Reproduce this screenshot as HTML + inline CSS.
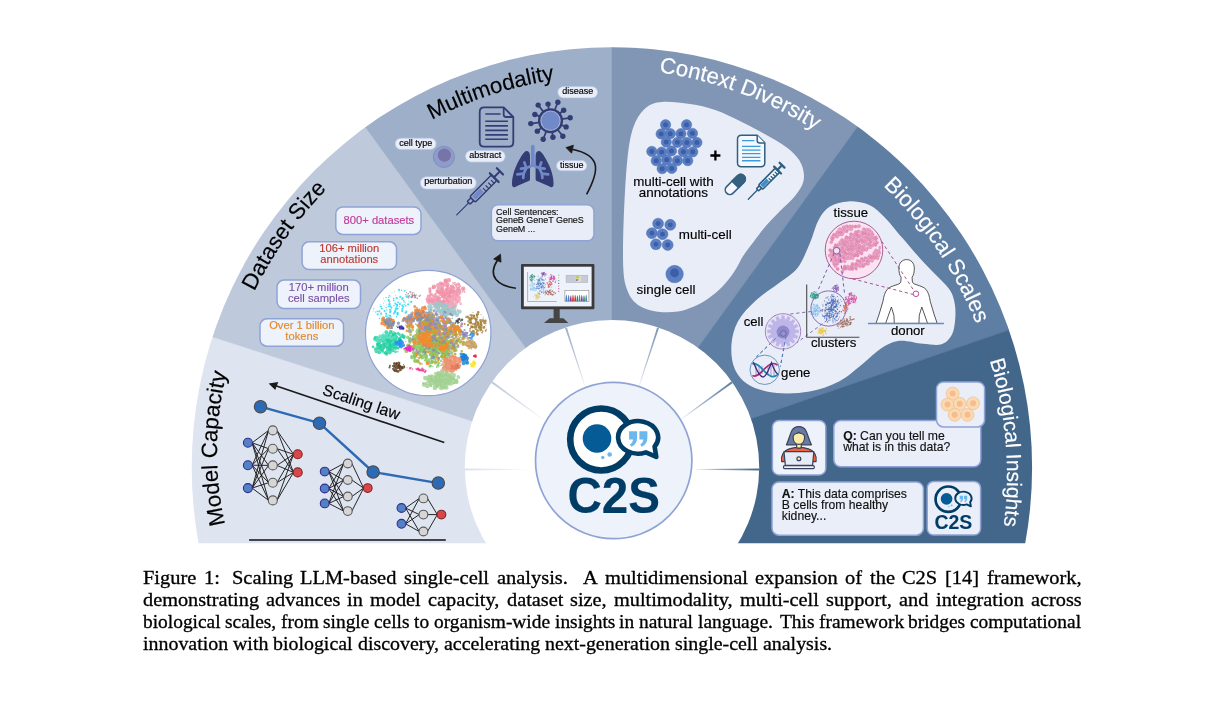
<!DOCTYPE html>
<html lang="en"><head><meta charset="utf-8"><title>Figure 1: Scaling LLM-based single-cell analysis</title>
<style>
html,body{margin:0;padding:0;background:#fff;}
body{width:1222px;height:703px;overflow:hidden;position:relative;font-family:"Liberation Sans",sans-serif;}
svg{position:absolute;left:0;top:0;display:block;will-change:transform}
svg text{font-family:"Liberation Sans",sans-serif;stroke-width:0.15px}
.cap{will-change:transform;position:absolute;left:143.4px;top:566px;width:960px;height:110px;font-family:"Liberation Serif",serif;font-size:19.85px;line-height:22px;color:#000;}
.cap div{position:absolute;left:0;width:960px;height:22px;margin-top:-17.2px}
.cap span{position:absolute;top:0;white-space:nowrap;transform-origin:0 0;-webkit-text-stroke:0.32px #000}
</style></head><body>
<svg width="1222" height="703" viewBox="0 0 1222 703">
<defs>
<clipPath id="fan"><path d="M0,0 H1222 V543.2 H0 Z"/></clipPath>
<clipPath id="disc"><circle cx="611.9" cy="467.5" r="420.2"/></clipPath>
<clipPath id="hubclip"><circle cx="612.0" cy="467.2" r="147.2"/></clipPath>
<clipPath id="umapclip"><circle cx="428.2" cy="333.0" r="60.2"/></clipPath>
<clipPath id="tisclip"><circle cx="854.0" cy="250.0" r="27.0"/></clipPath>
<linearGradient id="sp0" gradientUnits="userSpaceOnUse" x1="463" y1="469.4" x2="528" y2="469.4"><stop offset="0" stop-color="#D9E0EF"/><stop offset="0.6" stop-color="#D9E0EF" stop-opacity="0.6"/><stop offset="1" stop-color="#D9E0EF" stop-opacity="0.1"/></linearGradient>
<linearGradient id="sp1" gradientUnits="userSpaceOnUse" x1="491.46" y1="381.82" x2="544.04" y2="420.03"><stop offset="0" stop-color="#BEC9DC"/><stop offset="0.6" stop-color="#BEC9DC" stop-opacity="0.6"/><stop offset="1" stop-color="#BEC9DC" stop-opacity="0.1"/></linearGradient>
<linearGradient id="sp2" gradientUnits="userSpaceOnUse" x1="565.96" y1="327.69" x2="586.04" y2="389.51"><stop offset="0" stop-color="#9EB0C9"/><stop offset="0.6" stop-color="#9EB0C9" stop-opacity="0.6"/><stop offset="1" stop-color="#9EB0C9" stop-opacity="0.1"/></linearGradient>
<linearGradient id="sp3" gradientUnits="userSpaceOnUse" x1="658.04" y1="327.69" x2="637.96" y2="389.51"><stop offset="0" stop-color="#8196B5"/><stop offset="0.6" stop-color="#8196B5" stop-opacity="0.6"/><stop offset="1" stop-color="#8196B5" stop-opacity="0.1"/></linearGradient>
<linearGradient id="sp4" gradientUnits="userSpaceOnUse" x1="732.54" y1="381.82" x2="679.96" y2="420.03"><stop offset="0" stop-color="#5F7EA4"/><stop offset="0.6" stop-color="#5F7EA4" stop-opacity="0.6"/><stop offset="1" stop-color="#5F7EA4" stop-opacity="0.1"/></linearGradient>
<linearGradient id="sp5" gradientUnits="userSpaceOnUse" x1="761" y1="469.4" x2="696" y2="469.4"><stop offset="0" stop-color="#43678B"/><stop offset="0.6" stop-color="#43678B" stop-opacity="0.6"/><stop offset="1" stop-color="#43678B" stop-opacity="0.1"/></linearGradient>
</defs>
<g clip-path="url(#fan)"><g clip-path="url(#disc)">
<g id="wedges">
<path d="M612.0,466.6 L162,1246.02 L-243.95,188.48 Z" fill="#DEE4F0" stroke="#DEE4F0" stroke-width="0.5"/>
<path d="M612.0,466.6 L-243.95,188.48 L82.99,-261.52 Z" fill="#BEC9DC" stroke="#BEC9DC" stroke-width="0.5"/>
<path d="M612.0,466.6 L82.99,-261.52 L612,-433.4 Z" fill="#9EB0C9" stroke="#9EB0C9" stroke-width="0.5"/>
<path d="M612.0,466.6 L612,-433.4 L1139.1,-262.9 Z" fill="#8196B5" stroke="#8196B5" stroke-width="0.5"/>
<path d="M612.0,466.6 L1139.1,-262.9 L1462.97,173.59 Z" fill="#5F7EA4" stroke="#5F7EA4" stroke-width="0.5"/>
<path d="M612.0,466.6 L1462.97,173.59 L1062,1246.02 Z" fill="#43678B" stroke="#43678B" stroke-width="0.5"/>
</g>
<g id="titles">
<path id="tp0" d="M292.38,662.44 A331.7,331.7 0 0 1 296.85,236.04" fill="none"/>
<text font-size="22.2" fill="#000" stroke="#000" text-anchor="middle"><textPath href="#tp0" startOffset="50%">Model Capacity</textPath></text>
<path id="tp1" d="M214.35,501.28 A400,400 0 0 1 511.5,81.59" fill="none"/>
<text font-size="22.2" fill="#000" stroke="#000" text-anchor="middle"><textPath href="#tp1" startOffset="50%">Dataset Size</textPath></text>
<path id="tp2" d="M279.72,260.24 A393,393 0 0 1 760.22,104.12" fill="none"/>
<text font-size="22.2" fill="#000" stroke="#000" text-anchor="middle"><textPath href="#tp2" startOffset="50%">Multimodality</textPath></text>
<path id="tp3" d="M470.63,91.03 A394,394 0 0 1 945.38,267.59" fill="none"/>
<text font-size="22.2" fill="#fff" stroke="#fff" text-anchor="middle"><textPath href="#tp3" startOffset="50%">Context Diversity</textPath></text>
<path id="tp4" d="M720.77,92.65 A391,391 0 0 1 1001.86,509.37" fill="none"/>
<text font-size="22.2" fill="#fff" stroke="#fff" text-anchor="middle"><textPath href="#tp4" startOffset="50%">Biological Scales</textPath></text>
<path id="tp5" d="M893.15,199.08 A392,392 0 0 1 935.32,701.26" fill="none"/>
<text font-size="20.9" fill="#fff" stroke="#fff" text-anchor="middle"><textPath href="#tp5" startOffset="50%">Biological Insights</textPath></text>
</g>
<g id="model">
<line x1="252.1" y1="442.8" x2="268.6" y2="430.4" stroke="#1a1a1a" stroke-width="0.95"/>
<line x1="252.1" y1="442.8" x2="268.6" y2="448.7" stroke="#1a1a1a" stroke-width="0.95"/>
<line x1="252.1" y1="442.8" x2="268.6" y2="465.4" stroke="#1a1a1a" stroke-width="0.95"/>
<line x1="252.1" y1="442.8" x2="268.6" y2="482.7" stroke="#1a1a1a" stroke-width="0.95"/>
<line x1="252.1" y1="442.8" x2="268.6" y2="500.4" stroke="#1a1a1a" stroke-width="0.95"/>
<line x1="252.1" y1="465.2" x2="268.6" y2="430.4" stroke="#1a1a1a" stroke-width="0.95"/>
<line x1="252.1" y1="465.2" x2="268.6" y2="448.7" stroke="#1a1a1a" stroke-width="0.95"/>
<line x1="252.1" y1="465.2" x2="268.6" y2="465.4" stroke="#1a1a1a" stroke-width="0.95"/>
<line x1="252.1" y1="465.2" x2="268.6" y2="482.7" stroke="#1a1a1a" stroke-width="0.95"/>
<line x1="252.1" y1="465.2" x2="268.6" y2="500.4" stroke="#1a1a1a" stroke-width="0.95"/>
<line x1="252.1" y1="488.1" x2="268.6" y2="430.4" stroke="#1a1a1a" stroke-width="0.95"/>
<line x1="252.1" y1="488.1" x2="268.6" y2="448.7" stroke="#1a1a1a" stroke-width="0.95"/>
<line x1="252.1" y1="488.1" x2="268.6" y2="465.4" stroke="#1a1a1a" stroke-width="0.95"/>
<line x1="252.1" y1="488.1" x2="268.6" y2="482.7" stroke="#1a1a1a" stroke-width="0.95"/>
<line x1="252.1" y1="488.1" x2="268.6" y2="500.4" stroke="#1a1a1a" stroke-width="0.95"/>
<line x1="277" y1="430.4" x2="293.5" y2="454.3" stroke="#1a1a1a" stroke-width="0.95"/>
<line x1="277" y1="430.4" x2="293.5" y2="472.4" stroke="#1a1a1a" stroke-width="0.95"/>
<line x1="277" y1="448.7" x2="293.5" y2="454.3" stroke="#1a1a1a" stroke-width="0.95"/>
<line x1="277" y1="448.7" x2="293.5" y2="472.4" stroke="#1a1a1a" stroke-width="0.95"/>
<line x1="277" y1="465.4" x2="293.5" y2="454.3" stroke="#1a1a1a" stroke-width="0.95"/>
<line x1="277" y1="465.4" x2="293.5" y2="472.4" stroke="#1a1a1a" stroke-width="0.95"/>
<line x1="277" y1="482.7" x2="293.5" y2="454.3" stroke="#1a1a1a" stroke-width="0.95"/>
<line x1="277" y1="482.7" x2="293.5" y2="472.4" stroke="#1a1a1a" stroke-width="0.95"/>
<line x1="277" y1="500.4" x2="293.5" y2="454.3" stroke="#1a1a1a" stroke-width="0.95"/>
<line x1="277" y1="500.4" x2="293.5" y2="472.4" stroke="#1a1a1a" stroke-width="0.95"/>
<circle cx="247.9" cy="442.8" r="4.5" fill="#5480C6" stroke="#2E2E8E" stroke-width="1.1"/>
<circle cx="247.9" cy="465.2" r="4.5" fill="#5480C6" stroke="#2E2E8E" stroke-width="1.1"/>
<circle cx="247.9" cy="488.1" r="4.5" fill="#5480C6" stroke="#2E2E8E" stroke-width="1.1"/>
<circle cx="272.8" cy="430.4" r="4.5" fill="#D6D6D6" stroke="#5A5A5A" stroke-width="1.1"/>
<circle cx="272.8" cy="448.7" r="4.5" fill="#D6D6D6" stroke="#5A5A5A" stroke-width="1.1"/>
<circle cx="272.8" cy="465.4" r="4.5" fill="#D6D6D6" stroke="#5A5A5A" stroke-width="1.1"/>
<circle cx="272.8" cy="482.7" r="4.5" fill="#D6D6D6" stroke="#5A5A5A" stroke-width="1.1"/>
<circle cx="272.8" cy="500.4" r="4.5" fill="#D6D6D6" stroke="#5A5A5A" stroke-width="1.1"/>
<circle cx="297.7" cy="454.3" r="4.5" fill="#D9474B" stroke="#7E2424" stroke-width="1.1"/>
<circle cx="297.7" cy="472.4" r="4.5" fill="#D9474B" stroke="#7E2424" stroke-width="1.1"/>
<line x1="328.8" y1="471.6" x2="343.7" y2="463.5" stroke="#1a1a1a" stroke-width="0.95"/>
<line x1="328.8" y1="471.6" x2="343.7" y2="480" stroke="#1a1a1a" stroke-width="0.95"/>
<line x1="328.8" y1="471.6" x2="343.7" y2="496.5" stroke="#1a1a1a" stroke-width="0.95"/>
<line x1="328.8" y1="471.6" x2="343.7" y2="511.1" stroke="#1a1a1a" stroke-width="0.95"/>
<line x1="328.8" y1="488.5" x2="343.7" y2="463.5" stroke="#1a1a1a" stroke-width="0.95"/>
<line x1="328.8" y1="488.5" x2="343.7" y2="480" stroke="#1a1a1a" stroke-width="0.95"/>
<line x1="328.8" y1="488.5" x2="343.7" y2="496.5" stroke="#1a1a1a" stroke-width="0.95"/>
<line x1="328.8" y1="488.5" x2="343.7" y2="511.1" stroke="#1a1a1a" stroke-width="0.95"/>
<line x1="328.8" y1="503.4" x2="343.7" y2="463.5" stroke="#1a1a1a" stroke-width="0.95"/>
<line x1="328.8" y1="503.4" x2="343.7" y2="480" stroke="#1a1a1a" stroke-width="0.95"/>
<line x1="328.8" y1="503.4" x2="343.7" y2="496.5" stroke="#1a1a1a" stroke-width="0.95"/>
<line x1="328.8" y1="503.4" x2="343.7" y2="511.1" stroke="#1a1a1a" stroke-width="0.95"/>
<line x1="351.9" y1="463.5" x2="363.6" y2="488.1" stroke="#1a1a1a" stroke-width="0.95"/>
<line x1="351.9" y1="480" x2="363.6" y2="488.1" stroke="#1a1a1a" stroke-width="0.95"/>
<line x1="351.9" y1="496.5" x2="363.6" y2="488.1" stroke="#1a1a1a" stroke-width="0.95"/>
<line x1="351.9" y1="511.1" x2="363.6" y2="488.1" stroke="#1a1a1a" stroke-width="0.95"/>
<circle cx="324.7" cy="471.6" r="4.4" fill="#5480C6" stroke="#2E2E8E" stroke-width="1.1"/>
<circle cx="324.7" cy="488.5" r="4.4" fill="#5480C6" stroke="#2E2E8E" stroke-width="1.1"/>
<circle cx="324.7" cy="503.4" r="4.4" fill="#5480C6" stroke="#2E2E8E" stroke-width="1.1"/>
<circle cx="347.8" cy="463.5" r="4.4" fill="#D6D6D6" stroke="#5A5A5A" stroke-width="1.1"/>
<circle cx="347.8" cy="480" r="4.4" fill="#D6D6D6" stroke="#5A5A5A" stroke-width="1.1"/>
<circle cx="347.8" cy="496.5" r="4.4" fill="#D6D6D6" stroke="#5A5A5A" stroke-width="1.1"/>
<circle cx="347.8" cy="511.1" r="4.4" fill="#D6D6D6" stroke="#5A5A5A" stroke-width="1.1"/>
<circle cx="367.7" cy="488.1" r="4.4" fill="#D9474B" stroke="#7E2424" stroke-width="1.1"/>
<line x1="405.6" y1="508" x2="419.3" y2="498.4" stroke="#1a1a1a" stroke-width="0.95"/>
<line x1="405.6" y1="508" x2="419.3" y2="514.6" stroke="#1a1a1a" stroke-width="0.95"/>
<line x1="405.6" y1="508" x2="419.3" y2="531.5" stroke="#1a1a1a" stroke-width="0.95"/>
<line x1="405.6" y1="523.8" x2="419.3" y2="498.4" stroke="#1a1a1a" stroke-width="0.95"/>
<line x1="405.6" y1="523.8" x2="419.3" y2="514.6" stroke="#1a1a1a" stroke-width="0.95"/>
<line x1="405.6" y1="523.8" x2="419.3" y2="531.5" stroke="#1a1a1a" stroke-width="0.95"/>
<line x1="427.5" y1="498.4" x2="437.3" y2="514.6" stroke="#1a1a1a" stroke-width="0.95"/>
<line x1="427.5" y1="514.6" x2="437.3" y2="514.6" stroke="#1a1a1a" stroke-width="0.95"/>
<line x1="427.5" y1="531.5" x2="437.3" y2="514.6" stroke="#1a1a1a" stroke-width="0.95"/>
<circle cx="401.5" cy="508" r="4.4" fill="#5480C6" stroke="#2E2E8E" stroke-width="1.1"/>
<circle cx="401.5" cy="523.8" r="4.4" fill="#5480C6" stroke="#2E2E8E" stroke-width="1.1"/>
<circle cx="423.4" cy="498.4" r="4.4" fill="#D6D6D6" stroke="#5A5A5A" stroke-width="1.1"/>
<circle cx="423.4" cy="514.6" r="4.4" fill="#D6D6D6" stroke="#5A5A5A" stroke-width="1.1"/>
<circle cx="423.4" cy="531.5" r="4.4" fill="#D6D6D6" stroke="#5A5A5A" stroke-width="1.1"/>
<circle cx="441.4" cy="514.6" r="4.4" fill="#D9474B" stroke="#7E2424" stroke-width="1.1"/>
<polyline points="260.5,406.7 319.5,423.2 373.1,472.0 438.3,483.1" fill="none" stroke="#2D6AB6" stroke-width="2.4" stroke-linejoin="round"/>
<circle cx="260.5" cy="406.7" r="6.2" fill="#2D6AB6" stroke="#4a4a4a" stroke-width="1.1"/>
<circle cx="319.5" cy="423.2" r="6.2" fill="#2D6AB6" stroke="#4a4a4a" stroke-width="1.1"/>
<circle cx="373.1" cy="472.0" r="6.2" fill="#2D6AB6" stroke="#4a4a4a" stroke-width="1.1"/>
<circle cx="438.3" cy="483.1" r="6.2" fill="#2D6AB6" stroke="#4a4a4a" stroke-width="1.1"/>
<line x1="444.3" y1="442.6" x2="275" y2="385.6" stroke="#1a1a1a" stroke-width="1.6"/>
<path d="M268.6,383.4 L278.3,382.0 L276.6,386.2 L275.3,389.9 Z" fill="#1a1a1a"/>
<text transform="translate(321.6,394.3) rotate(18.6)" font-size="15.9" fill="#000" stroke="#000">Scaling law</text>
<line x1="249.1" y1="539.9" x2="445.8" y2="539.9" stroke="#111" stroke-width="1.5"/>
</g>
<g id="dataset">
<rect x="335.8" y="207" width="85.2" height="27.4" rx="7" fill="#EEF2FB" stroke="#8FA3D6" stroke-width="1.5"/>
<text x="378.9" y="223.7" font-size="11.2" fill="#C0399A" stroke="#C0399A" text-anchor="middle">800+ datasets</text>
<rect x="302.1" y="241.8" width="94.4" height="27.8" rx="7" fill="#EEF2FB" stroke="#8FA3D6" stroke-width="1.5"/>
<text font-size="11.2" fill="#BE3A32" stroke="#BE3A32" text-anchor="middle" x="349.3" y="252.1">106+ million</text>
<text font-size="11.2" fill="#BE3A32" stroke="#BE3A32" text-anchor="middle" x="349.3" y="262.9">annotations</text>
<rect x="277" y="280.1" width="83.5" height="28.4" rx="7" fill="#EEF2FB" stroke="#8FA3D6" stroke-width="1.5"/>
<text font-size="11.2" fill="#7C50A6" stroke="#7C50A6" text-anchor="middle" x="318.8" y="290.7">170+ million</text>
<text font-size="11.2" fill="#7C50A6" stroke="#7C50A6" text-anchor="middle" x="318.8" y="301.5">cell samples</text>
<rect x="260" y="318.8" width="83.5" height="27.4" rx="7" fill="#EEF2FB" stroke="#8FA3D6" stroke-width="1.5"/>
<text font-size="11.2" fill="#E2892C" stroke="#E2892C" text-anchor="middle" x="301.8" y="329.2">Over 1 billion</text>
<text font-size="11.2" fill="#E2892C" stroke="#E2892C" text-anchor="middle" x="301.8" y="339.5">tokens</text>
<circle cx="428.2" cy="333.0" r="62.7" fill="#fff" stroke="#8FA3D6" stroke-width="1.2"/>
<g clip-path="url(#umapclip)">
<path d="M391.3,310.3h0M405.5,302.9h0M399.3,306.4h0M395.8,298.3h0M383.4,303.3h0M384.5,300.9h0M392.0,292.8h0M397.4,302.5h0M408.8,300.9h0M383.4,298.7h0M409.5,302.4h0M404.5,301.1h0M399.6,306.7h0M397.7,301.6h0M384.0,305.8h0M406.4,295.1h0M403.8,291.3h0M407.1,305.9h0M391.4,308.2h0M386.6,304.9h0M381.3,312.7h0M393.6,300.3h0M399.2,292.2h0M373.2,311.3h0M394.7,291.5h0M401.2,302.5h0M401.2,299.0h0M395.7,295.6h0M404.8,291.5h0M388.1,320.8h0M397.9,306.3h0M387.8,316.3h0M393.7,299.5h0M395.1,313.0h0M390.2,306.2h0M401.3,309.8h0M373.0,309.3h0M390.2,296.3h0M380.3,304.4h0M399.1,299.9h0" stroke="#22D6F0" stroke-opacity="0.8" stroke-width="0.8" stroke-linecap="round" fill="none"/>
<path d="M388.9,304.3h0M404.1,302.1h0M381.4,306.5h0M396.9,306.7h0M388.4,306.4h0M390.9,316.6h0M397.2,314.4h0M379.6,318.5h0M389.4,295.7h0M380.4,306.4h0M393.7,298.5h0M396.4,307.3h0M404.2,304.4h0M397.9,308.4h0M403.5,300.5h0M377.3,311.3h0M401.5,290.3h0M396.5,304.7h0M398.4,302.6h0M395.3,312.0h0M397.4,305.1h0M386.2,307.4h0M394.8,312.5h0M390.8,311.5h0M398.1,313.0h0M396.5,316.7h0M396.1,309.7h0M376.7,300.1h0M388.6,297.4h0M402.2,299.3h0M404.8,290.8h0M394.0,305.7h0M395.0,311.3h0M388.1,314.9h0M386.9,310.0h0M386.1,297.5h0M405.6,306.0h0M373.7,308.6h0M375.8,312.1h0M393.9,300.8h0" stroke="#22D6F0" stroke-opacity="0.8" stroke-width="1.5" stroke-linecap="round" fill="none"/>
<path d="M381.8,308.5h0M397.1,304.8h0M395.4,303.6h0M402.2,311.1h0M399.9,304.1h0M384.6,311.1h0M388.6,300.2h0M402.5,308.8h0M396.9,298.1h0M377.7,314.3h0M383.7,317.8h0M411.2,301.9h0M393.8,313.5h0M397.4,312.9h0M386.2,316.4h0M389.8,304.1h0M386.1,313.7h0M395.9,308.7h0M402.3,305.6h0M390.1,309.8h0M390.0,312.2h0M389.8,306.1h0M406.3,311.7h0M399.1,289.9h0M391.4,307.5h0M402.5,298.2h0M396.8,308.8h0M408.2,304.4h0M405.7,312.8h0M389.4,301.6h0M407.1,297.0h0M406.5,296.5h0M397.6,314.4h0M379.3,311.4h0M411.4,296.9h0M390.0,315.7h0M395.1,311.1h0M400.3,296.9h0M381.1,313.8h0M403.1,306.8h0" stroke="#22D6F0" stroke-opacity="0.8" stroke-width="2.2" stroke-linecap="round" fill="none"/>
<path d="M415.8,295.7h0M411.0,294.3h0M408.3,295.8h0M407.7,295.2h0M415.6,296.1h0M413.7,293.1h0M410.3,293.0h0M412.5,296.8h0M415.6,295.4h0M409.7,295.8h0M411.3,292.0h0M414.1,292.3h0M409.3,297.4h0M412.7,297.0h0" stroke="#9E7386" stroke-opacity="0.8" stroke-width="0.6" stroke-linecap="round" fill="none"/>
<path d="M419.0,296.0h0M408.6,298.0h0M414.3,297.3h0M416.7,294.9h0M420.5,295.1h0M405.8,294.6h0M406.4,292.6h0M409.2,295.6h0M411.4,297.7h0M412.1,295.8h0M415.0,297.9h0M408.6,298.1h0M414.9,295.4h0" stroke="#9E7386" stroke-opacity="0.8" stroke-width="1.1" stroke-linecap="round" fill="none"/>
<path d="M417.3,298.2h0M415.6,297.3h0M412.3,294.8h0M408.2,293.7h0M412.5,296.8h0M414.0,295.6h0M408.7,296.7h0M414.8,296.0h0M412.4,293.0h0M412.6,295.8h0M414.5,294.5h0M410.1,291.9h0M419.7,296.0h0" stroke="#9E7386" stroke-opacity="0.8" stroke-width="1.6" stroke-linecap="round" fill="none"/>
<path d="M453.0,282.8h0M454.0,300.1h0M455.6,291.5h0M453.5,292.4h0M444.2,301.7h0M439.0,302.5h0M454.3,284.1h0M445.9,297.1h0M430.2,291.1h0M431.2,300.1h0M453.6,295.3h0M428.9,302.9h0M451.6,298.3h0M453.7,294.7h0M432.3,298.8h0M457.3,291.9h0M456.0,299.7h0M454.9,282.6h0M436.7,300.6h0M446.6,290.9h0M439.3,303.7h0M445.2,297.9h0M456.4,287.0h0M441.0,284.0h0M435.4,300.2h0M437.7,291.7h0M437.2,298.2h0M443.3,299.1h0M435.2,304.4h0M450.1,292.5h0M445.9,301.6h0M462.6,291.7h0M452.6,291.3h0M459.6,284.9h0M464.6,291.9h0M430.4,290.2h0M440.2,301.1h0M459.1,286.9h0M460.4,286.3h0M438.5,300.9h0M440.1,291.7h0M453.7,290.7h0M437.9,298.0h0M447.8,296.5h0M444.1,293.4h0M445.5,295.7h0M451.7,291.5h0M451.1,301.0h0M448.9,294.5h0M458.5,287.1h0M463.4,288.9h0M449.3,303.7h0M450.3,290.9h0M435.6,293.7h0M455.3,305.5h0M445.6,298.7h0M448.9,303.0h0M447.8,288.0h0M447.1,301.1h0M446.7,282.6h0M451.3,296.9h0M450.5,286.0h0M430.1,293.7h0M448.3,306.1h0M440.2,291.9h0M450.0,295.0h0M457.3,302.5h0" stroke="#F08FA8" stroke-opacity="0.8" stroke-width="1.8" stroke-linecap="round" fill="none"/>
<path d="M445.3,301.6h0M457.8,288.7h0M432.6,301.4h0M455.8,296.1h0M431.5,294.6h0M450.9,292.6h0M456.1,299.5h0M453.8,298.3h0M444.0,295.7h0M441.8,293.7h0M442.0,290.4h0M442.6,283.9h0M442.0,288.8h0M433.1,287.6h0M439.8,298.1h0M437.3,300.3h0M450.0,292.1h0M442.5,296.4h0M453.3,298.6h0M458.4,284.2h0M459.5,289.9h0M447.1,301.5h0M443.3,293.1h0M445.0,298.0h0M444.0,309.5h0M433.6,296.3h0M439.6,298.7h0M447.6,301.1h0M439.5,302.9h0M429.3,300.7h0M437.1,303.8h0M452.7,286.3h0M450.8,296.4h0M429.8,288.8h0M437.2,292.1h0M448.8,296.1h0M443.3,295.1h0M452.0,286.0h0M444.6,297.2h0M446.0,297.2h0M445.6,281.1h0M446.4,289.0h0M449.7,302.6h0M456.1,294.5h0M437.0,290.8h0M445.6,303.2h0M447.2,286.0h0M446.6,293.4h0M451.2,289.7h0M448.0,308.2h0M456.3,284.9h0M440.0,301.5h0M446.3,281.1h0M442.9,303.6h0M446.0,298.2h0M457.4,296.7h0M430.0,291.6h0M434.1,295.8h0M435.1,295.2h0M449.9,293.3h0M458.5,288.4h0M448.6,309.3h0M449.7,301.9h0M439.0,292.6h0M443.8,301.2h0M436.1,305.4h0M438.6,301.5h0" stroke="#F08FA8" stroke-opacity="0.8" stroke-width="3.2" stroke-linecap="round" fill="none"/>
<path d="M444.7,304.9h0M443.6,303.5h0M452.0,302.7h0M447.3,294.9h0M440.7,283.8h0M438.3,285.2h0M434.0,286.8h0M429.0,296.6h0M445.7,280.9h0M442.0,289.6h0M434.2,299.5h0M441.2,293.9h0M443.1,295.4h0M438.7,291.0h0M449.4,290.0h0M452.0,304.1h0M447.4,284.8h0M457.7,290.9h0M463.2,288.8h0M450.9,288.9h0M439.8,304.4h0M437.6,297.6h0M440.4,287.3h0M449.3,291.6h0M452.9,291.4h0M449.6,298.2h0M447.7,297.9h0M441.9,287.3h0M453.9,294.7h0M448.3,289.4h0M446.0,293.6h0M444.7,295.3h0M427.8,299.6h0M432.4,302.8h0M452.2,297.5h0M430.0,298.9h0M444.0,305.0h0M447.8,300.9h0M428.5,301.4h0M441.4,304.5h0M437.4,297.9h0M452.9,307.1h0M453.8,299.1h0M452.7,289.2h0M439.8,302.8h0M449.9,292.2h0M457.7,293.7h0M444.4,293.0h0M442.1,302.3h0M443.4,302.4h0M446.9,293.9h0M434.7,303.4h0M448.8,280.2h0M444.6,291.9h0M459.2,292.5h0M438.9,288.2h0M440.8,292.9h0M442.4,290.3h0M436.8,297.9h0M454.3,293.7h0M453.3,288.6h0M449.3,292.3h0M451.0,297.7h0M454.8,292.3h0M445.3,284.4h0M440.8,293.8h0" stroke="#F08FA8" stroke-opacity="0.8" stroke-width="4.6" stroke-linecap="round" fill="none"/>
<path d="M452.8,308.6h0M449.5,300.5h0M460.1,299.8h0M458.6,301.0h0M455.2,297.1h0M450.8,299.4h0M446.6,306.2h0M451.2,301.4h0M447.1,302.9h0M447.8,307.9h0M447.7,295.9h0M457.9,301.9h0M449.7,302.5h0M446.9,306.5h0M457.3,300.0h0M451.6,299.7h0M455.5,300.2h0M446.7,302.6h0M451.0,298.8h0M449.6,305.6h0" stroke="#F4A8BC" stroke-opacity="0.8" stroke-width="1.6" stroke-linecap="round" fill="none"/>
<path d="M450.9,307.9h0M449.4,305.4h0M450.2,308.8h0M454.2,303.3h0M455.5,294.8h0M451.9,299.2h0M456.2,301.9h0M452.1,299.8h0M447.8,309.5h0M459.5,297.2h0M449.3,305.5h0M458.2,300.5h0M446.1,297.3h0M454.1,299.6h0M450.4,300.3h0M455.1,304.1h0M460.7,303.9h0M453.9,295.5h0M458.4,296.5h0M451.0,301.4h0" stroke="#F4A8BC" stroke-opacity="0.8" stroke-width="2.6" stroke-linecap="round" fill="none"/>
<path d="M451.1,306.0h0M458.7,297.4h0M456.3,302.5h0M450.4,303.9h0M451.8,299.4h0M455.8,304.9h0M459.2,298.2h0M444.6,304.3h0M447.1,310.2h0M448.3,305.7h0M449.8,304.7h0M450.4,303.6h0M450.2,303.7h0M453.7,299.1h0M453.8,298.0h0M447.4,306.0h0M459.0,301.2h0M446.3,302.8h0M450.1,311.5h0M451.6,298.6h0" stroke="#F4A8BC" stroke-opacity="0.8" stroke-width="3.6" stroke-linecap="round" fill="none"/>
<path d="M433.2,304.8h0M437.3,305.8h0M452.0,311.0h0M439.1,307.3h0M453.6,314.1h0M456.3,312.0h0M457.4,309.6h0M457.7,314.1h0M446.8,314.7h0M440.7,311.7h0M444.0,305.5h0M435.5,313.1h0M447.1,305.8h0M445.0,309.2h0M449.9,308.3h0M437.3,307.0h0M440.9,310.6h0M440.1,303.2h0M445.5,310.4h0M444.5,307.1h0M440.1,314.4h0M451.8,306.8h0M435.3,312.6h0M446.5,307.9h0M428.2,307.0h0M441.3,305.0h0M439.9,302.8h0M446.9,309.0h0M452.7,308.5h0M445.0,304.5h0M447.8,313.6h0M449.0,308.6h0M443.4,312.6h0M458.0,311.0h0M443.5,305.6h0M442.0,309.7h0M437.8,305.4h0" stroke="#9EC5C8" stroke-opacity="0.8" stroke-width="1.8" stroke-linecap="round" fill="none"/>
<path d="M443.6,309.6h0M447.8,312.1h0M449.9,312.6h0M437.3,305.4h0M455.2,306.9h0M436.6,306.9h0M454.0,312.5h0M454.8,311.7h0M431.4,307.0h0M447.7,304.5h0M444.2,311.2h0M442.7,306.5h0M441.8,314.2h0M443.0,311.9h0M435.4,303.9h0M445.9,314.7h0M446.3,310.1h0M454.2,313.2h0M439.3,306.5h0M439.4,312.1h0M438.3,310.8h0M452.6,311.7h0M438.0,307.8h0M449.7,310.5h0M447.3,313.9h0M452.9,314.3h0M438.6,306.1h0M445.5,309.2h0M444.2,313.5h0M438.9,311.2h0M446.3,305.2h0M446.0,312.7h0M438.8,308.3h0M450.4,312.7h0M447.2,314.9h0M430.7,310.9h0M450.7,314.5h0" stroke="#9EC5C8" stroke-opacity="0.8" stroke-width="3.1" stroke-linecap="round" fill="none"/>
<path d="M448.6,310.7h0M442.9,308.7h0M444.9,314.4h0M443.7,311.5h0M438.0,310.1h0M438.6,305.4h0M438.2,309.9h0M448.5,309.5h0M446.3,307.8h0M444.2,305.5h0M444.0,310.5h0M435.2,306.7h0M449.9,310.0h0M444.2,306.3h0M430.5,309.3h0M445.0,310.3h0M440.3,304.0h0M448.2,311.8h0M446.9,311.0h0M450.5,311.0h0M454.1,310.3h0M429.6,309.4h0M446.5,308.7h0M454.0,311.4h0M442.2,311.6h0M456.8,314.8h0M436.4,310.2h0M445.3,312.4h0M429.7,305.8h0M437.2,303.2h0M450.2,313.4h0M446.4,311.6h0M440.8,311.0h0M459.5,311.6h0M448.3,311.8h0M440.9,305.0h0" stroke="#9EC5C8" stroke-opacity="0.8" stroke-width="4.4" stroke-linecap="round" fill="none"/>
<path d="M382.0,323.1h0M385.5,322.6h0M386.4,319.3h0M391.1,318.8h0M386.1,319.6h0M392.9,325.1h0M391.7,326.2h0M391.7,320.5h0M387.2,323.0h0M382.2,322.6h0M393.3,323.0h0M391.8,327.7h0M383.8,324.4h0M391.0,321.1h0" stroke="#F0882C" stroke-opacity="0.8" stroke-width="1.6" stroke-linecap="round" fill="none"/>
<path d="M392.4,322.3h0M390.8,318.8h0M384.9,325.3h0M386.8,320.3h0M389.4,327.1h0M390.5,327.9h0M382.6,319.3h0M388.4,327.1h0M386.7,325.1h0M385.8,323.6h0M388.0,327.9h0M391.7,319.7h0M384.9,321.9h0" stroke="#F0882C" stroke-opacity="0.8" stroke-width="2.6" stroke-linecap="round" fill="none"/>
<path d="M383.2,318.4h0M393.1,320.6h0M391.1,325.4h0M383.9,322.6h0M390.0,320.2h0M393.2,323.0h0M382.8,320.2h0M382.0,323.5h0M392.3,324.3h0M387.8,327.4h0M385.8,323.0h0M383.1,321.4h0M386.5,321.5h0" stroke="#F0882C" stroke-opacity="0.8" stroke-width="3.6" stroke-linecap="round" fill="none"/>
<path d="M393.9,322.6h0M398.0,326.1h0M385.4,323.3h0M391.0,323.1h0M390.5,328.4h0M386.7,318.7h0M388.5,321.8h0M389.0,323.1h0M387.6,324.4h0M396.8,326.3h0M391.5,319.6h0M391.5,326.7h0M394.2,322.0h0M388.8,324.9h0" stroke="#7A8FB0" stroke-opacity="0.8" stroke-width="1.4" stroke-linecap="round" fill="none"/>
<path d="M388.6,324.2h0M390.0,325.3h0M390.0,320.7h0M390.2,321.3h0M389.5,324.3h0M392.1,328.1h0M391.1,325.1h0M386.4,322.0h0M393.0,323.9h0M386.6,321.6h0M387.4,324.6h0M386.1,323.4h0M388.0,322.3h0" stroke="#7A8FB0" stroke-opacity="0.8" stroke-width="2.3" stroke-linecap="round" fill="none"/>
<path d="M388.7,323.5h0M388.8,325.9h0M398.3,323.3h0M392.9,325.1h0M398.4,323.2h0M384.9,320.3h0M389.9,323.1h0M385.8,322.3h0M388.5,319.4h0M392.4,323.5h0M384.5,320.3h0M393.7,322.3h0M388.6,318.3h0" stroke="#7A8FB0" stroke-opacity="0.8" stroke-width="3.2" stroke-linecap="round" fill="none"/>
<path d="M411.7,324.3h0M414.7,314.5h0M416.3,314.3h0M405.0,319.7h0M407.3,318.3h0M407.6,318.7h0M411.6,323.3h0M414.1,318.6h0M416.4,317.1h0M408.6,319.2h0M412.4,319.6h0M420.3,316.5h0M411.1,319.2h0M411.1,325.6h0M405.8,325.0h0M406.8,319.3h0M407.3,320.7h0" stroke="#E8853A" stroke-opacity="0.8" stroke-width="1.6" stroke-linecap="round" fill="none"/>
<path d="M403.8,319.0h0M415.8,318.1h0M404.4,318.0h0M407.3,317.1h0M411.0,318.1h0M412.6,312.9h0M411.0,323.6h0M411.8,314.7h0M416.7,316.0h0M412.3,319.7h0M409.6,317.8h0M410.6,318.5h0M418.7,315.9h0M409.9,320.6h0M419.2,320.6h0M407.1,326.6h0M410.3,324.8h0" stroke="#E8853A" stroke-opacity="0.8" stroke-width="2.7" stroke-linecap="round" fill="none"/>
<path d="M419.7,316.4h0M414.7,317.8h0M415.9,314.2h0M409.1,318.5h0M412.5,320.0h0M407.6,320.7h0M418.1,317.4h0M415.2,315.4h0M410.0,321.4h0M418.9,315.5h0M410.2,317.9h0M404.4,319.3h0M411.7,318.0h0M408.9,324.8h0M408.8,325.3h0M418.5,313.3h0" stroke="#E8853A" stroke-opacity="0.8" stroke-width="3.8" stroke-linecap="round" fill="none"/>
<path d="M406.5,318.7h0M412.2,317.0h0M411.1,312.9h0M413.4,321.4h0M407.5,320.2h0M416.0,317.8h0M405.4,321.6h0M408.1,322.5h0M412.8,316.6h0M406.3,318.7h0" stroke="#8A93B0" stroke-opacity="0.8" stroke-width="1.4" stroke-linecap="round" fill="none"/>
<path d="M407.3,323.2h0M406.4,322.3h0M409.2,319.8h0M411.3,316.5h0M411.7,322.6h0M408.9,316.6h0M411.2,319.5h0M407.2,322.1h0M414.5,318.5h0M408.8,318.9h0" stroke="#8A93B0" stroke-opacity="0.8" stroke-width="2.2" stroke-linecap="round" fill="none"/>
<path d="M409.4,316.1h0M406.6,319.1h0M403.0,320.4h0M404.3,318.6h0M409.0,315.4h0M411.5,314.8h0M413.7,320.7h0M410.5,318.8h0M409.2,316.9h0M410.9,315.0h0" stroke="#8A93B0" stroke-opacity="0.8" stroke-width="3.0" stroke-linecap="round" fill="none"/>
<path d="M382.4,341.8h0M389.6,344.6h0M392.0,341.0h0M383.8,337.8h0M390.1,348.9h0M394.4,343.2h0M396.4,345.2h0M390.3,346.3h0M396.8,347.1h0M392.8,335.2h0M385.2,335.1h0M392.9,337.0h0M381.9,344.9h0M391.6,341.0h0M391.3,336.6h0M394.4,348.5h0M397.9,351.8h0M380.0,339.4h0M392.6,333.9h0M388.4,340.7h0M397.6,337.2h0M381.8,350.7h0M401.3,348.0h0M399.4,338.8h0M395.6,340.7h0M386.7,339.0h0M387.5,340.1h0M378.4,345.0h0M397.8,348.3h0M394.2,334.9h0M400.4,343.5h0M385.8,342.9h0M404.8,337.8h0M384.0,339.6h0M379.3,343.6h0M399.5,347.2h0M384.0,342.9h0M388.5,347.8h0M376.4,340.9h0M380.5,339.4h0M381.2,350.2h0M378.7,341.9h0M395.3,336.4h0M395.0,344.8h0M382.3,352.1h0M388.7,335.2h0M389.8,342.2h0M381.5,340.0h0M381.1,349.7h0M393.4,347.3h0M396.0,338.7h0M378.8,341.5h0M384.6,337.4h0M397.3,345.2h0M377.8,348.3h0M384.8,343.3h0M394.4,346.5h0M379.5,337.8h0M386.0,353.1h0M385.6,339.5h0M380.3,341.2h0M394.3,344.3h0M389.4,336.8h0M381.3,341.1h0M389.7,344.7h0M387.2,338.5h0M386.1,346.7h0" stroke="#1FCFA0" stroke-opacity="0.8" stroke-width="1.6" stroke-linecap="round" fill="none"/>
<path d="M389.9,335.7h0M391.8,346.4h0M381.0,340.3h0M384.3,344.9h0M390.5,340.8h0M385.0,338.4h0M389.7,346.2h0M388.5,342.0h0M395.1,333.8h0M385.3,340.8h0M389.5,349.7h0M395.8,348.5h0M389.8,347.2h0M387.2,337.6h0M389.8,343.0h0M394.5,339.4h0M387.1,338.8h0M389.2,347.3h0M390.7,344.9h0M391.5,336.7h0M393.7,338.2h0M400.6,341.0h0M384.7,353.2h0M377.8,344.1h0M391.6,345.2h0M402.0,341.6h0M398.1,333.4h0M389.0,346.2h0M388.5,338.9h0M389.7,336.6h0M390.6,349.6h0M379.8,347.7h0M400.8,337.0h0M385.3,338.6h0M396.3,339.8h0M399.7,338.7h0M393.3,344.6h0M400.0,345.3h0M395.5,351.8h0M387.6,347.8h0M398.1,341.7h0M386.7,354.4h0M398.3,343.7h0M403.6,337.5h0M392.9,334.8h0M390.7,332.2h0M389.0,333.9h0M379.9,346.7h0M383.9,347.7h0M398.0,348.2h0M395.2,340.6h0M402.4,334.9h0M382.7,351.0h0M380.5,349.4h0M397.8,341.1h0M399.5,334.6h0M378.2,344.1h0M387.3,341.6h0M397.3,341.5h0M377.5,345.0h0M393.7,344.7h0M375.2,337.3h0M386.4,337.1h0M381.0,346.3h0M391.6,337.1h0M373.1,346.8h0M396.7,340.5h0" stroke="#1FCFA0" stroke-opacity="0.8" stroke-width="2.8" stroke-linecap="round" fill="none"/>
<path d="M403.7,336.4h0M392.1,343.4h0M390.3,351.3h0M390.1,344.5h0M390.9,332.1h0M375.1,339.1h0M383.8,344.2h0M387.3,338.8h0M381.5,346.0h0M390.3,344.9h0M394.2,346.4h0M385.5,339.4h0M396.2,344.8h0M391.0,342.3h0M393.7,334.8h0M384.5,342.0h0M393.1,343.5h0M377.1,338.0h0M387.1,336.3h0M387.7,343.1h0M386.1,346.3h0M379.2,347.3h0M379.2,352.2h0M387.4,342.8h0M393.5,342.6h0M378.6,340.9h0M394.1,342.9h0M385.5,345.5h0M382.7,348.5h0M390.9,348.6h0M382.6,339.2h0M394.5,342.4h0M391.0,341.3h0M383.6,340.2h0M386.3,352.5h0M389.4,350.3h0M387.9,349.7h0M394.8,334.0h0M378.3,346.8h0M392.7,350.2h0M393.1,338.3h0M391.6,344.5h0M375.9,349.2h0M395.0,346.8h0M386.3,332.2h0M393.2,340.3h0M380.1,341.3h0M387.1,337.6h0M379.3,344.6h0M385.6,342.0h0M392.2,342.4h0M378.0,343.9h0M383.0,336.5h0M399.5,339.3h0M394.1,347.1h0M396.0,337.0h0M392.2,346.2h0M376.5,351.3h0M394.8,334.3h0M389.6,352.4h0M389.0,339.6h0M390.8,342.9h0M393.7,346.7h0M377.9,348.3h0M390.9,349.2h0M390.3,346.8h0" stroke="#1FCFA0" stroke-opacity="0.8" stroke-width="4.0" stroke-linecap="round" fill="none"/>
<path d="M382.2,337.0h0M382.9,339.1h0M381.7,335.4h0M386.7,335.1h0M380.7,337.9h0M391.6,332.8h0M387.3,335.1h0M378.9,341.2h0M382.1,341.4h0M384.9,337.9h0M384.7,339.7h0M395.0,334.9h0M383.2,335.2h0M383.1,332.8h0M383.9,339.8h0M389.0,332.6h0M385.2,336.9h0M389.9,332.4h0M385.0,335.6h0M391.4,334.1h0" stroke="#5FE0C0" stroke-opacity="0.8" stroke-width="1.2" stroke-linecap="round" fill="none"/>
<path d="M378.9,337.8h0M387.7,338.3h0M391.8,338.7h0M386.2,334.9h0M382.1,338.0h0M382.4,339.1h0M377.2,338.6h0M380.0,337.1h0M392.3,337.2h0M384.0,339.0h0M394.0,331.7h0M381.6,335.4h0M388.2,333.7h0M387.1,336.4h0M390.8,335.8h0M383.7,335.0h0M389.8,331.2h0M390.1,336.1h0M382.4,334.8h0M393.8,332.6h0" stroke="#5FE0C0" stroke-opacity="0.8" stroke-width="2.0" stroke-linecap="round" fill="none"/>
<path d="M383.5,337.8h0M385.6,337.4h0M389.9,336.7h0M380.0,341.8h0M383.4,335.1h0M381.5,336.5h0M385.1,341.7h0M383.4,338.0h0M381.1,340.4h0M393.3,337.8h0M389.2,337.4h0M377.8,340.9h0M382.1,336.2h0M387.9,337.6h0M382.3,336.1h0M376.8,340.7h0M385.1,337.6h0M394.8,337.4h0M385.1,338.0h0M379.8,335.9h0" stroke="#5FE0C0" stroke-opacity="0.8" stroke-width="2.8" stroke-linecap="round" fill="none"/>
<path d="M431.6,323.9h0M424.6,314.5h0M433.3,320.8h0M419.1,314.3h0M422.1,318.5h0M426.3,322.8h0M419.5,309.1h0M427.7,320.0h0M417.9,316.9h0M434.5,322.6h0M427.5,322.2h0M433.4,318.6h0M433.7,324.2h0M425.2,324.9h0M428.2,314.5h0M416.9,307.7h0M424.8,320.1h0M424.8,317.1h0M427.8,312.9h0M417.7,316.3h0M419.1,310.4h0M433.1,320.3h0M418.1,318.4h0M427.4,318.8h0" stroke="#E8853A" stroke-opacity="0.8" stroke-width="1.8" stroke-linecap="round" fill="none"/>
<path d="M415.5,312.6h0M424.7,306.9h0M419.5,311.5h0M421.1,316.4h0M417.0,310.3h0M414.7,306.5h0M426.2,320.3h0M423.1,323.1h0M420.0,315.4h0M430.4,324.5h0M419.2,313.8h0M422.5,311.3h0M428.3,314.9h0M432.4,313.8h0M415.8,315.1h0M431.5,313.3h0M421.9,313.2h0M419.2,313.7h0M418.0,319.4h0M427.7,316.5h0M423.6,317.6h0M425.3,314.9h0M431.5,319.2h0" stroke="#E8853A" stroke-opacity="0.8" stroke-width="3.0" stroke-linecap="round" fill="none"/>
<path d="M427.2,316.8h0M419.9,319.7h0M428.4,320.7h0M424.8,308.5h0M430.0,318.0h0M424.9,323.4h0M419.6,315.5h0M420.3,314.0h0M424.3,316.3h0M432.2,320.6h0M423.0,314.8h0M422.4,317.6h0M423.9,322.8h0M420.3,316.3h0M423.0,316.7h0M416.1,310.4h0M423.6,312.5h0M423.8,315.2h0M417.3,310.5h0M419.1,317.9h0M418.0,316.9h0M422.9,308.3h0M422.1,310.8h0" stroke="#E8853A" stroke-opacity="0.8" stroke-width="4.2" stroke-linecap="round" fill="none"/>
<path d="M431.9,314.8h0M422.2,323.2h0M448.6,320.5h0M420.7,319.1h0M432.0,320.1h0M436.9,319.5h0M451.0,324.5h0M435.1,329.0h0M434.2,315.2h0M442.9,334.4h0M435.7,320.5h0M432.9,317.1h0M437.4,323.9h0M428.8,330.9h0M430.7,309.6h0M437.2,321.2h0M443.8,319.0h0M433.1,320.8h0M426.3,324.2h0M441.9,325.3h0M432.4,330.6h0M452.1,318.4h0M453.3,323.4h0M429.7,316.2h0M424.4,320.3h0M423.0,321.3h0M431.1,327.0h0M450.6,322.2h0M447.3,329.0h0M439.4,328.2h0M432.0,317.9h0M439.3,331.5h0M424.1,329.6h0M446.6,328.0h0M429.1,317.7h0M439.8,323.5h0M438.6,326.5h0M421.1,316.4h0M436.6,317.5h0M426.3,321.6h0" stroke="#8090B0" stroke-opacity="0.8" stroke-width="1.4" stroke-linecap="round" fill="none"/>
<path d="M449.4,331.4h0M425.6,317.1h0M434.9,325.4h0M435.8,331.5h0M431.5,322.9h0M454.8,327.0h0M437.7,319.4h0M451.3,327.6h0M449.9,320.2h0M422.4,328.8h0M432.0,319.6h0M438.5,330.3h0M450.1,334.3h0M430.3,323.7h0M437.7,322.7h0M432.3,315.4h0M448.8,319.3h0M439.7,329.4h0M451.2,327.1h0M432.5,316.9h0M438.9,323.3h0M426.4,312.8h0M426.3,331.1h0M424.9,317.5h0M434.9,327.4h0M427.3,317.9h0M435.8,313.9h0M441.7,326.3h0M444.2,321.6h0M434.6,317.6h0M432.3,320.0h0M449.5,319.3h0M430.1,315.4h0M451.0,329.4h0M433.8,322.3h0M423.3,312.0h0M437.1,320.0h0M420.4,315.0h0M433.8,310.7h0M436.7,323.5h0" stroke="#8090B0" stroke-opacity="0.8" stroke-width="2.4" stroke-linecap="round" fill="none"/>
<path d="M423.3,325.8h0M440.7,326.8h0M427.2,319.3h0M445.2,330.5h0M418.9,314.6h0M429.5,323.6h0M437.0,320.6h0M436.6,328.5h0M447.9,319.4h0M442.8,329.1h0M416.4,313.6h0M445.9,317.6h0M439.7,331.7h0M447.7,319.7h0M431.2,324.7h0M428.8,321.3h0M444.4,327.7h0M420.2,320.2h0M434.3,323.4h0M431.7,329.5h0M418.1,313.4h0M428.5,324.9h0M436.9,314.7h0M445.1,327.4h0M431.3,324.4h0M437.3,325.2h0M446.3,323.0h0M420.8,327.9h0M435.3,323.9h0M428.7,323.4h0M431.5,324.6h0M443.5,322.4h0M432.6,316.1h0M427.1,327.2h0M450.3,322.5h0M432.6,324.4h0M442.3,317.7h0M428.2,316.9h0M438.9,317.6h0M418.4,319.4h0" stroke="#8090B0" stroke-opacity="0.8" stroke-width="3.4" stroke-linecap="round" fill="none"/>
<path d="M436.1,328.2h0M442.6,343.1h0M448.5,336.7h0M435.9,331.2h0M439.5,326.5h0M453.7,348.6h0M432.4,357.1h0M438.3,360.1h0M447.1,360.4h0M440.7,334.8h0M442.0,346.8h0M436.6,367.2h0M426.7,344.6h0M444.7,361.6h0M421.9,355.2h0M432.3,350.7h0M416.0,351.8h0M413.5,336.8h0M421.3,351.0h0M433.1,361.6h0M449.9,320.7h0M421.0,327.3h0M436.0,362.0h0M411.1,338.5h0M437.6,361.4h0M435.4,349.6h0M438.5,331.9h0M437.3,335.0h0M440.4,325.2h0M404.2,345.3h0" stroke="#A9B040" stroke-opacity="0.8" stroke-width="1.6" stroke-linecap="round" fill="none"/>
<path d="M445.7,341.1h0M452.0,348.1h0M439.9,349.0h0M453.2,339.9h0M454.9,356.5h0M455.8,334.9h0M435.1,351.4h0M442.7,333.4h0M418.8,332.6h0M432.7,344.8h0M430.8,336.0h0M432.0,338.0h0M447.8,353.2h0M450.1,360.7h0M447.2,335.2h0M433.2,347.2h0M432.2,343.4h0M452.4,325.4h0M425.9,346.1h0M424.9,349.2h0M438.2,339.3h0M461.3,341.9h0M433.1,327.7h0M427.3,330.3h0M407.5,345.6h0M452.1,334.0h0M410.7,346.9h0M441.0,350.8h0M426.9,343.6h0M434.3,333.6h0" stroke="#A9B040" stroke-opacity="0.8" stroke-width="2.7" stroke-linecap="round" fill="none"/>
<path d="M434.1,335.5h0M423.8,338.7h0M435.9,344.7h0M423.7,331.8h0M455.7,350.1h0M435.8,352.6h0M435.1,321.1h0M430.7,354.5h0M415.2,361.1h0M449.6,360.9h0M438.0,341.3h0M421.7,341.5h0M445.3,353.3h0M425.6,341.7h0M453.8,326.1h0M452.9,346.4h0M424.6,322.3h0M422.0,349.2h0M435.5,341.8h0M436.4,348.6h0M428.7,329.8h0M445.8,328.0h0M429.8,327.7h0M419.4,328.7h0M415.0,339.5h0M413.6,339.1h0M437.1,338.6h0M446.3,349.9h0M427.6,326.9h0M427.0,329.3h0" stroke="#A9B040" stroke-opacity="0.8" stroke-width="3.8" stroke-linecap="round" fill="none"/>
<path d="M420.4,337.4h0M437.9,355.9h0M426.5,348.0h0M437.4,320.2h0M428.7,327.4h0M416.4,350.8h0M415.7,353.5h0M413.8,336.1h0M414.9,342.3h0M419.5,318.7h0M434.9,315.1h0M432.2,320.8h0M454.2,345.9h0M422.2,353.2h0M444.3,325.0h0M450.5,320.2h0M417.1,335.7h0M435.0,329.9h0M416.1,335.8h0M425.4,359.9h0" stroke="#F58A2A" stroke-opacity="0.8" stroke-width="1.6" stroke-linecap="round" fill="none"/>
<path d="M422.0,347.9h0M440.9,341.8h0M435.2,333.5h0M428.5,341.7h0M412.9,349.7h0M440.8,334.6h0M428.9,343.4h0M453.0,325.2h0M440.3,326.6h0M428.1,341.1h0M439.8,345.4h0M453.9,345.8h0M413.8,347.8h0M429.9,349.4h0M415.5,337.7h0M439.2,330.3h0M414.2,342.3h0M449.1,330.2h0M419.1,333.9h0M438.5,321.1h0" stroke="#F58A2A" stroke-opacity="0.8" stroke-width="2.8" stroke-linecap="round" fill="none"/>
<path d="M429.6,340.5h0M429.3,327.8h0M436.6,352.6h0M417.8,343.4h0M437.1,326.7h0M455.9,334.8h0M432.3,325.2h0M452.3,341.7h0M414.9,344.7h0M423.3,322.8h0M437.1,342.3h0M427.4,323.3h0M437.8,333.1h0M427.1,348.6h0M444.3,342.5h0M433.2,343.1h0M418.9,332.1h0M444.6,342.5h0M427.6,363.2h0M447.2,344.0h0" stroke="#F58A2A" stroke-opacity="0.8" stroke-width="4.0" stroke-linecap="round" fill="none"/>
<path d="M426.8,345.1h0M446.1,341.1h0M427.0,355.2h0M434.9,350.8h0M450.6,353.8h0M422.0,345.4h0M426.8,349.6h0M443.1,354.7h0M433.2,342.8h0M429.8,334.8h0M436.4,351.0h0M427.2,344.9h0M440.7,365.5h0M405.6,341.6h0M446.8,357.0h0M425.2,342.1h0M434.9,344.0h0M438.9,359.6h0M431.9,353.4h0M432.8,366.2h0M417.8,346.8h0M408.8,336.9h0M433.9,347.5h0M435.7,336.3h0M424.5,350.5h0M425.3,352.9h0M412.9,349.5h0" stroke="#7FCF70" stroke-opacity="0.8" stroke-width="1.4" stroke-linecap="round" fill="none"/>
<path d="M433.3,344.6h0M435.0,335.4h0M434.0,342.5h0M411.5,356.1h0M426.9,355.6h0M440.6,342.7h0M414.7,358.7h0M427.6,336.2h0M446.1,342.8h0M435.5,345.7h0M435.6,341.2h0M421.8,358.3h0M428.1,351.8h0M416.5,340.8h0M442.5,358.6h0M441.3,338.8h0M411.8,348.2h0M415.9,347.4h0M404.2,349.3h0M436.2,355.0h0M434.4,344.9h0M428.5,344.0h0M413.4,336.3h0M431.6,347.0h0M430.5,365.9h0M433.0,355.2h0M429.9,332.0h0" stroke="#7FCF70" stroke-opacity="0.8" stroke-width="2.4" stroke-linecap="round" fill="none"/>
<path d="M422.2,343.8h0M419.8,333.0h0M438.3,344.1h0M426.4,341.9h0M418.7,343.0h0M434.2,342.5h0M432.7,361.6h0M426.6,342.9h0M426.3,357.8h0M415.0,339.8h0M433.0,346.5h0M430.1,366.1h0M423.7,346.0h0M446.7,350.6h0M421.3,356.4h0M433.5,351.8h0M441.7,356.2h0M434.5,358.5h0M409.8,340.6h0M443.9,350.0h0M420.4,344.0h0M430.2,362.8h0M434.9,338.5h0M443.6,343.6h0M426.1,342.1h0M455.3,347.5h0" stroke="#7FCF70" stroke-opacity="0.8" stroke-width="3.4" stroke-linecap="round" fill="none"/>
<path d="M443.1,352.4h0M430.0,341.1h0M458.5,322.3h0M449.1,313.9h0M443.6,332.5h0M424.0,337.3h0M442.6,315.3h0M451.0,314.4h0M442.4,321.9h0M425.6,327.2h0M419.7,314.2h0M451.0,331.4h0M446.5,334.1h0M435.7,347.1h0M455.2,322.5h0M424.8,325.2h0M427.1,319.1h0M435.8,331.1h0M431.2,332.8h0M436.9,323.7h0M444.2,315.9h0M439.9,322.8h0M435.0,326.6h0M441.3,345.3h0M445.8,341.2h0M416.9,317.1h0M412.6,327.5h0" stroke="#8090B0" stroke-opacity="0.8" stroke-width="1.2" stroke-linecap="round" fill="none"/>
<path d="M452.3,315.4h0M460.1,330.4h0M450.6,313.9h0M445.4,326.5h0M464.5,330.1h0M425.4,315.4h0M429.9,337.9h0M455.1,335.1h0M421.2,325.7h0M447.0,340.3h0M454.1,348.6h0M420.3,344.4h0M440.6,327.8h0M452.8,344.7h0M456.5,343.3h0M411.0,331.9h0M409.5,341.9h0M431.7,341.1h0M414.2,348.6h0M419.0,330.9h0M429.4,314.9h0M448.6,347.1h0M433.7,338.8h0M446.1,331.6h0M422.8,342.8h0M432.0,341.7h0M436.0,324.0h0" stroke="#8090B0" stroke-opacity="0.8" stroke-width="2.2" stroke-linecap="round" fill="none"/>
<path d="M457.9,346.3h0M435.5,327.5h0M420.8,327.0h0M455.7,330.7h0M437.0,343.5h0M413.1,349.3h0M423.8,349.8h0M443.8,335.4h0M429.9,342.6h0M430.3,321.0h0M441.1,344.4h0M454.8,330.4h0M435.3,334.6h0M448.7,322.5h0M419.9,349.7h0M452.1,326.1h0M456.6,321.1h0M449.4,348.7h0M427.3,326.3h0M459.6,332.1h0M434.1,342.5h0M442.9,329.2h0M430.9,347.2h0M428.1,347.6h0M448.6,332.3h0M436.6,319.7h0" stroke="#8090B0" stroke-opacity="0.8" stroke-width="3.2" stroke-linecap="round" fill="none"/>
<path d="M428.1,329.0h0M448.5,317.9h0M440.3,313.9h0M425.0,318.0h0M432.0,340.0h0M448.6,338.2h0M424.3,338.9h0M455.1,343.4h0M438.4,338.3h0M438.1,326.6h0" stroke="#B08AD0" stroke-opacity="0.8" stroke-width="1.0" stroke-linecap="round" fill="none"/>
<path d="M432.2,324.4h0M438.8,338.9h0M417.4,341.2h0M442.0,319.7h0M444.4,321.0h0M453.5,335.3h0M452.4,344.1h0M434.1,316.0h0M440.9,335.5h0M446.6,322.3h0" stroke="#B08AD0" stroke-opacity="0.8" stroke-width="1.8" stroke-linecap="round" fill="none"/>
<path d="M440.4,327.5h0M456.3,336.6h0M449.3,336.8h0M461.9,324.0h0M422.6,328.0h0M430.5,318.0h0M440.3,317.6h0M439.0,334.8h0M444.2,320.7h0M460.1,331.0h0" stroke="#B08AD0" stroke-opacity="0.8" stroke-width="2.6" stroke-linecap="round" fill="none"/>
<path d="M455.1,344.9h0M455.4,343.3h0M453.5,356.1h0M461.6,340.8h0M441.2,333.6h0M458.6,336.6h0M435.4,343.1h0M443.2,343.4h0M454.9,353.5h0M466.3,335.9h0" stroke="#C8A040" stroke-opacity="0.8" stroke-width="1.2" stroke-linecap="round" fill="none"/>
<path d="M460.0,342.7h0M443.6,332.1h0M454.4,327.2h0M446.7,340.4h0M436.6,337.7h0M453.7,338.4h0M447.1,328.1h0M455.5,354.1h0M452.5,346.2h0M447.2,323.0h0" stroke="#C8A040" stroke-opacity="0.8" stroke-width="2.1" stroke-linecap="round" fill="none"/>
<path d="M432.8,332.6h0M443.6,350.1h0M466.9,342.0h0M438.9,327.0h0M468.0,338.2h0M444.6,339.5h0M446.4,344.2h0M439.2,337.6h0M435.5,333.0h0M456.2,341.3h0" stroke="#C8A040" stroke-opacity="0.8" stroke-width="3.0" stroke-linecap="round" fill="none"/>
<path d="M429.6,321.7h0M448.0,341.1h0M440.1,345.9h0M439.3,346.8h0M451.5,339.9h0M438.7,360.4h0M428.9,342.7h0M410.1,343.8h0M451.4,353.5h0M416.7,324.7h0M417.2,344.4h0M427.1,326.5h0M415.5,324.1h0M438.9,342.8h0M445.1,336.3h0M459.6,338.0h0M456.8,357.4h0M438.7,344.0h0M433.6,338.6h0M426.5,344.8h0M438.2,336.3h0M434.0,340.1h0M415.5,339.8h0M432.9,338.2h0M425.2,352.2h0M459.5,331.7h0M445.7,343.1h0M424.6,360.4h0M410.1,337.7h0M441.7,355.6h0" stroke="#A9B040" stroke-opacity="0.8" stroke-width="1.6" stroke-linecap="round" fill="none"/>
<path d="M432.4,355.2h0M443.7,344.2h0M450.2,362.4h0M415.5,335.1h0M431.9,327.6h0M432.1,343.1h0M449.5,330.3h0M437.2,352.1h0M441.6,348.6h0M428.0,343.8h0M421.5,321.6h0M428.9,338.7h0M440.9,343.3h0M438.5,362.9h0M435.6,344.0h0M445.4,365.9h0M410.6,341.5h0M420.5,338.4h0M425.5,343.7h0M454.5,339.1h0M424.2,350.8h0M441.0,345.0h0M414.6,352.7h0M409.4,349.9h0M448.7,350.5h0M434.0,330.2h0M420.2,363.6h0M419.9,355.1h0M443.5,347.1h0M423.9,321.4h0" stroke="#A9B040" stroke-opacity="0.8" stroke-width="2.7" stroke-linecap="round" fill="none"/>
<path d="M445.9,359.3h0M439.9,326.8h0M459.0,328.2h0M437.0,352.4h0M435.5,343.5h0M447.9,319.6h0M447.0,347.3h0M447.3,333.9h0M412.5,346.9h0M432.9,337.0h0M435.3,362.6h0M436.0,356.0h0M463.4,337.9h0M455.3,333.0h0M434.1,335.0h0M444.2,356.5h0M409.0,327.3h0M432.1,342.8h0M427.1,333.8h0M429.3,346.9h0M434.5,333.6h0M425.8,323.5h0M430.5,316.2h0M433.5,354.0h0M457.9,339.2h0M433.8,356.7h0M439.4,324.7h0M443.4,339.9h0M446.6,342.7h0M433.1,317.6h0" stroke="#A9B040" stroke-opacity="0.8" stroke-width="3.8" stroke-linecap="round" fill="none"/>
<path d="M431.9,349.4h0M453.5,334.3h0M429.9,343.5h0M445.5,349.3h0M434.9,344.5h0M430.8,332.6h0M437.0,330.0h0M441.8,339.3h0M426.5,331.3h0M420.1,324.0h0M449.4,357.4h0M432.0,363.5h0M435.5,347.9h0M435.2,335.5h0M408.0,344.2h0M433.8,353.6h0M450.0,331.9h0M436.4,333.5h0M438.8,331.5h0M431.0,333.3h0" stroke="#F58A2A" stroke-opacity="0.8" stroke-width="1.6" stroke-linecap="round" fill="none"/>
<path d="M455.2,342.4h0M412.6,327.7h0M434.2,339.7h0M455.0,334.7h0M426.5,352.2h0M444.7,333.5h0M448.9,319.0h0M439.3,334.2h0M436.1,343.7h0M432.7,343.7h0M431.6,352.0h0M428.4,352.0h0M420.7,347.5h0M432.1,342.1h0M438.2,342.6h0M436.0,342.3h0M441.7,343.0h0M449.5,332.9h0M442.3,344.2h0M418.7,342.3h0" stroke="#F58A2A" stroke-opacity="0.8" stroke-width="2.8" stroke-linecap="round" fill="none"/>
<path d="M434.8,349.1h0M412.2,326.4h0M426.2,344.6h0M427.8,362.3h0M425.5,324.7h0M433.7,335.7h0M425.7,328.9h0M420.6,323.2h0M446.9,337.3h0M415.4,355.5h0M424.3,337.8h0M432.8,328.9h0M420.7,326.6h0M424.6,341.3h0M422.2,339.8h0M420.5,350.7h0M431.0,320.9h0M432.3,347.2h0M447.1,331.7h0M438.1,358.4h0" stroke="#F58A2A" stroke-opacity="0.8" stroke-width="4.0" stroke-linecap="round" fill="none"/>
<path d="M425.0,352.1h0M419.8,336.9h0M431.4,360.8h0M452.1,341.7h0M432.5,362.7h0M422.3,350.1h0M431.5,360.4h0M445.7,347.8h0M443.5,349.4h0M408.6,341.2h0M410.8,345.8h0M416.1,341.6h0M431.9,349.1h0M445.0,331.4h0M419.2,335.5h0M425.8,339.8h0M451.0,356.0h0M446.1,348.6h0M454.2,342.8h0M438.2,343.1h0M436.8,353.5h0M417.2,354.3h0M415.8,361.5h0M425.9,341.9h0M426.2,355.9h0M447.5,349.1h0M440.1,363.0h0" stroke="#7FCF70" stroke-opacity="0.8" stroke-width="1.4" stroke-linecap="round" fill="none"/>
<path d="M446.2,346.6h0M445.8,349.7h0M413.2,338.0h0M438.3,339.5h0M434.6,345.2h0M438.3,365.1h0M422.4,342.5h0M423.3,358.0h0M449.5,347.8h0M436.7,354.1h0M433.5,345.3h0M440.7,345.5h0M426.8,356.7h0M419.8,336.9h0M438.9,346.1h0M430.9,358.4h0M418.1,339.0h0M419.8,332.1h0M431.4,359.5h0M428.5,337.4h0M432.2,356.3h0M446.6,354.7h0M421.4,350.5h0M416.9,335.6h0M438.2,334.3h0M428.0,339.1h0M440.2,348.0h0" stroke="#7FCF70" stroke-opacity="0.8" stroke-width="2.4" stroke-linecap="round" fill="none"/>
<path d="M430.6,349.3h0M428.6,334.1h0M445.7,363.7h0M437.2,343.8h0M430.5,350.8h0M411.9,357.5h0M434.6,341.4h0M417.9,361.6h0M428.9,360.0h0M434.4,352.7h0M430.6,354.5h0M443.5,343.8h0M414.2,354.4h0M437.7,353.4h0M421.5,344.8h0M408.2,345.3h0M417.5,330.2h0M424.3,342.2h0M439.2,345.8h0M417.0,331.6h0M437.3,349.2h0M447.4,342.7h0M427.0,348.1h0M437.9,365.7h0M421.6,343.9h0M431.0,348.3h0" stroke="#7FCF70" stroke-opacity="0.8" stroke-width="3.4" stroke-linecap="round" fill="none"/>
<path d="M433.3,355.6h0M425.4,348.6h0M442.3,336.6h0M433.4,358.2h0M455.0,327.3h0M433.3,325.3h0M445.2,354.2h0M424.7,320.0h0M427.5,327.3h0M462.0,338.8h0M439.8,345.7h0M439.7,323.7h0M440.3,336.9h0M450.3,345.5h0M437.0,328.5h0M430.0,326.5h0M423.2,345.2h0M435.0,338.3h0M461.0,344.0h0M448.8,338.2h0M446.3,348.8h0M422.3,340.1h0M434.1,356.6h0M434.9,327.7h0M445.2,334.3h0M429.9,341.9h0M449.9,331.2h0" stroke="#8090B0" stroke-opacity="0.8" stroke-width="1.2" stroke-linecap="round" fill="none"/>
<path d="M439.1,334.5h0M428.4,347.2h0M439.6,339.7h0M433.7,322.6h0M444.9,337.1h0M444.5,311.8h0M445.6,312.5h0M442.8,341.4h0M434.8,348.7h0M438.3,345.6h0M429.0,325.9h0M425.1,354.2h0M426.3,334.0h0M420.1,333.0h0M450.7,340.3h0M427.9,348.5h0M430.0,330.4h0M448.6,345.5h0M438.1,320.5h0M436.8,327.6h0M440.8,327.7h0M444.7,341.7h0M424.9,328.0h0M429.1,343.2h0M444.7,325.4h0M450.0,321.5h0M434.2,347.4h0" stroke="#8090B0" stroke-opacity="0.8" stroke-width="2.2" stroke-linecap="round" fill="none"/>
<path d="M445.1,333.3h0M423.0,336.1h0M417.5,320.2h0M425.0,335.1h0M430.0,322.4h0M454.1,344.6h0M436.6,340.6h0M428.9,331.5h0M409.6,330.3h0M419.5,319.0h0M442.3,342.7h0M457.2,341.0h0M425.0,336.8h0M431.5,318.7h0M423.1,335.7h0M429.1,312.5h0M413.0,339.9h0M425.5,327.0h0M450.1,341.5h0M440.8,337.9h0M448.9,354.8h0M444.0,333.5h0M410.0,339.3h0M435.2,349.7h0M448.6,354.2h0M464.0,336.2h0" stroke="#8090B0" stroke-opacity="0.8" stroke-width="3.2" stroke-linecap="round" fill="none"/>
<path d="M430.3,338.0h0M458.2,318.5h0M431.9,321.6h0M445.5,321.4h0M430.5,316.2h0M442.8,340.5h0M442.8,323.0h0M425.6,333.3h0M458.8,320.0h0M434.8,324.1h0" stroke="#B08AD0" stroke-opacity="0.8" stroke-width="1.0" stroke-linecap="round" fill="none"/>
<path d="M434.8,334.4h0M436.5,312.2h0M443.9,325.6h0M445.5,326.5h0M424.6,327.0h0M439.8,335.8h0M444.7,332.4h0M432.3,345.3h0M433.7,328.3h0M430.9,338.7h0" stroke="#B08AD0" stroke-opacity="0.8" stroke-width="1.8" stroke-linecap="round" fill="none"/>
<path d="M422.4,339.1h0M444.1,322.8h0M427.1,328.2h0M461.9,323.7h0M426.4,347.1h0M438.3,332.9h0M439.3,323.3h0M452.7,323.0h0M423.3,329.2h0M461.3,326.3h0" stroke="#B08AD0" stroke-opacity="0.8" stroke-width="2.6" stroke-linecap="round" fill="none"/>
<path d="M463.0,341.6h0M452.2,329.6h0M441.0,342.7h0M454.8,350.3h0M451.7,332.6h0M444.7,336.7h0M449.4,346.8h0M459.0,339.1h0M443.7,338.1h0M446.2,323.4h0" stroke="#C8A040" stroke-opacity="0.8" stroke-width="1.2" stroke-linecap="round" fill="none"/>
<path d="M435.4,345.3h0M452.8,355.0h0M452.4,346.8h0M435.1,338.7h0M460.6,332.0h0M437.7,325.5h0M439.4,344.5h0M446.5,322.5h0M453.9,351.4h0M452.8,337.2h0" stroke="#C8A040" stroke-opacity="0.8" stroke-width="2.1" stroke-linecap="round" fill="none"/>
<path d="M445.9,340.6h0M452.2,332.1h0M442.2,353.0h0M462.7,338.7h0M450.5,340.8h0M437.9,345.0h0M445.6,339.6h0M450.5,346.4h0M446.9,322.4h0M460.1,335.0h0" stroke="#C8A040" stroke-opacity="0.8" stroke-width="3.0" stroke-linecap="round" fill="none"/>
<path d="M439.2,344.6h0M419.1,362.9h0M423.3,333.5h0M425.8,357.4h0M426.0,337.4h0M419.9,347.9h0M449.5,322.9h0M421.0,346.8h0M451.3,321.2h0M437.2,348.3h0M414.4,343.9h0M418.9,343.6h0M422.4,352.2h0M444.6,343.1h0M446.0,345.8h0M428.2,346.0h0M436.2,343.9h0M443.4,359.7h0M430.9,333.1h0M452.8,348.2h0M417.5,334.5h0M452.1,332.3h0M463.7,342.5h0M412.5,352.8h0M424.3,349.8h0M422.1,363.9h0M439.9,339.0h0M418.7,333.9h0M432.4,348.8h0M430.8,321.0h0" stroke="#A9B040" stroke-opacity="0.8" stroke-width="1.6" stroke-linecap="round" fill="none"/>
<path d="M441.0,321.0h0M434.1,351.4h0M439.9,350.4h0M441.5,356.9h0M436.9,346.7h0M427.7,328.4h0M419.4,357.9h0M410.6,334.7h0M412.6,330.1h0M457.7,326.2h0M421.7,356.2h0M416.4,354.7h0M420.8,339.0h0M461.8,351.3h0M431.0,318.8h0M453.2,324.5h0M427.7,322.1h0M418.6,347.5h0M437.8,349.3h0M431.9,338.3h0M450.4,328.5h0M440.2,348.8h0M438.2,324.8h0M409.4,331.9h0M458.1,327.2h0M432.0,361.5h0M459.1,331.5h0M440.3,339.3h0M446.2,330.5h0M449.7,351.5h0" stroke="#A9B040" stroke-opacity="0.8" stroke-width="2.7" stroke-linecap="round" fill="none"/>
<path d="M445.4,354.2h0M442.8,354.4h0M443.2,346.6h0M422.9,343.5h0M421.0,349.5h0M432.1,341.0h0M448.6,334.7h0M443.5,352.7h0M417.7,337.3h0M448.3,343.9h0M455.2,332.9h0M436.7,330.8h0M447.4,360.4h0M441.0,350.0h0M423.8,345.6h0M439.2,342.9h0M441.3,347.3h0M433.5,352.3h0M417.6,360.8h0M406.4,351.2h0M425.1,354.2h0M414.8,356.6h0M463.5,342.7h0M422.9,333.4h0M459.1,340.5h0M420.4,342.6h0M450.5,361.4h0M435.1,335.1h0M431.9,330.8h0M431.7,331.9h0" stroke="#A9B040" stroke-opacity="0.8" stroke-width="3.8" stroke-linecap="round" fill="none"/>
<path d="M424.6,329.5h0M424.0,339.9h0M451.1,337.5h0M449.1,342.0h0M426.8,316.7h0M438.9,353.8h0M434.4,328.5h0M458.0,334.4h0M439.8,319.0h0M416.8,334.0h0M430.1,351.9h0M443.0,330.0h0M418.8,335.2h0M418.0,325.8h0M446.8,323.0h0M421.8,335.6h0M455.1,337.7h0M445.0,336.4h0M418.1,337.5h0M451.5,353.4h0" stroke="#F58A2A" stroke-opacity="0.8" stroke-width="1.6" stroke-linecap="round" fill="none"/>
<path d="M413.6,346.8h0M431.7,331.0h0M431.2,331.4h0M435.0,336.5h0M435.1,345.6h0M426.9,345.8h0M441.1,333.6h0M418.7,326.2h0M431.4,328.7h0M435.9,345.3h0M406.9,330.9h0M444.8,352.9h0M442.1,340.4h0M454.1,332.0h0M418.2,353.3h0M423.9,338.4h0M431.5,337.9h0M429.9,338.0h0M447.2,335.8h0M430.6,346.5h0" stroke="#F58A2A" stroke-opacity="0.8" stroke-width="2.8" stroke-linecap="round" fill="none"/>
<path d="M441.2,316.9h0M429.5,334.6h0M421.9,328.5h0M414.7,342.2h0M434.8,332.3h0M447.7,332.0h0M449.6,328.1h0M442.0,326.8h0M444.3,356.6h0M413.9,341.7h0M423.9,334.3h0M446.7,335.9h0M440.8,346.7h0M418.8,325.8h0M433.7,339.5h0M443.7,321.1h0M447.4,343.2h0M442.2,339.5h0M429.9,333.8h0M416.7,354.1h0" stroke="#F58A2A" stroke-opacity="0.8" stroke-width="4.0" stroke-linecap="round" fill="none"/>
<path d="M449.9,347.2h0M429.5,354.0h0M438.9,358.9h0M434.7,348.2h0M434.5,340.4h0M430.7,340.0h0M432.0,351.6h0M418.7,352.2h0M448.8,338.5h0M441.7,334.7h0M426.3,352.3h0M422.3,337.5h0M432.2,358.9h0M424.8,340.9h0M446.0,353.8h0M421.6,336.4h0M422.2,348.4h0M431.9,342.7h0M416.9,361.8h0M449.2,357.5h0M414.0,359.1h0M451.0,337.3h0M447.4,343.2h0M417.6,357.3h0M414.7,347.5h0M432.5,330.6h0M426.0,358.7h0" stroke="#7FCF70" stroke-opacity="0.8" stroke-width="1.4" stroke-linecap="round" fill="none"/>
<path d="M424.8,342.4h0M434.2,353.1h0M413.2,341.4h0M420.3,351.6h0M443.5,354.8h0M413.4,351.7h0M441.0,352.7h0M430.0,354.3h0M421.9,350.7h0M440.9,360.8h0M428.6,330.2h0M426.4,343.7h0M431.7,352.3h0M411.8,357.7h0M443.5,355.5h0M434.0,339.2h0M420.9,332.0h0M427.6,351.1h0M414.5,360.8h0M443.3,335.9h0M434.0,347.9h0M442.4,336.7h0M435.5,360.5h0M421.0,343.7h0M425.0,341.7h0M433.1,334.7h0M406.5,349.8h0" stroke="#7FCF70" stroke-opacity="0.8" stroke-width="2.4" stroke-linecap="round" fill="none"/>
<path d="M427.0,333.9h0M407.7,337.3h0M414.3,355.1h0M430.2,339.6h0M419.8,354.3h0M447.2,340.8h0M447.4,356.3h0M425.4,357.1h0M436.8,349.4h0M445.7,352.6h0M421.0,347.4h0M430.7,347.3h0M423.9,355.3h0M422.1,350.5h0M420.3,348.4h0M421.9,348.8h0M451.7,352.8h0M409.7,339.0h0M428.6,348.2h0M428.2,342.4h0M442.4,347.6h0M450.1,344.8h0M416.7,348.9h0M426.8,360.8h0M418.3,346.1h0M415.7,347.1h0" stroke="#7FCF70" stroke-opacity="0.8" stroke-width="3.4" stroke-linecap="round" fill="none"/>
<path d="M440.0,348.9h0M434.6,325.7h0M418.9,319.3h0M455.5,330.9h0M443.5,313.8h0M419.6,339.9h0M426.0,338.5h0M425.2,328.9h0M416.2,351.0h0M460.5,337.2h0M417.1,325.7h0M419.8,325.2h0M436.7,352.4h0M451.1,339.1h0M438.2,328.7h0M436.0,335.5h0M422.0,334.2h0M416.4,333.7h0M434.3,340.2h0M421.2,332.3h0M427.7,339.3h0M439.0,358.1h0M460.2,329.8h0M446.9,351.7h0M428.0,329.4h0M412.8,336.6h0M414.2,319.2h0" stroke="#8090B0" stroke-opacity="0.8" stroke-width="1.2" stroke-linecap="round" fill="none"/>
<path d="M426.8,343.6h0M438.7,357.9h0M434.9,339.4h0M439.8,325.6h0M419.8,335.7h0M439.7,341.8h0M438.1,321.9h0M452.2,336.4h0M423.3,352.1h0M425.1,327.6h0M433.8,338.0h0M444.1,341.1h0M432.5,337.3h0M439.0,353.2h0M434.0,356.9h0M441.8,337.9h0M429.8,319.4h0M426.3,344.1h0M451.1,331.1h0M426.6,346.5h0M422.9,317.9h0M416.6,350.0h0M427.0,320.7h0M431.3,325.0h0M421.3,334.0h0M445.3,343.3h0M425.1,330.6h0" stroke="#8090B0" stroke-opacity="0.8" stroke-width="2.2" stroke-linecap="round" fill="none"/>
<path d="M418.0,352.0h0M421.7,318.2h0M433.0,337.3h0M431.6,340.2h0M433.4,350.0h0M444.8,325.1h0M420.2,339.7h0M434.0,336.1h0M428.1,328.6h0M446.0,329.5h0M424.9,351.8h0M429.3,347.5h0M432.3,357.6h0M420.0,330.8h0M451.4,342.7h0M423.7,345.1h0M445.9,333.8h0M419.7,323.4h0M454.1,347.5h0M451.0,331.3h0M419.7,339.2h0M447.3,336.4h0M424.9,336.2h0M430.2,329.0h0M427.3,332.5h0M426.7,319.6h0" stroke="#8090B0" stroke-opacity="0.8" stroke-width="3.2" stroke-linecap="round" fill="none"/>
<path d="M417.8,323.1h0M437.0,328.8h0M448.0,318.8h0M450.4,324.6h0M434.6,326.7h0M443.1,322.0h0M445.0,325.9h0M435.2,348.7h0M441.5,338.3h0M463.6,333.7h0" stroke="#B08AD0" stroke-opacity="0.8" stroke-width="1.0" stroke-linecap="round" fill="none"/>
<path d="M429.5,339.8h0M438.3,322.0h0M433.1,318.0h0M452.7,332.3h0M446.3,338.5h0M438.7,322.7h0M434.8,318.9h0M445.1,323.3h0M453.1,327.6h0M433.6,336.6h0" stroke="#B08AD0" stroke-opacity="0.8" stroke-width="1.8" stroke-linecap="round" fill="none"/>
<path d="M435.9,326.3h0M444.9,324.9h0M446.1,325.0h0M444.9,332.4h0M455.3,329.9h0M421.0,325.7h0M443.4,318.7h0M434.9,320.2h0M422.8,329.8h0M426.3,345.4h0" stroke="#B08AD0" stroke-opacity="0.8" stroke-width="2.6" stroke-linecap="round" fill="none"/>
<path d="M444.3,330.2h0M432.3,338.0h0M442.4,330.1h0M467.8,339.0h0M451.3,330.5h0M456.1,336.8h0M445.6,342.4h0M439.5,336.2h0M443.1,337.1h0M436.9,332.4h0" stroke="#C8A040" stroke-opacity="0.8" stroke-width="1.2" stroke-linecap="round" fill="none"/>
<path d="M444.2,337.8h0M455.1,353.9h0M440.5,347.9h0M437.1,334.4h0M461.3,325.4h0M458.2,344.8h0M455.3,350.7h0M450.8,341.4h0M451.6,330.3h0M442.0,347.0h0" stroke="#C8A040" stroke-opacity="0.8" stroke-width="2.1" stroke-linecap="round" fill="none"/>
<path d="M459.8,333.2h0M456.6,343.2h0M452.1,349.2h0M446.3,335.1h0M436.1,344.5h0M444.2,338.4h0M454.1,349.3h0M451.3,325.8h0M448.9,331.6h0M463.1,344.5h0" stroke="#C8A040" stroke-opacity="0.8" stroke-width="3.0" stroke-linecap="round" fill="none"/>
<path d="M426.0,337.9h0M424.9,340.8h0M422.4,341.3h0M425.5,340.1h0M428.0,341.7h0M422.2,336.5h0M425.4,343.2h0M420.7,336.9h0M426.3,340.2h0M426.4,342.9h0M425.4,334.5h0M423.9,340.0h0M420.8,333.5h0M423.3,339.6h0" stroke="#F58A2A" stroke-opacity="0.8" stroke-width="2.0" stroke-linecap="round" fill="none"/>
<path d="M421.4,334.1h0M424.8,340.7h0M419.0,339.3h0M424.1,340.1h0M430.5,345.3h0M419.0,336.8h0M429.7,340.5h0M423.3,342.9h0M424.3,334.5h0M427.5,334.9h0M429.0,343.2h0M425.8,336.9h0M427.7,345.8h0" stroke="#F58A2A" stroke-opacity="0.8" stroke-width="3.4" stroke-linecap="round" fill="none"/>
<path d="M426.9,339.8h0M423.0,337.7h0M426.4,338.4h0M427.0,334.2h0M422.3,339.1h0M429.5,339.0h0M425.5,335.2h0M427.2,339.8h0M429.7,339.3h0M424.3,344.2h0M421.2,340.9h0M428.1,338.4h0M430.6,344.9h0" stroke="#F58A2A" stroke-opacity="0.8" stroke-width="4.8" stroke-linecap="round" fill="none"/>
<path d="M441.2,348.4h0M446.6,346.4h0M440.1,349.1h0M445.2,345.7h0M440.8,346.5h0M442.6,349.6h0M442.4,350.2h0" stroke="#F58A2A" stroke-opacity="0.8" stroke-width="1.8" stroke-linecap="round" fill="none"/>
<path d="M442.6,347.4h0M441.9,347.4h0M443.6,347.9h0M439.3,348.2h0M444.1,349.7h0M443.6,346.0h0M446.6,347.1h0" stroke="#F58A2A" stroke-opacity="0.8" stroke-width="2.9" stroke-linecap="round" fill="none"/>
<path d="M441.4,346.5h0M446.3,346.4h0M446.9,347.4h0M443.6,348.1h0M443.2,347.1h0M445.1,346.3h0" stroke="#F58A2A" stroke-opacity="0.8" stroke-width="4.0" stroke-linecap="round" fill="none"/>
<path d="M458.3,330.3h0M457.6,329.3h0M455.9,330.1h0M458.7,327.9h0M455.5,327.1h0M453.9,327.8h0M453.9,328.7h0" stroke="#F0882C" stroke-opacity="0.8" stroke-width="1.6" stroke-linecap="round" fill="none"/>
<path d="M457.6,328.8h0M454.4,328.5h0M456.4,328.1h0M456.8,329.1h0M454.1,328.7h0M455.3,331.5h0M458.6,330.2h0" stroke="#F0882C" stroke-opacity="0.8" stroke-width="2.6" stroke-linecap="round" fill="none"/>
<path d="M456.2,329.5h0M457.3,326.8h0M455.9,327.7h0M454.6,326.1h0M453.8,329.3h0M460.4,330.5h0" stroke="#F0882C" stroke-opacity="0.8" stroke-width="3.6" stroke-linecap="round" fill="none"/>
<path d="M469.3,315.0h0M475.9,319.2h0M474.5,328.1h0M477.6,333.3h0M478.1,327.6h0M481.0,314.6h0M485.4,331.0h0M483.2,317.0h0M470.4,325.1h0M474.7,319.2h0M471.5,325.2h0M476.0,323.6h0M477.5,333.9h0M481.2,327.9h0M474.5,331.3h0M472.9,312.3h0M482.0,326.5h0M486.4,329.4h0M476.8,332.7h0M472.0,319.0h0M479.4,326.4h0M483.4,319.8h0M477.4,316.1h0M475.2,323.7h0M475.9,322.6h0M473.2,317.7h0M484.0,320.8h0M485.7,325.2h0M483.1,318.7h0M484.2,326.8h0M476.3,316.2h0M478.4,323.9h0M471.9,327.8h0M467.9,325.0h0M472.3,318.0h0M479.2,328.1h0M472.5,324.1h0" stroke="#A07A30" stroke-opacity="0.8" stroke-width="1.0" stroke-linecap="round" fill="none"/>
<path d="M469.5,322.7h0M482.7,331.1h0M476.0,319.3h0M476.9,331.1h0M481.6,327.7h0M477.4,317.2h0M481.4,329.3h0M481.2,324.5h0M485.6,323.1h0M473.2,323.9h0M475.2,323.3h0M480.1,326.6h0M474.3,315.9h0M482.1,332.6h0M471.0,327.0h0M476.6,314.8h0M476.8,329.5h0M469.8,319.5h0M480.7,322.3h0M466.0,317.1h0M478.1,330.7h0M472.5,327.3h0M467.8,325.2h0M476.5,325.8h0M471.2,322.6h0M471.4,318.4h0M476.4,332.4h0M470.1,328.8h0M468.3,324.6h0M477.3,324.8h0M476.8,315.6h0M477.6,323.0h0M470.0,330.9h0M485.8,330.5h0M464.7,324.0h0M468.2,321.3h0M475.7,329.1h0" stroke="#A07A30" stroke-opacity="0.8" stroke-width="1.9" stroke-linecap="round" fill="none"/>
<path d="M481.3,324.9h0M483.8,321.4h0M467.6,316.9h0M477.9,314.0h0M470.3,320.8h0M473.7,315.8h0M480.8,323.2h0M482.5,320.7h0M475.0,327.1h0M474.0,333.5h0M470.4,320.4h0M475.1,324.4h0M472.4,326.9h0M485.4,320.9h0M471.8,332.3h0M474.3,317.9h0M477.7,314.3h0M480.5,320.4h0M476.0,327.1h0M476.4,319.6h0M480.6,330.1h0M471.5,318.5h0M479.2,327.1h0M484.5,322.8h0M476.2,321.2h0M477.4,334.3h0M477.7,322.5h0M470.8,322.7h0M484.0,327.5h0M469.3,318.4h0M479.7,328.5h0M478.2,312.3h0M471.4,315.5h0M480.4,326.5h0M473.4,331.1h0M478.4,324.7h0" stroke="#A07A30" stroke-opacity="0.8" stroke-width="2.8" stroke-linecap="round" fill="none"/>
<path d="M469.8,342.0h0M472.0,343.3h0M474.1,344.6h0M471.1,347.6h0M475.3,347.5h0M471.6,342.3h0M472.6,343.9h0M473.3,345.6h0M471.4,348.7h0M473.4,346.4h0M469.9,346.4h0M467.0,345.7h0M465.4,344.7h0M473.6,343.4h0" stroke="#C9A060" stroke-opacity="0.8" stroke-width="1.8" stroke-linecap="round" fill="none"/>
<path d="M475.4,347.6h0M471.8,343.9h0M469.2,347.9h0M473.0,343.7h0M471.4,342.9h0M471.9,343.6h0M476.1,346.4h0M468.1,346.1h0M469.8,341.0h0M470.4,346.5h0M474.2,342.4h0M472.8,343.5h0M473.1,346.8h0" stroke="#C9A060" stroke-opacity="0.8" stroke-width="2.9" stroke-linecap="round" fill="none"/>
<path d="M469.3,344.7h0M471.7,341.0h0M468.7,344.1h0M469.5,341.7h0M473.3,345.8h0M473.5,346.1h0M475.3,346.6h0M474.1,345.2h0M466.1,344.1h0M471.0,343.3h0M467.9,345.1h0M471.0,345.8h0M474.9,344.6h0" stroke="#C9A060" stroke-opacity="0.8" stroke-width="4.0" stroke-linecap="round" fill="none"/>
<path d="M467.3,360.3h0M462.3,359.9h0M465.9,354.8h0M466.7,362.7h0M463.5,356.6h0M466.3,355.4h0M461.5,356.9h0M461.1,356.6h0M462.4,357.6h0M464.7,356.0h0M464.9,358.0h0M467.1,358.7h0M467.8,357.8h0M465.2,359.6h0" stroke="#1580D0" stroke-opacity="0.8" stroke-width="1.8" stroke-linecap="round" fill="none"/>
<path d="M462.3,356.0h0M465.6,355.6h0M464.7,355.1h0M462.2,359.3h0M465.4,357.1h0M463.8,359.3h0M466.1,356.8h0M463.0,359.5h0M465.4,358.1h0M463.3,354.4h0M461.0,354.3h0M462.5,356.4h0M462.2,356.6h0" stroke="#1580D0" stroke-opacity="0.8" stroke-width="2.9" stroke-linecap="round" fill="none"/>
<path d="M462.2,358.3h0M465.0,357.1h0M464.5,357.7h0M467.2,362.8h0M463.3,360.8h0M466.9,358.7h0M463.7,361.0h0M464.3,361.6h0M463.6,363.2h0M461.2,357.9h0M463.9,355.2h0M466.7,358.1h0M462.9,359.2h0" stroke="#1580D0" stroke-opacity="0.8" stroke-width="4.0" stroke-linecap="round" fill="none"/>
<path d="M471.8,334.1h0M470.2,334.4h0M468.9,335.3h0M473.0,333.7h0M470.4,338.1h0" stroke="#2A90F0" stroke-opacity="0.8" stroke-width="1.2" stroke-linecap="round" fill="none"/>
<path d="M470.8,334.3h0M470.2,335.3h0M472.2,336.5h0M470.9,334.4h0M469.6,337.8h0" stroke="#2A90F0" stroke-opacity="0.8" stroke-width="2.0" stroke-linecap="round" fill="none"/>
<path d="M471.8,333.7h0M473.4,335.3h0M472.8,335.8h0M471.4,338.1h0" stroke="#2A90F0" stroke-opacity="0.8" stroke-width="2.8" stroke-linecap="round" fill="none"/>
<path d="M402.4,343.0h0M397.3,342.7h0M395.6,342.3h0M399.7,343.2h0M395.8,344.2h0M399.6,342.0h0M399.4,340.9h0M400.5,343.8h0M399.8,340.4h0M399.1,344.2h0" stroke="#2A90F0" stroke-opacity="0.8" stroke-width="1.8" stroke-linecap="round" fill="none"/>
<path d="M400.2,343.2h0M400.1,341.6h0M399.1,343.2h0M399.6,345.8h0M398.9,342.1h0M398.9,344.7h0M401.8,345.7h0M399.8,345.3h0M397.9,342.7h0M399.7,343.5h0" stroke="#2A90F0" stroke-opacity="0.8" stroke-width="2.9" stroke-linecap="round" fill="none"/>
<path d="M400.3,342.9h0M401.0,346.2h0M400.1,341.9h0M400.2,340.7h0M396.3,342.7h0M401.9,344.1h0M403.1,345.2h0M401.8,342.6h0M402.2,343.3h0M401.5,342.3h0" stroke="#2A90F0" stroke-opacity="0.8" stroke-width="4.0" stroke-linecap="round" fill="none"/>
<path d="M408.8,349.1h0M406.0,347.7h0M409.4,346.8h0M412.6,348.9h0M404.6,348.5h0M410.6,348.7h0M408.8,347.9h0M410.7,347.9h0M407.5,348.1h0" stroke="#F020C0" stroke-opacity="0.8" stroke-width="1.6" stroke-linecap="round" fill="none"/>
<path d="M407.6,348.9h0M407.4,350.0h0M406.2,348.6h0M408.8,350.1h0M409.8,350.2h0M409.6,348.9h0M409.8,349.1h0M409.9,347.9h0M409.7,348.3h0" stroke="#F020C0" stroke-opacity="0.8" stroke-width="2.5" stroke-linecap="round" fill="none"/>
<path d="M409.4,349.3h0M409.2,346.3h0M407.6,348.0h0M409.8,347.4h0M410.1,350.4h0M406.9,348.3h0M408.8,346.9h0M409.2,346.2h0" stroke="#F020C0" stroke-opacity="0.8" stroke-width="3.4" stroke-linecap="round" fill="none"/>
<path d="M449.8,357.3h0M447.6,372.1h0M447.3,361.8h0M450.6,364.0h0M454.1,360.7h0M453.4,365.6h0M456.6,361.2h0M446.0,367.4h0M453.6,359.2h0M445.6,367.0h0M451.6,366.3h0M454.7,357.0h0M455.8,367.5h0M452.0,355.8h0M446.8,358.8h0M456.2,357.9h0M448.8,364.4h0M450.0,368.5h0M459.5,360.2h0M452.0,364.6h0M453.3,366.7h0M456.2,370.0h0M449.2,366.0h0M449.2,363.8h0M454.0,367.0h0M455.1,360.6h0M447.2,363.1h0M452.0,370.1h0M453.8,371.1h0M454.9,364.5h0M447.1,367.3h0M449.3,371.1h0M450.5,370.9h0M455.6,363.2h0M452.6,367.8h0M454.6,363.0h0M449.0,367.0h0" stroke="#F09070" stroke-opacity="0.8" stroke-width="1.8" stroke-linecap="round" fill="none"/>
<path d="M451.4,370.8h0M452.1,369.4h0M453.2,362.5h0M455.1,359.5h0M454.3,363.0h0M455.3,357.5h0M452.9,356.6h0M457.1,365.4h0M452.7,366.9h0M454.8,361.9h0M450.7,365.1h0M447.0,358.5h0M442.6,364.4h0M453.8,362.3h0M443.6,361.8h0M445.6,362.0h0M448.0,368.3h0M448.3,367.9h0M448.8,368.8h0M452.6,368.7h0M445.2,359.4h0M458.3,364.4h0M460.0,362.0h0M446.1,364.4h0M446.9,364.8h0M449.1,363.9h0M454.2,363.0h0M454.7,358.7h0M455.0,365.1h0M451.0,368.5h0M443.8,367.3h0M446.5,368.4h0M451.2,364.1h0M446.9,365.3h0M450.1,356.5h0M453.8,368.6h0M459.1,358.7h0" stroke="#F09070" stroke-opacity="0.8" stroke-width="3.0" stroke-linecap="round" fill="none"/>
<path d="M446.6,371.1h0M457.4,361.5h0M446.1,359.6h0M451.8,365.0h0M459.3,359.2h0M448.8,364.3h0M459.5,361.3h0M451.3,361.7h0M445.6,369.2h0M456.0,361.9h0M455.2,359.2h0M452.3,371.0h0M455.4,365.6h0M453.1,365.3h0M445.1,367.1h0M443.6,368.9h0M447.0,369.2h0M453.4,362.5h0M446.6,364.3h0M451.4,365.5h0M447.2,367.4h0M458.8,359.1h0M446.7,362.0h0M450.2,362.3h0M457.8,367.4h0M447.4,370.0h0M448.3,364.7h0M454.1,368.9h0M454.3,365.1h0M449.7,360.1h0M449.9,367.6h0M453.6,365.7h0M448.1,360.9h0M453.3,367.0h0M449.3,363.3h0M451.8,358.0h0" stroke="#F09070" stroke-opacity="0.8" stroke-width="4.2" stroke-linecap="round" fill="none"/>
<path d="M455.8,367.8h0M453.6,366.4h0M451.9,366.3h0M455.5,368.6h0M454.1,368.0h0M452.6,368.7h0M458.6,365.8h0M455.0,366.5h0M453.8,366.4h0M454.2,370.2h0" stroke="#D87858" stroke-opacity="0.8" stroke-width="1.0" stroke-linecap="round" fill="none"/>
<path d="M458.1,365.6h0M457.2,364.9h0M456.4,368.8h0M456.7,368.1h0M456.6,365.8h0M451.0,368.5h0M459.6,367.6h0M452.2,365.0h0M457.6,367.2h0M452.8,368.0h0" stroke="#D87858" stroke-opacity="0.8" stroke-width="1.7" stroke-linecap="round" fill="none"/>
<path d="M456.3,365.7h0M458.0,366.9h0M460.2,365.5h0M451.9,366.6h0M457.7,367.7h0M457.7,364.2h0M455.7,365.8h0M454.9,368.4h0M455.1,368.3h0M455.9,366.0h0" stroke="#D87858" stroke-opacity="0.8" stroke-width="2.4" stroke-linecap="round" fill="none"/>
<path d="M474.0,363.0h0M472.0,366.3h0M472.5,365.7h0M472.1,366.0h0M473.3,363.2h0" stroke="#F8E820" stroke-opacity="0.8" stroke-width="1.6" stroke-linecap="round" fill="none"/>
<path d="M474.3,363.0h0M472.6,364.6h0M474.2,362.5h0M471.2,364.0h0M475.3,363.3h0" stroke="#F8E820" stroke-opacity="0.8" stroke-width="2.4" stroke-linecap="round" fill="none"/>
<path d="M473.5,366.1h0M473.6,361.9h0M471.9,365.8h0M474.4,364.3h0" stroke="#F8E820" stroke-opacity="0.8" stroke-width="3.2" stroke-linecap="round" fill="none"/>
<path d="M474.5,356.1h0M475.4,356.3h0" stroke="#E82030" stroke-opacity="0.8" stroke-width="1.6" stroke-linecap="round" fill="none"/>
<path d="M475.4,355.7h0M475.5,355.4h0" stroke="#E82030" stroke-opacity="0.8" stroke-width="2.1" stroke-linecap="round" fill="none"/>
<path d="M475.6,356.6h0M474.2,356.0h0" stroke="#E82030" stroke-opacity="0.8" stroke-width="2.6" stroke-linecap="round" fill="none"/>
<path d="M392.6,368.8h0M399.8,363.2h0M397.9,365.5h0M403.4,364.4h0M395.0,371.1h0M390.0,365.2h0M393.7,370.6h0M399.6,367.4h0M395.7,367.4h0M404.3,365.8h0M400.7,369.0h0M397.2,367.9h0M394.3,365.7h0M393.9,367.5h0M394.7,367.1h0M401.6,367.1h0M402.5,368.3h0M400.7,366.3h0M400.6,366.3h0M396.3,366.0h0" stroke="#5A3A1A" stroke-opacity="0.8" stroke-width="1.0" stroke-linecap="round" fill="none"/>
<path d="M399.3,367.9h0M398.7,366.6h0M389.9,366.1h0M393.3,368.8h0M389.5,367.4h0M396.3,364.0h0M399.3,364.7h0M402.5,368.6h0M392.9,366.0h0M398.2,366.1h0M400.4,366.5h0M393.7,366.6h0M396.8,363.0h0M402.2,367.8h0M396.4,371.3h0M393.9,369.9h0M399.3,366.5h0M393.5,366.1h0M393.5,369.6h0M398.9,366.5h0" stroke="#5A3A1A" stroke-opacity="0.8" stroke-width="2.0" stroke-linecap="round" fill="none"/>
<path d="M394.4,363.6h0M400.7,367.1h0M400.4,369.7h0M398.8,363.1h0M395.5,364.3h0M398.9,365.8h0M403.8,366.9h0M395.9,368.9h0M395.2,370.4h0M400.3,368.7h0M397.6,367.6h0M394.8,364.0h0M396.3,364.1h0M395.3,365.9h0M399.6,366.9h0M395.6,369.0h0M397.4,367.6h0M402.0,367.3h0M398.0,371.2h0M396.1,364.7h0" stroke="#5A3A1A" stroke-opacity="0.8" stroke-width="3.0" stroke-linecap="round" fill="none"/>
<path d="M443.5,381.2h0M432.9,380.5h0M453.1,379.3h0M445.5,383.9h0M439.3,377.9h0M440.3,373.8h0M442.1,381.8h0M449.5,378.5h0M437.6,376.6h0M454.4,383.0h0M440.7,374.8h0M445.8,384.3h0M429.0,376.2h0M450.4,376.9h0M437.6,385.6h0M444.6,379.6h0M436.0,378.5h0M431.3,377.5h0M438.1,380.5h0M442.0,375.4h0M442.6,380.9h0M438.9,380.2h0M453.7,383.2h0M445.2,379.7h0M440.6,380.4h0M444.8,379.1h0M444.3,379.5h0M436.5,375.3h0M438.9,374.3h0M439.2,382.6h0M446.2,386.6h0M435.0,383.2h0M437.6,386.1h0M440.6,380.3h0M444.3,386.4h0M440.9,384.7h0M436.8,385.1h0M448.0,379.2h0M428.1,381.9h0M430.6,376.8h0M445.7,383.3h0M437.7,382.0h0M431.1,376.3h0M441.5,382.7h0M447.0,381.0h0M428.2,379.3h0M431.8,380.6h0M441.5,374.2h0M430.9,379.4h0M430.4,381.9h0M434.5,376.2h0M429.0,382.9h0M446.5,383.8h0M442.2,380.6h0M423.2,383.0h0M433.3,383.9h0M444.5,375.9h0M431.5,386.3h0M440.1,385.6h0M450.2,381.0h0M447.6,376.4h0M440.9,382.8h0M436.2,381.2h0M445.0,382.6h0M435.5,381.4h0M433.0,384.6h0M448.7,375.7h0" stroke="#A0CF90" stroke-opacity="0.8" stroke-width="1.8" stroke-linecap="round" fill="none"/>
<path d="M458.6,377.5h0M438.0,373.6h0M435.7,379.7h0M431.7,378.7h0M441.4,388.6h0M439.7,381.0h0M438.9,378.3h0M437.0,385.6h0M442.2,377.1h0M435.7,376.9h0M426.2,383.4h0M453.4,378.2h0M442.0,387.2h0M444.0,383.8h0M439.5,373.7h0M451.2,379.8h0M446.6,375.5h0M440.5,388.3h0M437.6,386.7h0M430.5,380.8h0M447.2,373.1h0M436.4,384.4h0M446.1,371.6h0M433.6,380.8h0M450.9,378.2h0M440.4,376.8h0M436.2,381.8h0M441.2,375.8h0M430.6,384.9h0M456.1,380.2h0M446.3,373.5h0M444.9,382.8h0M427.9,378.8h0M458.1,376.7h0M442.3,380.6h0M441.1,380.4h0M435.7,384.1h0M449.3,375.9h0M447.6,382.0h0M438.3,381.7h0M440.9,386.3h0M442.3,377.1h0M440.5,377.0h0M449.2,381.0h0M430.2,378.5h0M456.3,381.9h0M450.0,377.3h0M437.0,374.1h0M444.0,387.8h0M435.5,373.6h0M450.6,376.9h0M439.4,382.4h0M434.7,385.5h0M439.6,384.6h0M446.1,379.5h0M451.1,377.6h0M427.9,380.6h0M435.8,383.6h0M445.7,379.2h0M443.0,372.5h0M444.5,374.7h0M437.7,380.6h0M438.1,375.0h0M449.1,383.2h0M437.6,374.9h0M441.2,387.8h0M449.9,382.0h0" stroke="#A0CF90" stroke-opacity="0.8" stroke-width="3.2" stroke-linecap="round" fill="none"/>
<path d="M424.1,384.6h0M445.9,375.4h0M449.9,376.5h0M445.2,379.6h0M441.3,380.5h0M434.4,382.5h0M443.3,384.8h0M446.6,383.4h0M452.5,382.4h0M450.9,383.4h0M432.4,378.2h0M437.9,383.5h0M450.7,378.7h0M444.4,379.5h0M453.7,375.3h0M452.9,379.4h0M449.7,377.8h0M448.3,379.2h0M442.3,377.8h0M438.4,373.2h0M434.6,378.0h0M451.1,378.8h0M441.8,377.7h0M443.7,377.9h0M442.0,371.6h0M437.3,384.5h0M452.4,378.4h0M427.4,386.0h0M444.9,380.5h0M438.3,374.0h0M443.5,385.8h0M437.4,380.5h0M425.3,378.1h0M444.4,381.3h0M439.7,380.3h0M440.8,383.6h0M439.2,374.9h0M444.5,378.1h0M429.3,377.0h0M456.4,381.7h0M437.1,377.6h0M446.5,382.2h0M434.9,380.4h0M451.1,374.2h0M445.2,379.9h0M442.5,386.2h0M430.3,384.3h0M440.8,376.9h0M444.6,386.9h0M442.7,376.4h0M439.5,381.2h0M437.1,380.8h0M431.1,380.6h0M434.9,388.0h0M444.0,384.0h0M431.8,376.5h0M456.2,381.1h0M446.1,377.3h0M446.3,387.5h0M441.8,377.7h0M449.1,375.6h0M448.0,383.5h0M453.3,376.6h0M430.9,378.9h0M444.5,379.4h0M445.1,378.1h0" stroke="#A0CF90" stroke-opacity="0.8" stroke-width="4.6" stroke-linecap="round" fill="none"/>
<path d="M407.1,367.8h0M415.6,368.9h0M420.8,369.4h0M423.2,370.1h0M424.0,371.1h0M419.6,370.0h0M418.3,368.4h0M423.2,371.2h0M425.7,371.7h0M411.2,367.7h0" stroke="#F04090" stroke-opacity="0.8" stroke-width="1.0" stroke-linecap="round" fill="none"/>
<path d="M419.4,370.4h0M417.8,368.4h0M420.0,369.9h0M417.3,369.1h0M412.5,369.0h0M422.0,370.3h0M425.8,370.5h0M418.4,369.6h0M423.9,369.5h0M418.7,368.4h0" stroke="#F04090" stroke-opacity="0.8" stroke-width="1.7" stroke-linecap="round" fill="none"/>
<path d="M418.5,369.5h0M421.5,369.7h0M422.9,370.6h0M410.1,368.3h0M422.3,368.7h0M425.0,371.7h0M420.6,370.3h0M422.3,370.0h0M417.1,369.3h0M420.8,370.3h0" stroke="#F04090" stroke-opacity="0.8" stroke-width="2.4" stroke-linecap="round" fill="none"/>
<path d="M458.2,320.8h0M457.2,321.3h0M456.8,321.3h0M458.4,323.1h0M459.6,322.5h0M458.2,322.2h0" stroke="#3A4A40" stroke-opacity="0.8" stroke-width="1.0" stroke-linecap="round" fill="none"/>
<path d="M460.8,320.8h0M457.6,322.8h0M455.2,323.1h0M459.6,319.2h0M457.2,321.6h0" stroke="#3A4A40" stroke-opacity="0.8" stroke-width="1.7" stroke-linecap="round" fill="none"/>
<path d="M459.2,319.1h0M457.7,320.9h0M462.1,319.8h0M457.2,320.9h0M458.6,319.4h0" stroke="#3A4A40" stroke-opacity="0.8" stroke-width="2.4" stroke-linecap="round" fill="none"/>
<path d="M401.9,327.6h0M397.6,327.6h0M399.7,327.3h0M398.1,327.4h0M402.3,328.0h0" stroke="#2020A0" stroke-opacity="0.8" stroke-width="1.2" stroke-linecap="round" fill="none"/>
<path d="M402.9,328.6h0M401.3,328.5h0M400.6,328.3h0M399.8,328.5h0M401.1,328.9h0" stroke="#2020A0" stroke-opacity="0.8" stroke-width="1.9" stroke-linecap="round" fill="none"/>
<path d="M399.8,326.8h0M401.3,326.5h0M403.2,328.4h0M402.6,327.6h0" stroke="#2020A0" stroke-opacity="0.8" stroke-width="2.6" stroke-linecap="round" fill="none"/>
<path d="M461.5,334.6h0M463.1,331.8h0M465.6,332.1h0M465.8,337.7h0M464.8,332.8h0M467.0,333.8h0M463.4,335.8h0M467.2,332.6h0" stroke="#8A80C0" stroke-opacity="0.8" stroke-width="1.2" stroke-linecap="round" fill="none"/>
<path d="M467.4,333.0h0M462.5,332.6h0M465.1,335.0h0M461.6,331.5h0M464.0,334.4h0M464.8,334.0h0M463.4,334.9h0M463.1,334.7h0" stroke="#8A80C0" stroke-opacity="0.8" stroke-width="1.9" stroke-linecap="round" fill="none"/>
<path d="M464.5,335.0h0M466.4,335.2h0M466.3,333.1h0M466.2,336.0h0M466.7,335.8h0M462.8,334.1h0M462.3,332.0h0M463.7,333.4h0" stroke="#8A80C0" stroke-opacity="0.8" stroke-width="2.6" stroke-linecap="round" fill="none"/>
</g>
</g>
<g id="multi">
<rect x="395.2" y="138.2" width="40.9" height="11.2" rx="5.6" fill="#E9EDF8" stroke="#B9C6EA" stroke-width="0.7"/>
<text x="415.65" y="145.6" font-size="9.0" fill="#000" stroke="#000" text-anchor="middle">cell type</text>
<rect x="465.5" y="150.5" width="39.7" height="11.6" rx="5.8" fill="#E9EDF8" stroke="#B9C6EA" stroke-width="0.7"/>
<text x="485.35" y="158.4" font-size="9.0" fill="#000" stroke="#000" text-anchor="middle">abstract</text>
<rect x="420.3" y="176.7" width="55.9" height="12.4" rx="6.2" fill="#E9EDF8" stroke="#B9C6EA" stroke-width="0.7"/>
<text x="448.25" y="183.7" font-size="9.0" fill="#000" stroke="#000" text-anchor="middle">perturbation</text>
<rect x="557.8" y="86.6" width="39.8" height="11.3" rx="5.65" fill="#E9EDF8" stroke="#B9C6EA" stroke-width="0.7"/>
<text x="577.7" y="94.4" font-size="9.0" fill="#000" stroke="#000" text-anchor="middle">disease</text>
<rect x="556.5" y="160.6" width="30.3" height="10.2" rx="5.1" fill="#E9EDF8" stroke="#B9C6EA" stroke-width="0.7"/>
<text x="571.65" y="168.1" font-size="9.0" fill="#000" stroke="#000" text-anchor="middle">tissue</text>
<circle cx="443.9" cy="156.9" r="10.6" fill="#8D9CCB" stroke="#7B88BF" stroke-width="0.8"/>
<circle cx="444.4" cy="155.2" r="6.6" fill="#7774A8"/>
<path d="M484.2,107.4 H503.7 L513.3,117 V142.2 Q513.3,146.7 508.8,146.7 H484.2 Q479.7,146.7 479.7,142.2 V111.9 Q479.7,107.4 484.2,107.4 Z" fill="none" stroke="#333C74" stroke-width="1.8" stroke-linejoin="round"/>
<path d="M503.7,107.4 V114.5 Q503.7,117 506.2,117 H513.3" fill="none" stroke="#333C74" stroke-width="1.8" stroke-linejoin="round"/>
<line x1="485.24" y1="114" x2="500.53" y2="114" stroke="#333C74" stroke-width="1.6"/>
<line x1="485.24" y1="121.23" x2="507.92" y2="121.23" stroke="#333C74" stroke-width="1.6"/>
<line x1="485.24" y1="125.87" x2="507.92" y2="125.87" stroke="#333C74" stroke-width="1.6"/>
<line x1="485.24" y1="130.39" x2="507.92" y2="130.39" stroke="#333C74" stroke-width="1.6"/>
<line x1="485.24" y1="134.91" x2="507.92" y2="134.91" stroke="#333C74" stroke-width="1.6"/>
<line x1="485.24" y1="139.23" x2="507.92" y2="139.23" stroke="#333C74" stroke-width="1.6"/>
<line x1="561.38" y1="119.09" x2="570.19" y2="117.79" stroke="#333C74" stroke-width="1.7"/>
<circle cx="570.19" cy="117.79" r="2.7" fill="#333C74"/>
<line x1="560.73" y1="124.75" x2="566.12" y2="126.88" stroke="#333C74" stroke-width="1.7"/>
<circle cx="566.12" cy="126.88" r="2.7" fill="#333C74"/>
<line x1="557.33" y1="129.32" x2="562.86" y2="136.3" stroke="#333C74" stroke-width="1.7"/>
<circle cx="562.86" cy="136.3" r="2.7" fill="#333C74"/>
<line x1="552.11" y1="131.58" x2="552.95" y2="137.32" stroke="#333C74" stroke-width="1.7"/>
<circle cx="552.95" cy="137.32" r="2.7" fill="#333C74"/>
<line x1="546.45" y1="130.93" x2="543.17" y2="139.2" stroke="#333C74" stroke-width="1.7"/>
<circle cx="543.17" cy="139.2" r="2.7" fill="#333C74"/>
<line x1="541.88" y1="127.53" x2="537.33" y2="131.14" stroke="#333C74" stroke-width="1.7"/>
<circle cx="537.33" cy="131.14" r="2.7" fill="#333C74"/>
<line x1="539.62" y1="122.31" x2="530.81" y2="123.61" stroke="#333C74" stroke-width="1.7"/>
<circle cx="530.81" cy="123.61" r="2.7" fill="#333C74"/>
<line x1="540.27" y1="116.65" x2="534.88" y2="114.52" stroke="#333C74" stroke-width="1.7"/>
<circle cx="534.88" cy="114.52" r="2.7" fill="#333C74"/>
<line x1="543.67" y1="112.08" x2="538.14" y2="105.1" stroke="#333C74" stroke-width="1.7"/>
<circle cx="538.14" cy="105.1" r="2.7" fill="#333C74"/>
<line x1="548.89" y1="109.82" x2="548.05" y2="104.08" stroke="#333C74" stroke-width="1.7"/>
<circle cx="548.05" cy="104.08" r="2.7" fill="#333C74"/>
<line x1="554.55" y1="110.47" x2="557.83" y2="102.2" stroke="#333C74" stroke-width="1.7"/>
<circle cx="557.83" cy="102.2" r="2.7" fill="#333C74"/>
<line x1="559.12" y1="113.87" x2="563.67" y2="110.26" stroke="#333C74" stroke-width="1.7"/>
<circle cx="563.67" cy="110.26" r="2.7" fill="#333C74"/>
<circle cx="550.5" cy="120.7" r="11.4" fill="#9EB0C9" stroke="#333C74" stroke-width="2.3"/>
<circle cx="550.5" cy="120.7" r="9.1" fill="#7189C8"/>
<g transform="translate(532.8,143)">
<path d="M-6.3,8.1 C-8.8,8.1 -12.5,14.5 -16.6,22.9 C-19.6,29.5 -21.1,37 -20.7,42.1 C-20.6,44 -19.2,44.5 -17.7,43.9 C-12.9,41.9 -7.8,39.6 -4.1,38 C-3.1,37.5 -2.8,36.9 -2.8,35.4 L-2.8,13 C-2.9,9.8 -4,8.1 -6.3,8.1 Z" fill="#333C74"/>
<path d="M-6.3,8.1 C-8.8,8.1 -12.5,14.5 -16.6,22.9 C-19.6,29.5 -21.1,37 -20.7,42.1 C-20.6,44 -19.2,44.5 -17.7,43.9 C-12.9,41.9 -7.8,39.6 -4.1,38 C-3.1,37.5 -2.8,36.9 -2.8,35.4 L-2.8,13 C-2.9,9.8 -4,8.1 -6.3,8.1 Z" fill="#333C74" transform="scale(-1,1)"/>
<path d="M0,3.6 V22" stroke="#7189C8" stroke-width="3.7" fill="none" stroke-linecap="round"/>
<g transform="scale(-1,1)" stroke="#7189C8" fill="none" stroke-linecap="round" stroke-linejoin="round" stroke-width="2.7"><path d="M0,22.3 L-6.3,24.9 L-9.2,30.7 L-15.4,31.4"/><path d="M-6.6,24.6 L-8.5,19.4"/><path d="M-7,25.2 L-11.8,25.6"/><path d="M-9.2,30.7 L-9.6,35"/></g>
<g transform="scale(1,1)" stroke="#7189C8" fill="none" stroke-linecap="round" stroke-linejoin="round" stroke-width="2.7"><path d="M0,22.3 L-6.3,24.9 L-9.2,30.7 L-15.4,31.4"/><path d="M-6.6,24.6 L-8.5,19.4"/><path d="M-7,25.2 L-11.8,25.6"/><path d="M-9.2,30.7 L-9.6,35"/></g>
</g>
<g transform="translate(456.7,214.9) rotate(-45.2) scale(1.0)" stroke="#333C74" stroke-width="1.5" fill="none" stroke-linecap="round" stroke-linejoin="round">
<line x1="0" y1="0" x2="17" y2="0" stroke-width="1.2"/>
<rect x="17" y="-2" width="5.2" height="4" rx="0.6" fill="#9EB0C9"/>
<rect x="22.2" y="-3.5" width="30.3" height="7.7" rx="1.2" fill="#9EB0C9"/>
<rect x="24" y="-2.1" width="11.3" height="4.9" fill="#7189C8" stroke="none"/>
<line x1="37.5" y1="4" x2="37.5" y2="0.2" stroke-width="1.2"/>
<line x1="41.3" y1="4" x2="41.3" y2="0.2" stroke-width="1.2"/>
<line x1="45.1" y1="4" x2="45.1" y2="0.2" stroke-width="1.2"/>
<line x1="48.9" y1="4" x2="48.9" y2="0.2" stroke-width="1.2"/>
<line x1="52.9" y1="-5.9" x2="52.9" y2="6.6" stroke-width="2.17"/>
<line x1="53" y1="0" x2="61.3" y2="0" stroke-width="2.03"/>
<line x1="61.4" y1="-4.4" x2="61.4" y2="4.4" stroke-width="2.17"/>
</g>
<path d="M586.6,194.4 C598.5,172 603,155.5 572,149.3" fill="none" stroke="#1a1a1a" stroke-width="1.6"/>
<path d="M566.0,147.6 L573.4,145.2 L571.6,153.2 Z" fill="#1a1a1a" stroke="#1a1a1a" stroke-width="0.8" stroke-linejoin="round"/>
<path d="M515.9,288.3 C498,286 487,276.5 497.3,260.5" fill="none" stroke="#1a1a1a" stroke-width="1.6"/>
<path d="M500.5,254.2 L501.0,262.2 L493.7,259.0 Z" fill="#1a1a1a" stroke="#1a1a1a" stroke-width="0.8" stroke-linejoin="round"/>
<rect x="491.4" y="204.9" width="102.5" height="35.9" rx="6.5" fill="#E9EDF7" stroke="#8FA3D6" stroke-width="1.4"/>
<text font-size="8.95" fill="#111" stroke="#111" x="496" y="214.8">Cell Sentences:</text>
<text font-size="8.95" fill="#111" stroke="#111" x="496" y="223.4">GeneB GeneT GeneS</text>
<text font-size="8.95" fill="#111" stroke="#111" x="496" y="232">GeneM ...</text>
<path d="M553.6,308 H559.7 V318.2 H563.4 L568.3,322.9 H544 L549.6,318.2 H553.6 Z" fill="#454545"/>
<rect x="521" y="263.9" width="73.4" height="45.3" rx="1.2" fill="#3A3A3A"/>
<rect x="523.8" y="266.7" width="67.8" height="39.7" fill="#EDF2FB"/>
<path d="M527.6,272 V301.5 H556.8" fill="none" stroke="#999" stroke-width="0.7"/>
<path d="M534.6,277.6h0M531.7,275.9h0M533.5,279.4h0M532.0,278.5h0M529.5,278.1h0M530.9,280.9h0M530.5,279.2h0M534.3,280.6h0M532.2,276.4h0M532.2,279.6h0M529.9,277.9h0M530.1,277.3h0" stroke="#2A8C7A" stroke-opacity="0.8" stroke-width="0.6" stroke-linecap="round" fill="none"/>
<path d="M534.1,276.6h0M531.9,279.6h0M531.9,277.2h0M532.4,277.2h0M531.1,277.6h0M530.2,276.9h0M534.0,278.0h0M531.5,280.8h0M533.5,275.9h0M531.8,278.3h0M532.8,277.3h0M532.2,279.0h0" stroke="#2A8C7A" stroke-opacity="0.8" stroke-width="1.0" stroke-linecap="round" fill="none"/>
<path d="M531.0,280.0h0M532.0,276.6h0M531.9,280.7h0M531.5,275.5h0M531.9,276.9h0M531.7,275.8h0M534.6,276.4h0M530.7,275.9h0M532.4,274.5h0M534.3,275.9h0M530.4,279.8h0M531.4,276.4h0" stroke="#2A8C7A" stroke-opacity="0.8" stroke-width="1.4" stroke-linecap="round" fill="none"/>
<path d="M544.5,274.1h0M543.5,273.2h0M545.3,273.8h0M543.3,274.5h0M542.4,275.4h0M541.3,273.6h0M543.0,272.8h0M543.9,275.3h0" stroke="#7B3FA0" stroke-opacity="0.8" stroke-width="0.6" stroke-linecap="round" fill="none"/>
<path d="M542.7,274.3h0M545.9,275.1h0M542.3,275.1h0M543.8,272.6h0M544.3,274.2h0M544.7,276.0h0M544.5,272.4h0M542.1,276.5h0" stroke="#7B3FA0" stroke-opacity="0.8" stroke-width="1.0" stroke-linecap="round" fill="none"/>
<path d="M543.1,274.7h0M543.7,274.0h0M542.1,273.4h0M543.1,273.9h0M543.1,274.0h0M545.9,273.9h0M542.0,273.0h0M543.6,273.3h0" stroke="#7B3FA0" stroke-opacity="0.8" stroke-width="1.4" stroke-linecap="round" fill="none"/>
<path d="M542.0,284.8h0M543.3,279.9h0M539.0,285.2h0M545.4,286.9h0M537.7,286.9h0M537.9,283.4h0M543.3,283.0h0M539.2,280.3h0M539.9,277.7h0M541.7,287.7h0M540.9,288.0h0M542.7,277.8h0M543.5,287.4h0M541.8,274.9h0M541.3,287.4h0M544.0,279.9h0M538.3,283.6h0M542.0,291.8h0M534.8,283.5h0M541.4,291.9h0M543.7,288.5h0M539.9,284.8h0M542.6,280.7h0M540.7,281.9h0M538.3,279.1h0M544.5,283.3h0M541.5,289.8h0M543.2,291.6h0M539.5,280.2h0M537.6,292.7h0M536.2,290.3h0M544.5,285.3h0M541.0,277.3h0M537.5,286.0h0" stroke="#4F7DC0" stroke-opacity="0.8" stroke-width="0.6" stroke-linecap="round" fill="none"/>
<path d="M543.5,286.5h0M538.4,280.9h0M543.2,289.6h0M542.4,287.9h0M537.6,288.3h0M540.7,283.4h0M538.2,286.6h0M540.1,280.8h0M539.6,285.7h0M539.3,280.9h0M543.9,290.8h0M536.8,287.8h0M543.8,283.2h0M538.6,288.3h0M539.3,279.3h0M538.3,281.2h0M539.7,291.2h0M538.1,283.3h0M541.4,287.9h0M542.2,285.2h0M543.9,283.0h0M544.0,280.4h0M537.5,281.0h0M540.3,284.5h0M545.7,284.4h0M541.4,283.7h0M544.7,287.8h0M537.0,279.5h0M545.7,279.0h0M538.1,276.2h0M538.5,279.7h0M546.0,290.4h0M537.1,288.4h0M540.2,282.6h0" stroke="#4F7DC0" stroke-opacity="0.8" stroke-width="1.0" stroke-linecap="round" fill="none"/>
<path d="M538.8,288.7h0M540.2,290.9h0M541.9,279.7h0M536.0,288.8h0M541.5,287.3h0M539.4,280.6h0M538.2,284.0h0M536.8,286.6h0M542.2,286.7h0M542.8,282.8h0M538.6,283.0h0M538.9,280.3h0M539.9,283.2h0M538.3,284.5h0M541.2,283.9h0M539.2,286.1h0M539.8,294.1h0M544.2,287.6h0M538.8,293.3h0M539.8,279.1h0M537.6,283.0h0M539.3,288.2h0M541.1,286.1h0M542.8,285.2h0M540.3,284.7h0M542.7,279.9h0M541.8,292.5h0M543.5,283.5h0M541.2,278.1h0M542.0,279.6h0M541.4,283.9h0M541.1,287.5h0M536.7,284.5h0M541.1,278.6h0" stroke="#4F7DC0" stroke-opacity="0.8" stroke-width="1.4" stroke-linecap="round" fill="none"/>
<path d="M531.9,287.3h0M533.4,283.6h0M532.2,283.6h0M531.9,284.0h0M534.0,285.9h0M531.9,286.3h0M534.5,284.8h0M531.9,285.5h0M535.1,284.5h0M534.7,287.4h0M532.4,282.0h0M529.2,285.6h0M532.7,287.0h0M534.0,288.1h0M533.3,285.0h0M532.8,288.0h0" stroke="#8FC5EE" stroke-opacity="0.8" stroke-width="0.6" stroke-linecap="round" fill="none"/>
<path d="M534.9,288.1h0M533.4,285.1h0M530.7,288.1h0M531.1,283.8h0M533.9,287.1h0M532.1,289.4h0M532.8,289.8h0M530.7,285.7h0M533.1,287.9h0M532.0,289.2h0M532.0,289.9h0M534.6,290.7h0M532.6,284.8h0M534.7,287.8h0M530.0,285.1h0M531.0,284.9h0" stroke="#8FC5EE" stroke-opacity="0.8" stroke-width="1.0" stroke-linecap="round" fill="none"/>
<path d="M534.0,290.3h0M531.1,289.0h0M532.9,289.3h0M531.8,289.5h0M535.0,290.5h0M533.4,288.3h0M534.6,288.4h0M532.4,282.8h0M531.3,281.8h0M534.5,284.0h0M530.7,288.4h0M533.5,288.3h0M532.5,286.1h0M530.4,289.9h0M533.5,288.4h0M532.8,283.0h0" stroke="#8FC5EE" stroke-opacity="0.8" stroke-width="1.4" stroke-linecap="round" fill="none"/>
<path d="M552.4,278.5h0M551.2,277.1h0M552.0,279.0h0M549.4,279.8h0M550.5,278.4h0M554.7,276.7h0M549.4,279.1h0M555.7,281.4h0M552.6,278.8h0M554.8,278.6h0M550.4,279.4h0M551.0,276.8h0M553.5,279.1h0M555.9,280.3h0M551.5,278.4h0M551.3,278.0h0" stroke="#D0409A" stroke-opacity="0.8" stroke-width="0.6" stroke-linecap="round" fill="none"/>
<path d="M553.5,277.1h0M551.4,276.3h0M550.1,277.2h0M552.0,278.5h0M552.4,281.1h0M551.6,282.5h0M551.1,277.7h0M553.4,278.1h0M552.9,277.9h0M551.7,275.9h0M551.7,284.1h0M549.0,277.9h0M551.1,279.6h0M550.3,281.4h0M553.7,279.5h0M551.5,277.4h0" stroke="#D0409A" stroke-opacity="0.8" stroke-width="1.0" stroke-linecap="round" fill="none"/>
<path d="M550.9,278.1h0M553.2,281.0h0M551.5,277.3h0M550.2,279.3h0M553.7,278.0h0M551.2,278.6h0M554.6,277.6h0M550.9,274.8h0M553.1,276.0h0M549.8,281.1h0M554.0,276.4h0M554.4,279.6h0M551.8,284.0h0M554.7,278.5h0M555.3,282.2h0M551.1,279.3h0" stroke="#D0409A" stroke-opacity="0.8" stroke-width="1.4" stroke-linecap="round" fill="none"/>
<path d="M550.4,281.7h0M548.1,287.3h0M549.6,284.6h0M549.1,281.2h0M548.6,286.4h0M548.9,282.3h0M549.5,281.8h0M547.9,285.8h0M549.0,285.8h0M550.3,284.5h0" stroke="#D95F5F" stroke-opacity="0.8" stroke-width="0.6" stroke-linecap="round" fill="none"/>
<path d="M547.3,283.2h0M548.5,284.2h0M548.5,284.9h0M548.5,286.7h0M548.4,287.1h0M549.5,283.8h0M550.6,285.4h0M547.4,284.0h0M551.2,287.0h0M550.1,285.2h0" stroke="#D95F5F" stroke-opacity="0.8" stroke-width="1.0" stroke-linecap="round" fill="none"/>
<path d="M548.8,285.4h0M549.3,286.7h0M549.7,283.9h0M551.1,284.4h0M550.7,282.6h0M547.2,282.6h0M548.9,287.2h0M550.0,283.6h0M549.8,284.1h0M548.9,284.6h0" stroke="#D95F5F" stroke-opacity="0.8" stroke-width="1.4" stroke-linecap="round" fill="none"/>
<path d="M548.8,294.7h0M550.4,293.2h0M551.1,289.6h0M548.9,292.2h0M547.7,291.7h0M547.2,290.5h0M549.0,290.6h0M548.5,291.6h0M543.6,292.6h0M550.9,293.7h0M554.5,292.7h0M549.9,291.3h0M543.5,293.4h0M549.9,294.3h0M546.7,293.5h0M548.2,294.1h0" stroke="#9C5A4A" stroke-opacity="0.8" stroke-width="0.6" stroke-linecap="round" fill="none"/>
<path d="M548.1,291.9h0M553.8,294.6h0M547.2,291.6h0M553.0,294.2h0M546.5,292.9h0M549.7,290.7h0M548.2,294.8h0M544.3,292.6h0M552.0,291.4h0M547.6,294.3h0M545.2,294.7h0M552.8,295.2h0M549.1,291.7h0M550.6,294.5h0M547.7,291.3h0M548.3,291.8h0" stroke="#9C5A4A" stroke-opacity="0.8" stroke-width="1.0" stroke-linecap="round" fill="none"/>
<path d="M551.1,293.8h0M549.6,292.4h0M549.5,292.1h0M552.0,294.8h0M552.3,291.0h0M545.5,291.7h0M549.0,292.9h0M545.5,291.8h0M550.0,290.2h0M546.0,292.8h0M550.7,292.3h0M546.1,293.6h0M548.6,292.9h0M552.3,294.6h0M555.4,293.3h0M553.8,292.2h0" stroke="#9C5A4A" stroke-opacity="0.8" stroke-width="1.4" stroke-linecap="round" fill="none"/>
<path d="M535.8,296.8h0M535.7,296.7h0M537.0,298.0h0M536.7,295.8h0M536.6,296.3h0M537.2,297.2h0M536.1,298.0h0M538.4,297.4h0M536.5,297.4h0M537.8,296.1h0" stroke="#E8C838" stroke-opacity="0.8" stroke-width="0.6" stroke-linecap="round" fill="none"/>
<path d="M535.9,298.6h0M539.5,296.5h0M538.7,297.5h0M537.5,296.8h0M536.9,295.1h0M536.0,295.2h0M538.1,295.0h0M536.2,299.6h0M534.5,295.1h0M533.6,296.7h0" stroke="#E8C838" stroke-opacity="0.8" stroke-width="1.0" stroke-linecap="round" fill="none"/>
<path d="M537.4,296.9h0M537.6,294.6h0M537.4,297.5h0M537.5,298.2h0M536.9,295.6h0M536.5,296.0h0M538.1,299.1h0M535.8,294.7h0M540.0,297.2h0M538.8,296.0h0" stroke="#E8C838" stroke-opacity="0.8" stroke-width="1.4" stroke-linecap="round" fill="none"/>
<circle cx="558.77" cy="275.22" r="0.6" fill="#4FC0C0"/>
<circle cx="558.77" cy="277.91" r="0.6" fill="#E8C838"/>
<circle cx="558.77" cy="280.6" r="0.6" fill="#4F7DC0"/>
<circle cx="558.77" cy="283.29" r="0.6" fill="#7B3FA0"/>
<circle cx="558.77" cy="285.98" r="0.6" fill="#D95F5F"/>
<circle cx="558.77" cy="288.67" r="0.6" fill="#D0409A"/>
<circle cx="558.77" cy="291.36" r="0.6" fill="#D0409A"/>
<rect x="566.1" y="275.2" width="21.7" height="7.3" fill="#C5CAD6" stroke="#A8AEBC" stroke-width="0.5"/>
<rect x="575.5" y="276" width="5.5" height="5.7" fill="#E6DDC8"/>
<rect x="575.8" y="276.6" width="3.6" height="0.8" fill="#5FB05F"/>
<rect x="575.8" y="277.8" width="3.1" height="0.8" fill="#E8C838"/>
<rect x="575.8" y="279" width="2.6" height="0.8" fill="#E07030"/>
<rect x="575.8" y="280.2" width="2.1" height="0.8" fill="#4F7DC0"/>
<rect x="564.9" y="290.3" width="24" height="11.4" fill="#fff" stroke="#888" stroke-width="0.6"/>
<path d="M565.4,301.3 Q566.4,287.5 567.4,301.3 Z" fill="#4F7DC0"/>
<path d="M567.6,301.3 Q568.6,288.3 569.6,301.3 Z" fill="#4F7DC0"/>
<path d="M569.8,301.3 Q570.8,289.1 571.8,301.3 Z" fill="#7B3FA0"/>
<path d="M572,301.3 Q573,287.5 574,301.3 Z" fill="#D03030"/>
<path d="M574.2,301.3 Q575.2,288.3 576.2,301.3 Z" fill="#D03030"/>
<path d="M576.4,301.3 Q577.4,289.1 578.4,301.3 Z" fill="#2A8C4A"/>
<path d="M578.6,301.3 Q579.6,287.5 580.6,301.3 Z" fill="#4F7DC0"/>
<path d="M580.8,301.3 Q581.8,288.3 582.8,301.3 Z" fill="#7B3FA0"/>
<path d="M583,301.3 Q584,289.1 585,301.3 Z" fill="#2A8C4A"/>
<path d="M585.2,301.3 Q586.2,287.5 587.2,301.3 Z" fill="#4F7DC0"/>
</g>
<g id="context">
<path d="M623.6,222 C624.27,204 625.63,175.92 627.3,160 C628.97,144.08 630.48,135.2 633.6,126.5 C636.72,117.8 641.27,111.9 646,107.8 C650.73,103.7 654.67,102.53 662,101.9 C669.33,101.27 681.13,102.65 690,104 C698.87,105.35 706.4,106.92 715.2,110 C724,113.08 733.67,118 742.8,122.5 C751.93,127 762.13,132.42 770,137 C777.87,141.58 784.75,145.43 790,150 C795.25,154.57 799.25,159.23 801.5,164.4 C803.75,169.57 804.58,175.73 803.5,181 C802.42,186.27 798.92,191 795,196 C791.08,201 785,205.83 780,211 C775,216.17 769.42,221.83 765,227 C760.58,232.17 757.15,237.17 753.5,242 C749.85,246.83 746.18,251.25 743.1,256 C740.02,260.75 738.35,265.5 735,270.5 C731.65,275.5 727.33,281.42 723,286 C718.67,290.58 713.83,294.58 709,298 C704.17,301.42 699.17,304.25 694,306.5 C688.83,308.75 683.67,310.58 678,311.5 C672.33,312.42 665.5,312.5 660,312 C654.5,311.5 649.42,310.33 645,308.5 C640.58,306.67 636.58,304.42 633.5,301 C630.42,297.58 628.2,293.5 626.5,288 C624.8,282.5 623.78,279 623.3,268 C622.82,257 622.93,240 623.6,222 Z" fill="#E9EDF7"/>
<circle cx="665.56" cy="124.76" r="5.1499999999999995" fill="#5B7EC1" stroke="#4E71B8" stroke-width="0.5"/><circle cx="665.56" cy="124.76" r="2.5" fill="#3A5FA8"/>
<circle cx="686.56" cy="124.76" r="5.1499999999999995" fill="#5B7EC1" stroke="#4E71B8" stroke-width="0.5"/><circle cx="686.56" cy="124.76" r="2.5" fill="#3A5FA8"/>
<circle cx="661.12" cy="133.93" r="5.1499999999999995" fill="#5B7EC1" stroke="#4E71B8" stroke-width="0.5"/><circle cx="661.12" cy="133.93" r="2.5" fill="#3A5FA8"/>
<circle cx="670.29" cy="133.63" r="5.1499999999999995" fill="#5B7EC1" stroke="#4E71B8" stroke-width="0.5"/><circle cx="670.29" cy="133.63" r="2.5" fill="#3A5FA8"/>
<circle cx="680.94" cy="133.63" r="5.1499999999999995" fill="#5B7EC1" stroke="#4E71B8" stroke-width="0.5"/><circle cx="680.94" cy="133.63" r="2.5" fill="#3A5FA8"/>
<circle cx="692.47" cy="133.34" r="5.1499999999999995" fill="#5B7EC1" stroke="#4E71B8" stroke-width="0.5"/><circle cx="692.47" cy="133.34" r="2.5" fill="#3A5FA8"/>
<circle cx="666.29" cy="142.06" r="5.1499999999999995" fill="#5B7EC1" stroke="#4E71B8" stroke-width="0.5"/><circle cx="666.29" cy="142.06" r="2.5" fill="#3A5FA8"/>
<circle cx="677.39" cy="142.36" r="5.1499999999999995" fill="#5B7EC1" stroke="#4E71B8" stroke-width="0.5"/><circle cx="677.39" cy="142.36" r="2.5" fill="#3A5FA8"/>
<circle cx="686.85" cy="142.51" r="5.1499999999999995" fill="#5B7EC1" stroke="#4E71B8" stroke-width="0.5"/><circle cx="686.85" cy="142.51" r="2.5" fill="#3A5FA8"/>
<circle cx="696.91" cy="142.51" r="5.1499999999999995" fill="#5B7EC1" stroke="#4E71B8" stroke-width="0.5"/><circle cx="696.91" cy="142.51" r="2.5" fill="#3A5FA8"/>
<circle cx="651.8" cy="151.38" r="5.1499999999999995" fill="#5B7EC1" stroke="#4E71B8" stroke-width="0.5"/><circle cx="651.8" cy="151.38" r="2.5" fill="#3A5FA8"/>
<circle cx="661.71" cy="152.12" r="5.1499999999999995" fill="#5B7EC1" stroke="#4E71B8" stroke-width="0.5"/><circle cx="661.71" cy="152.12" r="2.5" fill="#3A5FA8"/>
<circle cx="671.47" cy="150.94" r="5.1499999999999995" fill="#5B7EC1" stroke="#4E71B8" stroke-width="0.5"/><circle cx="671.47" cy="150.94" r="2.5" fill="#3A5FA8"/>
<circle cx="683.3" cy="151.83" r="5.1499999999999995" fill="#5B7EC1" stroke="#4E71B8" stroke-width="0.5"/><circle cx="683.3" cy="151.83" r="2.5" fill="#3A5FA8"/>
<circle cx="692.77" cy="151.83" r="5.1499999999999995" fill="#5B7EC1" stroke="#4E71B8" stroke-width="0.5"/><circle cx="692.77" cy="151.83" r="2.5" fill="#3A5FA8"/>
<circle cx="656.24" cy="160.7" r="5.1499999999999995" fill="#5B7EC1" stroke="#4E71B8" stroke-width="0.5"/><circle cx="656.24" cy="160.7" r="2.5" fill="#3A5FA8"/>
<circle cx="666.74" cy="159.81" r="5.1499999999999995" fill="#5B7EC1" stroke="#4E71B8" stroke-width="0.5"/><circle cx="666.74" cy="159.81" r="2.5" fill="#3A5FA8"/>
<circle cx="677.39" cy="160.7" r="5.1499999999999995" fill="#5B7EC1" stroke="#4E71B8" stroke-width="0.5"/><circle cx="677.39" cy="160.7" r="2.5" fill="#3A5FA8"/>
<circle cx="687.74" cy="160.7" r="5.1499999999999995" fill="#5B7EC1" stroke="#4E71B8" stroke-width="0.5"/><circle cx="687.74" cy="160.7" r="2.5" fill="#3A5FA8"/>
<circle cx="662.15" cy="168.69" r="5.1499999999999995" fill="#5B7EC1" stroke="#4E71B8" stroke-width="0.5"/><circle cx="662.15" cy="168.69" r="2.5" fill="#3A5FA8"/>
<circle cx="671.77" cy="168.39" r="5.1499999999999995" fill="#5B7EC1" stroke="#4E71B8" stroke-width="0.5"/><circle cx="671.77" cy="168.39" r="2.5" fill="#3A5FA8"/>
<circle cx="658.1" cy="223.6" r="5.45" fill="#5B7EC1" stroke="#4E71B8" stroke-width="0.5"/><circle cx="658.1" cy="223.6" r="2.4" fill="#3A5FA8"/>
<circle cx="670.3" cy="224.8" r="5.45" fill="#5B7EC1" stroke="#4E71B8" stroke-width="0.5"/><circle cx="670.3" cy="224.8" r="2.4" fill="#3A5FA8"/>
<circle cx="651.9" cy="233.2" r="5.45" fill="#5B7EC1" stroke="#4E71B8" stroke-width="0.5"/><circle cx="651.9" cy="233.2" r="2.4" fill="#3A5FA8"/>
<circle cx="662.5" cy="234.2" r="5.45" fill="#5B7EC1" stroke="#4E71B8" stroke-width="0.5"/><circle cx="662.5" cy="234.2" r="2.4" fill="#3A5FA8"/>
<circle cx="655.9" cy="244.3" r="5.45" fill="#5B7EC1" stroke="#4E71B8" stroke-width="0.5"/><circle cx="655.9" cy="244.3" r="2.4" fill="#3A5FA8"/>
<circle cx="667.7" cy="245" r="5.45" fill="#5B7EC1" stroke="#4E71B8" stroke-width="0.5"/><circle cx="667.7" cy="245" r="2.4" fill="#3A5FA8"/>
<circle cx="674.6" cy="274.1" r="8.75" fill="#5B7EC1" stroke="#4E71B8" stroke-width="0.5"/><circle cx="674.6" cy="272.9" r="4.4" fill="#3A5FA8"/>
<text font-size="13.4" fill="#000" stroke="#000" text-anchor="middle" x="673.4" y="185.9">multi-cell with</text>
<text font-size="13.4" fill="#000" stroke="#000" text-anchor="middle" x="673.4" y="197">annotations</text>
<text x="678.8" y="239.1" font-size="13.4" fill="#000" stroke="#000">multi-cell</text>
<text x="636.6" y="293.9" font-size="13.4" fill="#000" stroke="#000">single cell</text>
<path d="M710.4,155.5 H720.4 M715.4,150.5 V160.5" stroke="#000" stroke-width="2.3" fill="none"/>
<path d="M741.5,135.3 H757.2 L764.8,142.9 V162.7 Q764.8,166.7 760.8,166.7 H741.5 Q737.5,166.7 737.5,162.7 V139.3 Q737.5,135.3 741.5,135.3 Z" fill="#F4F7FD" stroke="#2F6080" stroke-width="1.5" stroke-linejoin="round"/>
<path d="M757.2,135.3 V140.4 Q757.2,142.9 759.7,142.9 H764.8" fill="#F4F7FD" stroke="#2F6080" stroke-width="1.5" stroke-linejoin="round"/>
<line x1="742" y1="140.58" x2="754.43" y2="140.58" stroke="#3A9BDC" stroke-width="1.3"/>
<line x1="742" y1="146.35" x2="760.43" y2="146.35" stroke="#3A9BDC" stroke-width="1.3"/>
<line x1="742" y1="150.06" x2="760.43" y2="150.06" stroke="#3A9BDC" stroke-width="1.3"/>
<line x1="742" y1="153.67" x2="760.43" y2="153.67" stroke="#3A9BDC" stroke-width="1.3"/>
<line x1="742" y1="157.28" x2="760.43" y2="157.28" stroke="#3A9BDC" stroke-width="1.3"/>
<line x1="742" y1="160.73" x2="760.43" y2="160.73" stroke="#3A9BDC" stroke-width="1.3"/>
<g transform="translate(735.3,184.4) rotate(-45)"><rect x="-12.3" y="-4.6" width="24.6" height="9.2" rx="4.6" fill="#F4F7FD" stroke="#35607F" stroke-width="1.6"/><path d="M0,-4.6 H7.7 A4.6,4.6 0 0 1 7.7,4.6 H0 Z" fill="#35607F" stroke="#35607F" stroke-width="1.6"/></g>
<g transform="translate(748.3,199.2) rotate(-45.2) scale(0.78)" stroke="#2F6080" stroke-width="2.05" fill="none" stroke-linecap="round" stroke-linejoin="round">
<line x1="0" y1="0" x2="17" y2="0" stroke-width="1.64"/>
<rect x="17" y="-2" width="5.2" height="4" rx="0.6" fill="#F4F7FD"/>
<rect x="22.2" y="-3.5" width="30.3" height="7.7" rx="1.2" fill="#F4F7FD"/>
<rect x="24" y="-2.1" width="11.3" height="4.9" fill="#3A8FD0" stroke="none"/>
<line x1="37.5" y1="4" x2="37.5" y2="0.2" stroke-width="1.64"/>
<line x1="41.3" y1="4" x2="41.3" y2="0.2" stroke-width="1.64"/>
<line x1="45.1" y1="4" x2="45.1" y2="0.2" stroke-width="1.64"/>
<line x1="48.9" y1="4" x2="48.9" y2="0.2" stroke-width="1.64"/>
<line x1="52.9" y1="-5.9" x2="52.9" y2="6.6" stroke-width="2.97"/>
<line x1="53" y1="0" x2="61.3" y2="0" stroke-width="2.77"/>
<line x1="61.4" y1="-4.4" x2="61.4" y2="4.4" stroke-width="2.97"/>
</g>
</g>
<g id="scales">
<path d="M848.4,201.4 C854.95,201.13 863.32,202.32 869.3,204.9 C875.28,207.48 878.82,211.42 884.3,216.9 C889.78,222.38 895.73,230.33 902.2,237.8 C908.67,245.27 916.72,254.75 923.1,261.7 C929.48,268.65 935.93,274.62 940.5,279.5 C945.07,284.38 948.12,286.92 950.5,291 C952.88,295.08 954.02,299.33 954.8,304 C955.58,308.67 955.67,313.92 955.2,319 C954.73,324.08 954.28,330.28 952,334.5 C949.72,338.72 946.32,342.75 941.5,344.3 C936.68,345.85 930.15,344.38 923.1,343.8 C916.05,343.22 906.17,340.05 899.2,340.8 C892.23,341.55 887.27,344.57 881.3,348.3 C875.33,352.03 870.37,357.72 863.4,363.2 C856.43,368.68 848.47,376.47 839.5,381.2 C830.53,385.93 820.07,389.62 809.6,391.6 C799.13,393.58 786.65,394.1 776.7,393.1 C766.75,392.1 756.87,389.58 749.9,385.6 C742.93,381.62 737.98,375.92 734.9,369.2 C731.82,362.48 730.9,353.27 731.4,345.3 C731.9,337.33 733.83,328.87 737.9,321.4 C741.97,313.93 748.83,306.97 755.8,300.5 C762.77,294.03 772.72,288.07 779.7,282.6 C786.68,277.13 792.72,274.17 797.7,267.7 C802.68,261.23 806.12,251.77 809.6,243.8 C813.08,235.83 815.2,226.12 818.6,219.9 C822,213.68 825.03,209.58 830,206.5 C834.97,203.42 841.85,201.67 848.4,201.4 Z" fill="#E9EDF7"/>
<text x="833.6" y="217.1" font-size="13.2" fill="#000" stroke="#000">tissue</text>
<circle cx="854.0" cy="250.0" r="28.8" fill="#FBE3F2"/>
<g clip-path="url(#tisclip)">
<g stroke="#D679A7" stroke-width="0.45"><circle cx="843.4" cy="226.9" r="1.4" fill="#F0A9C8"/><circle cx="846.7" cy="226.3" r="1.5" fill="#EA97BB"/><circle cx="849.8" cy="226.3" r="1.4" fill="#EDA0C2"/><circle cx="852.3" cy="226.6" r="1.6" fill="#EDA0C2"/><circle cx="855.5" cy="226.6" r="1.5" fill="#E78FB6"/><circle cx="858.9" cy="226.2" r="1.6" fill="#EDA0C2"/><circle cx="839.3" cy="228.8" r="1.5" fill="#EEA3C4"/><circle cx="842.4" cy="229.3" r="1.4" fill="#F0A9C8"/><circle cx="844.7" cy="229.2" r="1.4" fill="#EEA3C4"/><circle cx="848.4" cy="229.0" r="1.5" fill="#F0A9C8"/><circle cx="851.3" cy="229.3" r="1.5" fill="#F0A9C8"/><circle cx="863.7" cy="229.0" r="1.3" fill="#EDA0C2"/><circle cx="866.4" cy="229.4" r="1.4" fill="#F0A9C8"/><circle cx="869.4" cy="229.4" r="1.5" fill="#F0A9C8"/><circle cx="837.6" cy="232.0" r="1.5" fill="#EA97BB"/><circle cx="840.6" cy="232.2" r="1.4" fill="#E78FB6"/><circle cx="843.3" cy="231.9" r="1.6" fill="#F0A9C8"/><circle cx="846.7" cy="231.4" r="1.3" fill="#E78FB6"/><circle cx="855.9" cy="232.3" r="1.6" fill="#EA97BB"/><circle cx="858.3" cy="231.5" r="1.4" fill="#EA97BB"/><circle cx="861.8" cy="231.9" r="1.4" fill="#F0A9C8"/><circle cx="864.7" cy="231.9" r="1.5" fill="#EA97BB"/><circle cx="868.1" cy="231.7" r="1.4" fill="#F0A9C8"/><circle cx="871.3" cy="232.1" r="1.5" fill="#EEA3C4"/><circle cx="833.1" cy="234.6" r="1.4" fill="#EA97BB"/><circle cx="835.6" cy="234.4" r="1.4" fill="#EA97BB"/><circle cx="839.3" cy="234.6" r="1.4" fill="#EDA0C2"/><circle cx="841.9" cy="234.3" r="1.6" fill="#EEA3C4"/><circle cx="851.1" cy="234.2" r="1.4" fill="#E78FB6"/><circle cx="854.1" cy="234.8" r="1.3" fill="#EEA3C4"/><circle cx="857.0" cy="234.9" r="1.4" fill="#E78FB6"/><circle cx="859.8" cy="234.9" r="1.4" fill="#F0A9C8"/><circle cx="863.0" cy="234.0" r="1.5" fill="#E78FB6"/><circle cx="866.1" cy="234.1" r="1.3" fill="#E78FB6"/><circle cx="869.0" cy="234.5" r="1.3" fill="#E78FB6"/><circle cx="872.7" cy="234.2" r="1.3" fill="#EA97BB"/><circle cx="831.1" cy="237.3" r="1.5" fill="#EEA3C4"/><circle cx="833.9" cy="237.0" r="1.5" fill="#EEA3C4"/><circle cx="837.1" cy="236.7" r="1.4" fill="#EDA0C2"/><circle cx="846.5" cy="237.2" r="1.5" fill="#E78FB6"/><circle cx="849.9" cy="237.4" r="1.4" fill="#EA97BB"/><circle cx="853.0" cy="237.1" r="1.5" fill="#F0A9C8"/><circle cx="856.0" cy="237.3" r="1.4" fill="#F0A9C8"/><circle cx="858.9" cy="237.1" r="1.4" fill="#EA97BB"/><circle cx="861.8" cy="237.2" r="1.4" fill="#F0A9C8"/><circle cx="864.9" cy="237.1" r="1.4" fill="#EDA0C2"/><circle cx="867.5" cy="236.9" r="1.5" fill="#EDA0C2"/><circle cx="871.1" cy="236.7" r="1.5" fill="#EDA0C2"/><circle cx="874.4" cy="237.3" r="1.3" fill="#EDA0C2"/><circle cx="876.8" cy="237.3" r="1.6" fill="#EA97BB"/><circle cx="832.4" cy="239.5" r="1.4" fill="#E78FB6"/><circle cx="841.9" cy="239.9" r="1.3" fill="#EDA0C2"/><circle cx="844.9" cy="239.9" r="1.4" fill="#F0A9C8"/><circle cx="848.4" cy="239.4" r="1.4" fill="#EEA3C4"/><circle cx="851.2" cy="239.8" r="1.6" fill="#EEA3C4"/><circle cx="854.2" cy="239.5" r="1.3" fill="#EA97BB"/><circle cx="857.0" cy="240.0" r="1.4" fill="#EA97BB"/><circle cx="860.6" cy="240.1" r="1.4" fill="#E78FB6"/><circle cx="863.0" cy="240.0" r="1.5" fill="#EDA0C2"/><circle cx="866.4" cy="239.4" r="1.6" fill="#EEA3C4"/><circle cx="869.5" cy="239.5" r="1.6" fill="#E78FB6"/><circle cx="872.9" cy="239.4" r="1.4" fill="#EEA3C4"/><circle cx="875.7" cy="239.4" r="1.3" fill="#E78FB6"/><circle cx="831.2" cy="242.2" r="1.4" fill="#EEA3C4"/><circle cx="840.3" cy="242.2" r="1.5" fill="#F0A9C8"/><circle cx="843.5" cy="242.5" r="1.5" fill="#EA97BB"/><circle cx="846.5" cy="242.1" r="1.3" fill="#EA97BB"/><circle cx="849.3" cy="242.4" r="1.6" fill="#F0A9C8"/><circle cx="852.2" cy="242.4" r="1.6" fill="#EEA3C4"/><circle cx="856.1" cy="242.3" r="1.4" fill="#EA97BB"/><circle cx="858.4" cy="242.1" r="1.4" fill="#E78FB6"/><circle cx="862.1" cy="242.4" r="1.4" fill="#EDA0C2"/><circle cx="864.6" cy="242.1" r="1.4" fill="#EA97BB"/><circle cx="867.5" cy="242.8" r="1.4" fill="#F0A9C8"/><circle cx="870.8" cy="242.0" r="1.3" fill="#E78FB6"/><circle cx="874.0" cy="242.8" r="1.3" fill="#F0A9C8"/><circle cx="876.9" cy="242.6" r="1.5" fill="#EA97BB"/><circle cx="835.6" cy="245.0" r="1.3" fill="#E78FB6"/><circle cx="838.6" cy="244.8" r="1.5" fill="#EDA0C2"/><circle cx="842.1" cy="245.0" r="1.6" fill="#EDA0C2"/><circle cx="845.0" cy="245.0" r="1.5" fill="#EA97BB"/><circle cx="847.7" cy="245.1" r="1.6" fill="#EEA3C4"/><circle cx="851.2" cy="245.5" r="1.5" fill="#EA97BB"/><circle cx="854.5" cy="245.1" r="1.6" fill="#EDA0C2"/><circle cx="857.4" cy="245.2" r="1.4" fill="#EDA0C2"/><circle cx="859.9" cy="245.4" r="1.4" fill="#EDA0C2"/><circle cx="863.7" cy="245.5" r="1.3" fill="#EEA3C4"/><circle cx="866.5" cy="244.8" r="1.3" fill="#F0A9C8"/><circle cx="869.7" cy="244.7" r="1.6" fill="#EA97BB"/><circle cx="872.6" cy="245.4" r="1.3" fill="#EDA0C2"/><circle cx="875.5" cy="245.0" r="1.4" fill="#E78FB6"/><circle cx="834.6" cy="247.5" r="1.4" fill="#EA97BB"/><circle cx="837.1" cy="247.4" r="1.3" fill="#EDA0C2"/><circle cx="840.7" cy="248.2" r="1.5" fill="#F0A9C8"/><circle cx="843.1" cy="247.9" r="1.3" fill="#EA97BB"/><circle cx="846.8" cy="248.1" r="1.6" fill="#EDA0C2"/><circle cx="849.5" cy="247.6" r="1.5" fill="#EEA3C4"/><circle cx="852.2" cy="247.5" r="1.6" fill="#EA97BB"/><circle cx="855.8" cy="247.7" r="1.5" fill="#EDA0C2"/><circle cx="859.0" cy="247.9" r="1.3" fill="#E78FB6"/><circle cx="861.9" cy="247.6" r="1.4" fill="#EA97BB"/><circle cx="864.6" cy="247.9" r="1.3" fill="#EDA0C2"/><circle cx="867.9" cy="248.0" r="1.3" fill="#EDA0C2"/><circle cx="870.5" cy="247.4" r="1.4" fill="#F0A9C8"/><circle cx="880.0" cy="247.6" r="1.3" fill="#EEA3C4"/><circle cx="830.2" cy="250.2" r="1.5" fill="#EA97BB"/><circle cx="832.8" cy="250.8" r="1.5" fill="#EDA0C2"/><circle cx="835.7" cy="250.3" r="1.3" fill="#EEA3C4"/><circle cx="838.9" cy="250.3" r="1.5" fill="#EA97BB"/><circle cx="842.0" cy="250.8" r="1.5" fill="#EDA0C2"/><circle cx="844.7" cy="250.7" r="1.5" fill="#EA97BB"/><circle cx="848.5" cy="250.0" r="1.5" fill="#E78FB6"/><circle cx="851.3" cy="250.3" r="1.4" fill="#EA97BB"/><circle cx="854.0" cy="250.1" r="1.4" fill="#F0A9C8"/><circle cx="857.5" cy="250.6" r="1.4" fill="#EA97BB"/><circle cx="860.6" cy="250.5" r="1.6" fill="#EDA0C2"/><circle cx="863.4" cy="250.3" r="1.3" fill="#EA97BB"/><circle cx="866.4" cy="250.0" r="1.3" fill="#EDA0C2"/><circle cx="875.8" cy="250.4" r="1.4" fill="#EEA3C4"/><circle cx="878.7" cy="250.7" r="1.4" fill="#EDA0C2"/><circle cx="831.4" cy="253.1" r="1.4" fill="#EEA3C4"/><circle cx="834.5" cy="253.0" r="1.6" fill="#EEA3C4"/><circle cx="837.8" cy="253.2" r="1.5" fill="#EEA3C4"/><circle cx="840.1" cy="253.0" r="1.6" fill="#EDA0C2"/><circle cx="843.7" cy="253.1" r="1.3" fill="#EDA0C2"/><circle cx="846.1" cy="253.3" r="1.5" fill="#E78FB6"/><circle cx="849.4" cy="253.4" r="1.3" fill="#EA97BB"/><circle cx="852.3" cy="253.3" r="1.5" fill="#F0A9C8"/><circle cx="856.1" cy="253.2" r="1.5" fill="#EEA3C4"/><circle cx="858.8" cy="252.8" r="1.4" fill="#EDA0C2"/><circle cx="861.6" cy="253.5" r="1.4" fill="#E78FB6"/><circle cx="874.2" cy="252.9" r="1.4" fill="#EEA3C4"/><circle cx="877.2" cy="253.5" r="1.3" fill="#EDA0C2"/><circle cx="879.8" cy="252.9" r="1.3" fill="#EEA3C4"/><circle cx="829.4" cy="255.6" r="1.3" fill="#EDA0C2"/><circle cx="832.9" cy="255.8" r="1.5" fill="#EEA3C4"/><circle cx="836.1" cy="255.6" r="1.4" fill="#EEA3C4"/><circle cx="839.0" cy="255.5" r="1.4" fill="#EDA0C2"/><circle cx="842.1" cy="256.1" r="1.3" fill="#EDA0C2"/><circle cx="844.7" cy="255.5" r="1.4" fill="#EEA3C4"/><circle cx="847.8" cy="255.4" r="1.5" fill="#F0A9C8"/><circle cx="851.3" cy="255.3" r="1.4" fill="#EEA3C4"/><circle cx="854.6" cy="255.5" r="1.5" fill="#E78FB6"/><circle cx="857.6" cy="255.5" r="1.5" fill="#E78FB6"/><circle cx="869.7" cy="255.8" r="1.4" fill="#F0A9C8"/><circle cx="872.8" cy="256.0" r="1.5" fill="#EEA3C4"/><circle cx="875.9" cy="255.8" r="1.6" fill="#EDA0C2"/><circle cx="878.5" cy="256.0" r="1.3" fill="#F0A9C8"/><circle cx="831.3" cy="258.2" r="1.3" fill="#EEA3C4"/><circle cx="834.8" cy="258.0" r="1.3" fill="#E78FB6"/><circle cx="837.8" cy="258.7" r="1.3" fill="#F0A9C8"/><circle cx="840.0" cy="258.6" r="1.6" fill="#EA97BB"/><circle cx="843.9" cy="258.2" r="1.4" fill="#E78FB6"/><circle cx="846.7" cy="258.6" r="1.3" fill="#EDA0C2"/><circle cx="849.4" cy="258.2" r="1.5" fill="#EEA3C4"/><circle cx="852.6" cy="258.1" r="1.6" fill="#F0A9C8"/><circle cx="861.8" cy="258.8" r="1.4" fill="#E78FB6"/><circle cx="865.2" cy="258.1" r="1.4" fill="#EA97BB"/><circle cx="868.2" cy="257.9" r="1.5" fill="#F0A9C8"/><circle cx="871.2" cy="257.9" r="1.4" fill="#E78FB6"/><circle cx="874.3" cy="258.0" r="1.6" fill="#EA97BB"/><circle cx="877.5" cy="258.3" r="1.4" fill="#EDA0C2"/><circle cx="833.1" cy="261.0" r="1.6" fill="#EEA3C4"/><circle cx="836.0" cy="260.6" r="1.3" fill="#E78FB6"/><circle cx="839.2" cy="261.3" r="1.4" fill="#E78FB6"/><circle cx="841.5" cy="261.3" r="1.3" fill="#F0A9C8"/><circle cx="844.7" cy="261.3" r="1.4" fill="#EDA0C2"/><circle cx="857.4" cy="260.7" r="1.3" fill="#E78FB6"/><circle cx="859.9" cy="261.2" r="1.3" fill="#E78FB6"/><circle cx="863.7" cy="260.7" r="1.3" fill="#E78FB6"/><circle cx="866.8" cy="261.1" r="1.3" fill="#EA97BB"/><circle cx="869.0" cy="260.9" r="1.5" fill="#EDA0C2"/><circle cx="872.2" cy="260.9" r="1.3" fill="#F0A9C8"/><circle cx="834.3" cy="264.0" r="1.6" fill="#EA97BB"/><circle cx="837.2" cy="263.7" r="1.5" fill="#EA97BB"/><circle cx="852.5" cy="263.9" r="1.3" fill="#E78FB6"/><circle cx="856.0" cy="263.9" r="1.4" fill="#E78FB6"/><circle cx="858.7" cy="263.8" r="1.6" fill="#F0A9C8"/><circle cx="861.9" cy="263.5" r="1.5" fill="#EEA3C4"/><circle cx="865.3" cy="264.1" r="1.4" fill="#EA97BB"/><circle cx="868.0" cy="263.8" r="1.5" fill="#EDA0C2"/><circle cx="835.5" cy="266.2" r="1.3" fill="#F0A9C8"/><circle cx="844.8" cy="266.6" r="1.5" fill="#E78FB6"/><circle cx="847.8" cy="266.6" r="1.5" fill="#EEA3C4"/><circle cx="851.5" cy="266.3" r="1.6" fill="#EA97BB"/><circle cx="854.3" cy="266.4" r="1.6" fill="#F0A9C8"/><circle cx="857.3" cy="265.9" r="1.3" fill="#EEA3C4"/><circle cx="860.3" cy="266.6" r="1.3" fill="#EEA3C4"/><circle cx="863.2" cy="266.2" r="1.4" fill="#E78FB6"/><circle cx="837.6" cy="269.0" r="1.6" fill="#E78FB6"/><circle cx="843.9" cy="268.8" r="1.5" fill="#E78FB6"/><circle cx="846.2" cy="268.8" r="1.3" fill="#E78FB6"/><circle cx="849.5" cy="269.0" r="1.4" fill="#EA97BB"/><circle cx="852.3" cy="269.0" r="1.5" fill="#E78FB6"/><circle cx="856.1" cy="268.8" r="1.3" fill="#E78FB6"/><circle cx="842.4" cy="271.5" r="1.5" fill="#F0A9C8"/></g>
</g>
<circle cx="854.0" cy="250.0" r="28.8" fill="none" stroke="#A0508A" stroke-width="0.9"/>
<g fill="none" stroke-width="0.9" stroke-dasharray="3.2 2.8">
<path d="M834.2,253.2 L817.3,291.8 M839.9,253.6 L844.7,294.8" stroke="#6A4CA0"/>
<path d="M829.2,309.3 L774,316 M832,316.6 L797,342.6" stroke="#7A5AA8"/>
<path d="M780,334.2 L756.3,357 M786,336.2 L780.4,366.5" stroke="#4878B0"/>
</g>
<circle cx="836.6" cy="250.7" r="3.3" fill="#FBE9F4" fill-opacity="0.85" stroke="#5A4CA0" stroke-width="0.8"/>
<g transform="translate(906.6,0)">
<path d="M-30.6,323.4 L-27.4,314 L-23.6,301.2 C-22.8,296 -21.8,292.5 -19.5,289.5 C-17.5,287.3 -14,286 -9.5,284.6 C-6.5,283.7 -5.9,282.8 -5.7,281 L-5.5,277.2 C-7.2,275 -7.7,272 -7.7,268 C-7.7,263 -4.5,259.6 0,259.6 C4.5,259.6 7.7,263 7.7,268 C7.7,272 7.2,275 5.5,277.2 L5.7,281 C5.9,282.8 6.5,283.7 9.5,284.6 C14,286 17.5,287.3 19.5,289.5 C21.8,292.5 22.8,296 23.6,301.2 L27.4,314 L30.6,323.4 Z" fill="#fff" stroke="#444" stroke-width="0.9" stroke-linejoin="round"/>
<path d="M-21,323.4 L-15.2,307 L-12.7,315.3 L-12.3,323.4 M21,323.4 L15.2,307 L12.7,315.3 L12.3,323.4" fill="none" stroke="#444" stroke-width="0.9" stroke-linejoin="round"/>
</g>
<path d="M881.6,241.3 L914.5,291.5 M852.5,278.8 L913.2,294.5" stroke="#A04080" fill="none" stroke-width="0.9" stroke-dasharray="3.2 2.8"/>
<circle cx="915.95" cy="293.8" r="2.8" fill="#fff" stroke="#B04088" stroke-width="0.9"/>
<line x1="867.9" y1="323.6" x2="943.9" y2="323.6" stroke="#6A8AB8" stroke-width="1.5"/>
<text x="907.9" y="334.5" font-size="13.2" fill="#000" stroke="#000" text-anchor="middle">donor</text>
<path d="M806.7,284.6 V337.3 H859.4" fill="none" stroke="#4a4a4a" stroke-width="1.1"/>
<path d="M810.7,295.2h0M813.6,297.6h0M816.8,297.6h0M818.0,294.8h0M812.7,292.3h0M815.2,296.5h0M810.7,295.9h0M813.9,295.4h0M810.5,295.4h0M815.3,298.0h0M816.1,295.8h0M814.2,295.5h0M812.5,295.9h0M815.0,294.5h0M813.3,294.5h0M816.9,296.9h0M816.3,292.1h0M816.4,295.8h0M815.6,294.9h0M815.2,295.1h0M817.3,297.0h0M816.6,295.3h0M815.5,296.2h0M817.0,293.5h0M813.1,299.6h0" stroke="#2A9C8A" stroke-opacity="0.85" stroke-width="0.8" stroke-linecap="round" fill="none"/>
<path d="M814.2,295.6h0M815.2,297.6h0M814.7,291.6h0M813.5,293.9h0M811.2,294.0h0M813.7,292.0h0M818.3,297.7h0M811.7,297.3h0M816.8,294.8h0M811.7,297.1h0M815.2,294.5h0M817.6,297.8h0M815.6,295.6h0M812.6,295.1h0M812.1,296.7h0M817.2,295.4h0M812.0,298.1h0M815.8,297.5h0M811.3,292.7h0M815.5,292.3h0M811.9,293.4h0M813.6,293.4h0M814.5,297.0h0M814.2,293.2h0M818.1,296.5h0" stroke="#2A9C8A" stroke-opacity="0.85" stroke-width="1.1" stroke-linecap="round" fill="none"/>
<path d="M812.4,294.9h0M810.3,296.8h0M813.7,296.5h0M817.2,297.6h0M812.0,294.1h0M813.9,294.1h0M818.2,295.9h0M815.4,294.9h0M815.1,296.8h0M817.3,295.6h0M813.9,298.3h0M813.9,296.2h0M815.2,296.4h0M818.5,295.1h0M812.6,297.6h0M810.8,295.5h0M815.8,298.6h0M814.8,295.1h0M817.2,294.7h0M815.0,294.3h0M816.1,298.3h0M812.5,296.9h0M816.6,294.3h0M814.9,298.6h0M813.5,297.6h0" stroke="#2A9C8A" stroke-opacity="0.85" stroke-width="1.5" stroke-linecap="round" fill="none"/>
<path d="M837.5,288.1h0M832.0,288.5h0M837.1,289.7h0M837.0,289.7h0M838.8,288.5h0M834.0,290.1h0M833.0,288.3h0M833.2,288.3h0M834.2,288.1h0M836.6,288.2h0M834.0,291.6h0M834.0,288.3h0M836.7,289.3h0M836.6,290.7h0M834.3,290.8h0M835.5,286.2h0M836.1,286.6h0M835.4,285.6h0" stroke="#8A60B8" stroke-opacity="0.85" stroke-width="0.8" stroke-linecap="round" fill="none"/>
<path d="M832.8,287.8h0M838.1,286.9h0M836.7,288.7h0M838.2,289.2h0M833.4,287.1h0M833.3,291.3h0M836.1,287.4h0M833.5,289.4h0M835.9,287.8h0M835.1,291.5h0M838.0,289.9h0M836.6,289.2h0M835.6,286.1h0M833.4,286.9h0M836.1,288.0h0M837.2,285.8h0M838.3,287.1h0M835.6,289.0h0" stroke="#8A60B8" stroke-opacity="0.85" stroke-width="1.1" stroke-linecap="round" fill="none"/>
<path d="M836.7,291.4h0M834.6,285.9h0M837.5,288.0h0M835.7,289.5h0M835.2,288.3h0M836.9,285.1h0M835.6,288.5h0M838.3,290.1h0M836.3,290.2h0M837.0,288.4h0M835.7,287.6h0M835.2,285.7h0M835.9,289.6h0M835.9,285.9h0M834.4,288.3h0M838.2,287.6h0M838.2,287.4h0M835.4,286.1h0" stroke="#8A60B8" stroke-opacity="0.85" stroke-width="1.5" stroke-linecap="round" fill="none"/>
<path d="M854.3,302.0h0M851.3,292.9h0M849.9,304.0h0M850.9,296.2h0M848.6,301.8h0M850.4,294.0h0M855.4,299.5h0M852.3,298.2h0M855.8,303.1h0M855.1,300.5h0M851.1,295.8h0M851.1,301.7h0M850.8,299.4h0M853.7,299.4h0M850.9,303.2h0M855.4,301.4h0M852.7,297.1h0M847.9,300.1h0M853.8,299.9h0M853.0,298.8h0M852.1,299.3h0M848.1,303.0h0M852.6,300.5h0M850.9,298.5h0M849.2,296.8h0M848.3,300.6h0M853.4,296.4h0M849.7,293.1h0M851.3,299.1h0M847.9,303.5h0M854.0,294.1h0M847.8,299.6h0M848.1,302.5h0M847.5,300.8h0M854.6,296.3h0" stroke="#D050A0" stroke-opacity="0.85" stroke-width="0.8" stroke-linecap="round" fill="none"/>
<path d="M851.2,301.6h0M848.2,300.4h0M851.5,299.4h0M851.8,292.7h0M848.8,298.5h0M846.4,302.9h0M849.2,298.7h0M849.3,295.7h0M851.5,295.7h0M846.8,296.8h0M848.8,302.0h0M847.8,302.0h0M848.3,301.8h0M849.0,303.1h0M850.0,295.3h0M846.1,299.6h0M851.2,298.7h0M849.8,300.7h0M853.7,297.9h0M851.7,301.0h0M853.5,300.8h0M847.4,301.3h0M855.4,296.0h0M850.9,293.1h0M848.7,304.3h0M849.5,303.9h0M846.4,301.8h0M848.3,298.4h0M854.1,298.9h0M849.2,294.6h0M847.4,299.6h0M851.0,293.6h0M856.5,296.9h0M855.3,299.9h0M856.4,298.9h0" stroke="#D050A0" stroke-opacity="0.85" stroke-width="1.1" stroke-linecap="round" fill="none"/>
<path d="M854.5,295.8h0M848.7,300.3h0M849.2,293.8h0M849.1,300.1h0M855.5,300.7h0M853.0,299.2h0M851.1,299.0h0M845.5,297.5h0M846.0,298.1h0M849.0,302.8h0M845.4,299.6h0M846.3,298.9h0M848.4,297.1h0M853.1,302.4h0M851.4,294.4h0M854.1,297.8h0M853.0,295.8h0M849.8,294.7h0M850.3,303.2h0M849.0,299.9h0M853.6,301.6h0M854.3,302.3h0M851.5,297.8h0M851.3,299.2h0M854.3,298.4h0M854.9,298.6h0M856.6,298.0h0M855.3,299.2h0M851.9,298.8h0M850.0,299.1h0M852.6,295.4h0M848.6,303.9h0M849.2,301.1h0M852.4,298.5h0M850.4,293.6h0" stroke="#D050A0" stroke-opacity="0.85" stroke-width="1.5" stroke-linecap="round" fill="none"/>
<path d="M829.5,310.1h0M827.0,314.5h0M827.6,302.3h0M834.8,300.5h0M828.1,296.6h0M833.1,294.7h0M822.2,314.7h0M826.6,313.8h0M824.5,310.9h0M833.2,317.6h0M833.8,296.4h0M826.2,302.1h0M829.2,302.7h0M829.7,313.7h0M835.3,307.5h0M831.3,304.8h0M838.9,313.3h0M835.6,313.0h0M830.0,300.9h0M827.9,314.7h0M833.0,316.9h0M828.7,308.5h0M829.5,314.7h0M835.7,313.5h0M839.0,313.7h0M830.8,314.2h0M827.2,308.1h0M837.3,316.4h0M825.8,305.3h0M830.4,317.4h0M829.0,309.6h0M836.1,311.8h0M833.6,312.5h0M828.4,307.0h0M833.7,316.3h0M837.6,315.2h0M841.7,301.5h0M831.7,310.6h0M831.4,301.0h0M834.1,307.3h0M837.2,306.5h0M830.8,296.5h0M838.4,319.0h0M825.7,298.1h0M831.0,298.3h0M831.4,305.6h0M832.6,299.1h0M831.1,305.4h0M838.5,299.2h0M833.6,307.6h0M831.6,304.4h0M825.0,316.0h0M829.7,308.8h0M828.4,300.0h0M833.1,316.8h0M833.6,307.2h0M838.3,318.9h0M839.4,317.0h0M828.1,316.4h0M835.8,317.9h0M826.1,304.2h0M835.7,297.8h0M826.5,316.3h0M822.8,304.4h0M832.2,301.0h0M830.4,320.0h0M839.1,307.2h0M835.2,301.8h0M833.2,314.4h0M835.6,300.2h0M835.4,321.8h0M840.6,299.8h0M833.9,306.1h0M827.3,313.1h0M835.6,307.5h0M825.0,311.9h0M826.9,312.3h0M831.2,316.6h0M829.1,305.8h0M833.8,307.0h0M825.0,313.2h0M838.4,302.7h0M833.6,314.9h0M826.5,318.0h0M830.2,309.8h0" stroke="#4868B8" stroke-opacity="0.85" stroke-width="0.8" stroke-linecap="round" fill="none"/>
<path d="M832.3,303.5h0M835.3,306.7h0M832.9,302.4h0M831.9,309.4h0M836.9,304.8h0M827.6,313.9h0M835.4,299.8h0M831.9,314.3h0M832.2,309.3h0M829.4,313.5h0M830.9,309.9h0M829.1,303.0h0M824.5,300.9h0M834.3,309.9h0M829.7,315.4h0M838.2,312.5h0M831.7,304.4h0M834.1,298.2h0M822.7,315.7h0M828.7,311.1h0M829.0,317.9h0M828.9,299.0h0M834.7,301.8h0M833.1,322.7h0M823.1,305.9h0M831.0,307.1h0M837.1,314.1h0M822.7,309.6h0M822.3,311.3h0M826.0,304.9h0M837.5,302.0h0M834.3,318.4h0M826.9,305.7h0M833.3,310.3h0M834.6,319.8h0M833.8,300.3h0M825.8,311.1h0M832.2,312.7h0M835.2,313.7h0M835.4,299.3h0M831.1,297.1h0M832.4,311.9h0M832.9,300.8h0M836.4,305.2h0M837.5,296.5h0M834.1,318.6h0M833.7,299.4h0M830.1,302.8h0M825.5,310.6h0M836.4,317.0h0M835.3,301.1h0M829.4,311.7h0M832.5,303.5h0M832.7,318.9h0M837.3,300.6h0M825.7,308.8h0M827.7,309.7h0M833.2,303.9h0M833.7,299.9h0M833.6,309.8h0M834.7,313.8h0M833.2,316.6h0M833.3,308.9h0M836.9,315.4h0M835.4,319.9h0M834.5,303.5h0M834.3,301.9h0M835.5,306.1h0M838.0,312.7h0M831.7,305.7h0M835.4,317.0h0M833.5,302.8h0M839.3,302.8h0M832.3,300.7h0M835.4,302.1h0M832.8,309.2h0M832.0,302.7h0M833.6,299.9h0M826.0,313.9h0M834.3,307.2h0M836.2,305.0h0M833.5,301.4h0M822.7,309.8h0M830.3,313.1h0M834.5,303.6h0" stroke="#4868B8" stroke-opacity="0.85" stroke-width="1.1" stroke-linecap="round" fill="none"/>
<path d="M825.9,307.6h0M834.0,301.6h0M831.1,301.9h0M838.1,304.1h0M837.3,309.0h0M828.1,313.2h0M830.2,303.4h0M838.0,301.0h0M826.5,315.5h0M833.0,301.7h0M837.1,301.5h0M831.6,308.0h0M837.0,320.4h0M829.8,317.6h0M830.0,302.8h0M832.3,304.7h0M830.4,309.8h0M827.5,303.3h0M829.2,315.6h0M824.7,318.0h0M833.1,305.1h0M831.8,314.1h0M828.5,309.4h0M828.8,316.5h0M832.7,296.4h0M840.5,305.5h0M833.1,305.1h0M836.1,304.6h0M831.8,295.1h0M841.3,311.7h0M833.7,296.5h0M832.0,310.5h0M831.3,308.8h0M834.1,315.3h0M836.2,304.7h0M834.8,306.5h0M836.1,303.3h0M836.6,306.7h0M831.5,310.9h0M827.6,322.0h0M831.7,307.3h0M837.3,313.5h0M833.1,316.2h0M839.4,311.6h0M827.0,297.8h0M829.5,316.9h0M835.4,310.7h0M823.2,316.3h0M830.8,306.5h0M832.9,320.9h0M831.9,305.7h0M829.2,309.3h0M834.6,307.7h0M825.8,304.4h0M831.1,315.4h0M831.7,308.9h0M830.4,309.1h0M830.8,311.2h0M830.9,307.5h0M837.4,309.4h0M824.8,316.6h0M835.3,306.9h0M831.4,300.7h0M826.6,319.4h0M831.7,299.3h0M836.4,305.7h0M825.0,310.1h0M829.3,307.7h0M829.2,303.0h0M831.3,310.0h0M825.2,315.4h0M827.7,316.1h0M828.4,303.8h0M832.8,309.6h0M832.0,309.9h0M833.1,303.0h0M827.1,314.9h0M836.2,311.8h0M829.3,311.9h0M826.5,304.5h0M835.0,311.1h0M826.8,318.2h0M836.6,316.4h0M829.0,320.3h0M832.4,300.1h0" stroke="#4868B8" stroke-opacity="0.85" stroke-width="1.5" stroke-linecap="round" fill="none"/>
<path d="M815.0,310.7h0M815.8,310.4h0M815.2,314.0h0M814.8,309.3h0M813.5,313.6h0M815.5,313.9h0M816.8,306.8h0M815.1,308.7h0M813.6,314.3h0M818.1,310.4h0M814.9,308.3h0M819.0,309.0h0M817.2,306.1h0M814.2,307.9h0M817.9,305.6h0M817.4,306.1h0M815.6,315.5h0M815.9,310.8h0M815.7,310.5h0M813.9,309.2h0M815.2,312.1h0M814.9,316.4h0M817.9,306.2h0M813.7,313.9h0M815.4,310.0h0M814.2,306.2h0M812.9,307.7h0M816.8,308.7h0M812.7,312.0h0M816.8,309.1h0" stroke="#80C0F0" stroke-opacity="0.85" stroke-width="0.8" stroke-linecap="round" fill="none"/>
<path d="M816.3,316.5h0M812.8,313.1h0M813.4,311.1h0M816.9,310.1h0M816.6,309.4h0M816.1,306.2h0M812.6,313.7h0M810.9,314.0h0M813.6,312.6h0M813.0,311.1h0M813.5,309.6h0M813.7,314.3h0M814.5,309.0h0M815.9,305.9h0M819.0,307.3h0M810.8,311.8h0M813.3,314.4h0M817.2,306.8h0M816.3,309.7h0M813.2,306.2h0M815.1,312.9h0M817.5,304.3h0M813.3,308.0h0M813.9,310.8h0M811.7,313.9h0M815.4,311.0h0M815.4,308.6h0M815.1,306.9h0M815.3,308.3h0M818.2,313.9h0" stroke="#80C0F0" stroke-opacity="0.85" stroke-width="1.1" stroke-linecap="round" fill="none"/>
<path d="M816.8,306.1h0M817.7,314.3h0M817.5,315.2h0M816.0,313.4h0M812.2,308.1h0M817.9,311.9h0M819.4,311.7h0M815.3,314.9h0M819.4,307.8h0M817.4,307.8h0M817.9,308.6h0M819.4,308.0h0M817.5,305.8h0M816.2,304.9h0M812.6,312.1h0M818.4,310.9h0M817.9,308.1h0M815.0,310.7h0M814.2,314.2h0M816.8,310.2h0M820.5,311.7h0M819.2,311.2h0M817.1,306.3h0M813.2,304.2h0M817.8,313.6h0M815.1,308.3h0M820.1,309.4h0M814.3,305.0h0M817.6,308.4h0M815.8,314.4h0" stroke="#80C0F0" stroke-opacity="0.85" stroke-width="1.5" stroke-linecap="round" fill="none"/>
<path d="M845.8,312.4h0M845.0,306.8h0M844.4,302.5h0M844.8,303.6h0M847.1,307.3h0M846.0,305.2h0M845.3,312.5h0M846.4,306.7h0M845.2,305.2h0M845.0,309.3h0M846.4,304.5h0M843.5,306.2h0M843.4,305.5h0M844.4,309.5h0M845.4,306.4h0M844.4,310.2h0M845.7,303.8h0M846.8,310.1h0" stroke="#E07060" stroke-opacity="0.85" stroke-width="0.8" stroke-linecap="round" fill="none"/>
<path d="M845.7,302.7h0M845.4,303.6h0M844.3,307.3h0M843.9,307.1h0M846.2,310.6h0M846.5,307.2h0M845.0,310.7h0M847.0,308.2h0M845.0,308.1h0M845.2,306.3h0M844.7,310.7h0M844.1,311.2h0M843.6,305.2h0M848.0,308.2h0M846.9,311.2h0M846.0,304.1h0M844.3,305.8h0M846.6,306.6h0" stroke="#E07060" stroke-opacity="0.85" stroke-width="1.1" stroke-linecap="round" fill="none"/>
<path d="M845.7,308.3h0M848.2,305.3h0M847.5,309.5h0M846.9,306.1h0M844.0,307.6h0M844.4,313.2h0M844.4,307.9h0M845.7,303.5h0M843.3,310.6h0M844.4,308.4h0M846.8,307.3h0M842.8,310.1h0M844.7,308.6h0M843.9,306.8h0M846.7,305.1h0M845.8,303.7h0M843.9,305.7h0M845.9,305.1h0" stroke="#E07060" stroke-opacity="0.85" stroke-width="1.5" stroke-linecap="round" fill="none"/>
<path d="M843.5,321.4h0M841.8,324.1h0M848.4,321.7h0M842.3,326.8h0M843.5,322.2h0M848.6,325.1h0M843.2,322.0h0M842.8,324.0h0M840.4,327.5h0M847.2,319.6h0M849.6,316.7h0M840.8,324.2h0M851.6,322.8h0M842.6,324.5h0M843.5,325.1h0M846.5,320.8h0M840.7,320.1h0M847.0,320.0h0M838.8,328.4h0M842.1,323.7h0M847.6,319.3h0M842.4,320.7h0M847.3,324.5h0M847.5,321.8h0M838.1,323.4h0M843.1,324.4h0M840.9,326.4h0M850.4,324.8h0M847.8,321.8h0M841.0,324.3h0M841.8,321.1h0M842.7,321.5h0M845.0,322.6h0M847.2,324.4h0M846.2,321.5h0" stroke="#A07060" stroke-opacity="0.85" stroke-width="0.8" stroke-linecap="round" fill="none"/>
<path d="M837.8,323.9h0M844.6,326.2h0M841.4,322.6h0M850.1,322.9h0M850.4,319.2h0M841.2,323.0h0M849.2,320.4h0M847.6,325.7h0M846.2,325.2h0M842.4,326.5h0M845.7,323.2h0M843.7,321.5h0M850.2,324.4h0M850.9,322.8h0M850.7,323.6h0M846.2,323.6h0M841.6,325.9h0M850.7,316.6h0M844.7,324.7h0M846.4,325.8h0M850.2,322.5h0M845.6,324.4h0M841.4,323.5h0M843.4,324.4h0M849.9,318.5h0M838.5,326.7h0M844.8,320.8h0M842.8,323.3h0M838.8,323.7h0M842.4,325.8h0M846.0,324.5h0M850.6,322.2h0M853.6,319.5h0M846.2,320.0h0M847.6,320.1h0" stroke="#A07060" stroke-opacity="0.85" stroke-width="1.1" stroke-linecap="round" fill="none"/>
<path d="M853.9,319.0h0M844.3,321.4h0M844.0,318.9h0M842.6,322.4h0M850.2,318.0h0M840.8,320.6h0M847.2,323.4h0M851.4,319.7h0M845.6,322.9h0M849.0,322.8h0M850.8,322.5h0M840.9,323.1h0M844.3,320.2h0M842.3,326.7h0M843.1,324.3h0M837.4,325.0h0M848.6,322.0h0M847.0,320.9h0M850.8,320.1h0M850.6,324.0h0M845.1,323.9h0M842.9,326.7h0M840.0,323.3h0M839.1,324.8h0M846.6,318.8h0M844.8,323.2h0M852.5,319.4h0M837.4,326.1h0M845.9,323.0h0M847.3,320.0h0M849.3,324.4h0M843.5,326.4h0M846.1,321.3h0M846.9,321.4h0M847.3,324.1h0" stroke="#A07060" stroke-opacity="0.85" stroke-width="1.5" stroke-linecap="round" fill="none"/>
<path d="M822.8,327.9h0M823.5,328.1h0M820.2,331.7h0M823.6,331.8h0M822.3,331.0h0M825.2,331.3h0M826.9,330.2h0M823.3,332.3h0M824.9,331.0h0M823.6,329.2h0M821.9,327.5h0M822.5,331.9h0M820.6,332.6h0M818.0,329.7h0M822.6,331.9h0M825.6,333.4h0M821.9,329.8h0M822.5,331.5h0M819.0,332.3h0M822.0,334.1h0M823.2,331.2h0M822.5,330.8h0" stroke="#E8C840" stroke-opacity="0.85" stroke-width="0.8" stroke-linecap="round" fill="none"/>
<path d="M824.7,329.7h0M822.4,331.0h0M826.3,328.6h0M822.3,332.4h0M825.6,331.1h0M820.1,329.0h0M820.3,333.0h0M819.4,331.8h0M823.2,330.2h0M825.6,330.4h0M821.3,328.9h0M821.0,330.4h0M825.4,330.5h0M819.4,330.5h0M822.2,331.5h0M819.1,331.9h0M820.5,330.4h0M823.7,330.8h0M822.0,331.8h0M823.3,330.3h0M823.1,334.0h0M821.8,333.2h0" stroke="#E8C840" stroke-opacity="0.85" stroke-width="1.1" stroke-linecap="round" fill="none"/>
<path d="M821.0,331.3h0M825.9,333.8h0M821.5,329.2h0M820.4,330.0h0M825.5,331.4h0M823.4,335.2h0M818.6,333.0h0M824.7,330.8h0M819.0,330.5h0M820.5,333.7h0M821.9,328.8h0M822.0,332.8h0M820.0,330.2h0M821.5,332.1h0M819.6,332.4h0M818.4,332.6h0M822.3,328.7h0M824.8,331.6h0M822.5,331.1h0M820.2,329.7h0M825.2,331.9h0M819.3,328.5h0" stroke="#E8C840" stroke-opacity="0.85" stroke-width="1.5" stroke-linecap="round" fill="none"/>
<circle cx="828.5" cy="308.5" r="17.6" fill="none" stroke="#8060A8" stroke-width="0.9"/>
<text x="833.6" y="347.4" font-size="13.2" fill="#000" stroke="#000" text-anchor="middle">clusters</text>
<circle cx="783.0" cy="331.4" r="17.7" fill="#E4E0F4" stroke="#9070B0" stroke-width="0.8"/>
<circle cx="783.0" cy="331.4" r="15.8" fill="#BEB6E8"/>
<path d="M799.5,333.24 L798.95,336.01 L795.28,334.23 L795.43,333.49 Z M797.54,339.42 L795.97,341.76 L793.26,338.71 L793.68,338.08 Z M793.36,344.37 L791.02,345.94 L789.68,342.08 L790.31,341.66 Z M787.61,347.35 L784.84,347.9 L785.09,343.83 L785.83,343.68 Z M781.16,347.9 L778.39,347.35 L780.17,343.68 L780.91,343.83 Z M774.98,345.94 L772.64,344.37 L775.69,341.66 L776.32,342.08 Z M770.03,341.76 L768.46,339.42 L772.32,338.08 L772.74,338.71 Z M767.05,336.01 L766.5,333.24 L770.57,333.49 L770.72,334.23 Z M766.5,329.56 L767.05,326.79 L770.72,328.57 L770.57,329.31 Z M768.46,323.38 L770.03,321.04 L772.74,324.09 L772.32,324.72 Z M772.64,318.43 L774.98,316.86 L776.32,320.72 L775.69,321.14 Z M778.39,315.45 L781.16,314.9 L780.91,318.97 L780.17,319.12 Z M784.84,314.9 L787.61,315.45 L785.83,319.12 L785.09,318.97 Z M791.02,316.86 L793.36,318.43 L790.31,321.14 L789.68,320.72 Z M795.97,321.04 L797.54,323.38 L793.68,324.72 L793.26,324.09 Z M798.95,326.79 L799.5,329.56 L795.43,329.31 L795.28,328.57 Z" fill="#E9E5F7" stroke="#E9E5F7" stroke-width="0.5" stroke-linejoin="round"/>
<circle cx="783.0" cy="332.0" r="6.4" fill="#9088C8"/>
<circle cx="783.4" cy="333.5" r="2.8" fill="#9A92D0" stroke="#4A68A8" stroke-width="0.8"/>
<path d="M780,334.2 L756.3,357 M786,336.2 L780.4,366.5" fill="none" stroke="#4878B0" stroke-width="0.9" stroke-dasharray="3.2 2.8"/>
<text x="743.7" y="325.6" font-size="13.2" fill="#000" stroke="#000">cell</text>
<circle cx="764.7" cy="369.8" r="14.7" fill="none" stroke="#4A80B0" stroke-width="0.8"/>
<g fill="none" stroke-linecap="round" transform="translate(0.5,0.3)"><path d="M755.5,364.5 V375.5 M758.5,365 V374.5 M761.5,366 V373 M767.5,365.5 V374.5 M770.5,364 V376 M773.5,364.5 V375.5" stroke="#A088C8" stroke-width="0.9"/><path d="M752.5,375.5 C757,377 760.5,372 764.5,368 C768.5,364 772,361.5 776.5,364.5" stroke="#B02878" stroke-width="1.7"/><path d="M752.5,363.5 C757,362.5 760.5,367.5 764.5,371.5 C768.5,375.5 772,378 776.5,375" stroke="#1E88B0" stroke-width="1.7"/><path d="M753,362.3 C756,370 759.5,376.5 762.5,376.8 C766,376.5 768,369.5 771,362.5 C773,368 775,372.5 777.3,374" stroke="#3A2A78" stroke-width="1.3"/></g>
<text x="781.1" y="377.2" font-size="13.2" fill="#000" stroke="#000">gene</text>
</g>
<g id="insights">
<rect x="833.8" y="420.5" width="147" height="46.3" rx="7" fill="#EAEEF8" stroke="#8FA3D6" stroke-width="1.5"/>
<rect x="936.5" y="381.9" width="48.1" height="45" rx="7" fill="#EAEEF8" stroke="#8FA3D6" stroke-width="1.5"/>
<rect x="772.4" y="420.6" width="53.4" height="54.3" rx="6.5" fill="#EEF2FB" stroke="#8FA3D6" stroke-width="1.5"/>
<rect x="772" y="481.9" width="151.4" height="53.3" rx="7" fill="#EAEEF8" stroke="#8FA3D6" stroke-width="1.5"/>
<rect x="927.2" y="481.5" width="53.4" height="53.6" rx="6.5" fill="#EAEEF8" stroke="#8FA3D6" stroke-width="1.5"/>
<text font-size="12.2" fill="#111" stroke="#111" x="843.2" y="439.7"><tspan font-weight="bold">Q:</tspan> Can you tell me</text>
<text font-size="12.2" fill="#111" stroke="#111" x="843.2" y="450.7">what is in this data?</text>
<text font-size="12.2" fill="#111" stroke="#111" x="781.8" y="498.1"><tspan font-weight="bold">A:</tspan> This data comprises</text>
<text font-size="12.2" fill="#111" stroke="#111" x="781.8" y="509.1">B cells from healthy</text>
<text font-size="12.2" fill="#111" stroke="#111" x="781.8" y="520.4">kidney...</text>
<circle cx="952.62" cy="393.57" r="6.4" fill="#FBDAB2" stroke="#F2BC88" stroke-width="0.7"/><circle cx="952.62" cy="393.57" r="3" fill="#F6BC90"/>
<circle cx="947.5" cy="404.58" r="6.4" fill="#FBDAB2" stroke="#F2BC88" stroke-width="0.7"/><circle cx="947.5" cy="404.58" r="3" fill="#F6BC90"/>
<circle cx="959.8" cy="403.81" r="6.4" fill="#FBDAB2" stroke="#F2BC88" stroke-width="0.7"/><circle cx="959.8" cy="403.81" r="3" fill="#F6BC90"/>
<circle cx="973.11" cy="403.3" r="6.4" fill="#FBDAB2" stroke="#F2BC88" stroke-width="0.7"/><circle cx="973.11" cy="403.3" r="3" fill="#F6BC90"/>
<circle cx="954.67" cy="414.83" r="6.4" fill="#FBDAB2" stroke="#F2BC88" stroke-width="0.7"/><circle cx="954.67" cy="414.83" r="3" fill="#F6BC90"/>
<circle cx="967.48" cy="414.83" r="6.4" fill="#FBDAB2" stroke="#F2BC88" stroke-width="0.7"/><circle cx="967.48" cy="414.83" r="3" fill="#F6BC90"/>
<g transform="translate(765,415) scale(0.0925)" stroke="#38425A" stroke-width="13" stroke-linejoin="round"><path d="M232,322 C262,262 268,205 295,160 C315,130 340,125 366,125 C392,125 417,130 437,160 C464,205 470,262 502,322 Z" fill="#6A7BA2"/><path d="M180,505 C168,440 200,385 262,366 L320,352 H412 L470,366 C532,385 564,440 552,505 Z" fill="#EF6244"/><path d="M342,300 H392 V345 C392,362 342,362 342,345 Z" fill="#FBEBA8"/><path d="M304,240 C304,212 322,204 340,200 C352,197 360,192 366,186 C372,192 380,197 392,200 C410,204 428,212 428,240 C428,285 404,318 366,318 C328,318 304,285 304,240 Z" fill="#FBEBA8"/><path d="M205,395 H528 L514,545 H220 Z" fill="#E6ECF5"/><rect x="200" y="548" width="333" height="32" rx="12" fill="#EEF2FA"/><circle cx="366" cy="473" r="21" fill="#FBEBA8"/></g>
<g transform="translate(953.4,507.8) scale(0.41)">
<circle cx="-12.5" cy="-21" r="31" fill="#EAEEF8" stroke="#003D66" stroke-width="6.6"/>
<circle cx="-16.7" cy="-22" r="14.3" fill="#045B96"/>
<circle cx="-4" cy="-6" r="2.3" fill="#6CB8EE"/><circle cx="-10.9" cy="-3" r="1.7" fill="#6CB8EE"/>
<path d="M40.9,-13.9 L42.6,-3.6 L32.2,-8.1 A20,16.3 0 1 1 40.9,-13.9 Z" fill="#EAEEF8" stroke="#003D66" stroke-width="4.6" stroke-linejoin="round"/>
<path d="M15.4,-29.3 h8 v6.6 c0,4.3 -2,7.4 -5.6,9 l-1.6,-2.3 c2,-1.2 3,-2.8 3.1,-4.9 h-3.9 Z" fill="#6CB8EE"/>
<path d="M25.7,-29.3 h8 v6.6 c0,4.3 -2,7.4 -5.6,9 l-1.6,-2.3 c2,-1.2 3,-2.8 3.1,-4.9 h-3.9 Z" fill="#6CB8EE"/>
<text x="0" y="52.5" text-anchor="middle" font-weight="bold" font-size="49.5" fill="#003D66" stroke="#003D66" stroke="#003D66" stroke-width="1.3" stroke-linejoin="round" textLength="92.5" lengthAdjust="spacingAndGlyphs">C2S</text>
</g>
</g>
</g></g>
<g id="hub">
<circle cx="612.0" cy="467.2" r="147.2" fill="#fff"/>
<g clip-path="url(#hubclip)">
<path d="M463,468.4 L528,469.1 L528,469.7 L463,470.4 Z" fill="url(#sp0)"/>
<path d="M492.04,381.01 L544.22,419.78 L543.87,420.27 L490.87,382.63 Z" fill="url(#sp1)"/>
<path d="M566.91,327.38 L586.33,389.42 L585.76,389.6 L565.01,328 Z" fill="url(#sp2)"/>
<path d="M658.99,328 L638.24,389.6 L637.67,389.42 L657.09,327.38 Z" fill="url(#sp3)"/>
<path d="M733.13,382.63 L680.13,420.27 L679.78,419.78 L731.96,381.01 Z" fill="url(#sp4)"/>
<path d="M761,470.4 L696,469.7 L696,469.1 L761,468.4 Z" fill="url(#sp5)"/>
</g>
<circle cx="613.7" cy="460.5" r="78.2" fill="#EDF2FB" stroke="#8FA3D4" stroke-width="1.7"/>
<g transform="translate(613.7,460.5) scale(1.0)">
<circle cx="-12.5" cy="-21" r="31" fill="#fff" stroke="#003D66" stroke-width="6.6"/>
<circle cx="-16.7" cy="-22" r="14.3" fill="#045B96"/>
<circle cx="-4" cy="-6" r="2.3" fill="#6CB8EE"/><circle cx="-10.9" cy="-3" r="1.7" fill="#6CB8EE"/>
<path d="M40.9,-13.9 L42.6,-3.6 L32.2,-8.1 A20,16.3 0 1 1 40.9,-13.9 Z" fill="#fff" stroke="#003D66" stroke-width="4.6" stroke-linejoin="round"/>
<path d="M15.4,-29.3 h8 v6.6 c0,4.3 -2,7.4 -5.6,9 l-1.6,-2.3 c2,-1.2 3,-2.8 3.1,-4.9 h-3.9 Z" fill="#6CB8EE"/>
<path d="M25.7,-29.3 h8 v6.6 c0,4.3 -2,7.4 -5.6,9 l-1.6,-2.3 c2,-1.2 3,-2.8 3.1,-4.9 h-3.9 Z" fill="#6CB8EE"/>
<text x="0" y="52.5" text-anchor="middle" font-weight="bold" font-size="49.5" fill="#003D66" stroke="#003D66" stroke="#003D66" stroke-width="1.3" stroke-linejoin="round" textLength="92.5" lengthAdjust="spacingAndGlyphs">C2S</text>
</g>
</g>
</svg>
<div class="cap">
<div style="top:17.3px"><span style="left:0px;transform:scaleX(1.029)">Figure </span><span style="left:60.78px;transform:scaleX(1.029)">1: </span><span style="left:88.73px;transform:scaleX(1.029)">Scaling </span><span style="left:157.46px;transform:scaleX(1.029)">LLM-based </span><span style="left:261.33px;transform:scaleX(1.029)">single-cell </span><span style="left:353.84px;transform:scaleX(1.029)">analysis. </span><span style="left:439.59px;transform:scaleX(1.029)">A </span><span style="left:461.81px;transform:scaleX(1.029)">multidimensional </span><span style="left:612.21px;transform:scaleX(1.029)">expansion </span><span style="left:702.48px;transform:scaleX(1.029)">of </span><span style="left:726.95px;transform:scaleX(1.029)">the </span><span style="left:759.37px;transform:scaleX(1.029)">C2S </span><span style="left:802.03px;transform:scaleX(1.029)">[14] </span><span style="left:843.52px;transform:scaleX(1.029)">framework, </span></div>
<div style="top:39.2px"><span style="left:0px;transform:scaleX(1.022)">demonstrating </span><span style="left:123.02px;transform:scaleX(1.022)">advances </span><span style="left:204.34px;transform:scaleX(1.022)">in </span><span style="left:227.11px;transform:scaleX(1.022)">model </span><span style="left:284.81px;transform:scaleX(1.022)">capacity, </span><span style="left:363.6px;transform:scaleX(1.022)">dataset </span><span style="left:426.9px;transform:scaleX(1.022)">size, </span><span style="left:470.98px;transform:scaleX(1.022)">multimodality, </span><span style="left:597.13px;transform:scaleX(1.022)">multi-cell </span><span style="left:682.98px;transform:scaleX(1.022)">support, </span><span style="left:756.38px;transform:scaleX(1.022)">and </span><span style="left:792.66px;transform:scaleX(1.022)">integration </span><span style="left:887.52px;transform:scaleX(1.022)">across </span></div>
<div style="top:61.1px"><span style="left:0px;transform:scaleX(0.978)">biological </span><span style="left:82.16px;transform:scaleX(0.978)">scales, </span><span style="left:137.96px;transform:scaleX(0.978)">from </span><span style="left:180.23px;transform:scaleX(0.978)">single </span><span style="left:231.14px;transform:scaleX(0.978)">cells </span><span style="left:271.27px;transform:scaleX(0.978)">to </span><span style="left:290.91px;transform:scaleX(0.978)">organism-wide </span><span style="left:411.53px;transform:scaleX(0.978)">insights </span><span style="left:476.48px;transform:scaleX(0.978)">in </span><span style="left:496.13px;transform:scaleX(0.978)">natural </span><span style="left:554.56px;transform:scaleX(0.978)">language. </span><span style="left:636.74px;transform:scaleX(0.978)">This </span><span style="left:675.79px;transform:scaleX(0.978)">framework </span><span style="left:765.48px;transform:scaleX(0.978)">bridges </span><span style="left:827.17px;transform:scaleX(0.978)">computational </span></div>
<div style="top:83.1px"><span style="left:0px;transform:scaleX(1.003)">innovation </span><span style="left:90.12px;transform:scaleX(1.003)">with </span><span style="left:130.49px;transform:scaleX(1.003)">biological </span><span style="left:215.06px;transform:scaleX(1.003)">discovery, </span><span style="left:301.11px;transform:scaleX(1.003)">accelerating </span><span style="left:402.22px;transform:scaleX(1.003)">next-generation </span><span style="left:532.1px;transform:scaleX(1.003)">single-cell </span><span style="left:619.98px;transform:scaleX(1.003)">analysis. </span></div>
</div>
</body></html>
